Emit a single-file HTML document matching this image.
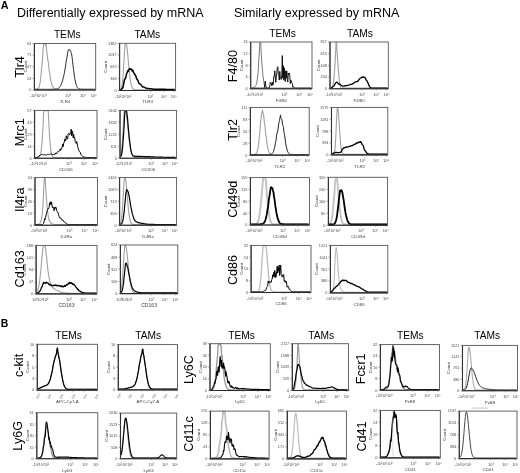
<!DOCTYPE html>
<html><head><meta charset="utf-8"><style>
html,body{margin:0;padding:0;background:#fff;width:520px;height:473px;overflow:hidden}
svg{display:block;font-family:"Liberation Sans", sans-serif;filter:blur(0.35px)}
</style></head><body>
<svg width="520" height="473" viewBox="0 0 520 473">
<rect width="520" height="473" fill="#fff"/>
<text x="0.70" y="8.80" font-size="10.8" text-anchor="start" font-weight="bold" fill="#000">A</text>
<text x="0.80" y="327.00" font-size="10.5" text-anchor="start" font-weight="bold" fill="#000">B</text>
<text x="17.00" y="16.80" font-size="12.5" text-anchor="start" font-weight="normal" fill="#000">Differentially expressed by mRNA</text>
<text x="234.00" y="16.80" font-size="12.5" text-anchor="start" font-weight="normal" fill="#000">Similarly expressed by mRNA</text>
<text x="67.20" y="37.60" font-size="10.2" text-anchor="middle" font-weight="normal" fill="#000">TEMs</text>
<text x="147.30" y="37.60" font-size="10.2" text-anchor="middle" font-weight="normal" fill="#000">TAMs</text>
<text x="282.60" y="37.00" font-size="10.2" text-anchor="middle" font-weight="normal" fill="#000">TEMs</text>
<text x="360.00" y="37.00" font-size="10.2" text-anchor="middle" font-weight="normal" fill="#000">TAMs</text>
<text x="68.50" y="339.00" font-size="10.2" text-anchor="middle" font-weight="normal" fill="#000">TEMs</text>
<text x="148.10" y="339.00" font-size="10.2" text-anchor="middle" font-weight="normal" fill="#000">TAMs</text>
<text x="241.50" y="338.80" font-size="10.2" text-anchor="middle" font-weight="normal" fill="#000">TEMs</text>
<text x="321.20" y="338.80" font-size="10.2" text-anchor="middle" font-weight="normal" fill="#000">TAMs</text>
<text x="410.40" y="338.80" font-size="10.2" text-anchor="middle" font-weight="normal" fill="#000">TEMs</text>
<text x="487.10" y="338.80" font-size="10.2" text-anchor="middle" font-weight="normal" fill="#000">TAMs</text>
<text x="24.00" y="67.00" font-size="12.6" text-anchor="middle" font-weight="normal" fill="#000" transform="rotate(-90 24.00 67.00)">Tlr4</text>
<text x="24.00" y="132.20" font-size="12.6" text-anchor="middle" font-weight="normal" fill="#000" transform="rotate(-90 24.00 132.20)">Mrc1</text>
<text x="24.00" y="199.70" font-size="12.6" text-anchor="middle" font-weight="normal" fill="#000" transform="rotate(-90 24.00 199.70)">Il4ra</text>
<text x="24.00" y="268.90" font-size="12.6" text-anchor="middle" font-weight="normal" fill="#000" transform="rotate(-90 24.00 268.90)">Cd163</text>
<text x="236.60" y="66.10" font-size="12.6" text-anchor="middle" font-weight="normal" fill="#000" transform="rotate(-90 236.60 66.10)">F4/80</text>
<text x="236.80" y="129.80" font-size="12.6" text-anchor="middle" font-weight="normal" fill="#000" transform="rotate(-90 236.80 129.80)">Tlr2</text>
<text x="236.60" y="199.20" font-size="12.6" text-anchor="middle" font-weight="normal" fill="#000" transform="rotate(-90 236.60 199.20)">Cd49d</text>
<text x="236.80" y="270.00" font-size="12.6" text-anchor="middle" font-weight="normal" fill="#000" transform="rotate(-90 236.80 270.00)">Cd86</text>
<text x="23.40" y="365.40" font-size="12.6" text-anchor="middle" font-weight="normal" fill="#000" transform="rotate(-90 23.40 365.40)">c-kit</text>
<text x="22.00" y="435.80" font-size="12.6" text-anchor="middle" font-weight="normal" fill="#000" transform="rotate(-90 22.00 435.80)">Ly6G</text>
<text x="192.80" y="369.50" font-size="12.6" text-anchor="middle" font-weight="normal" fill="#000" transform="rotate(-90 192.80 369.50)">Ly6C</text>
<text x="193.00" y="433.90" font-size="12.6" text-anchor="middle" font-weight="normal" fill="#000" transform="rotate(-90 193.00 433.90)">Cd11c</text>
<text x="365.40" y="368.80" font-size="12.6" text-anchor="middle" font-weight="normal" fill="#000" transform="rotate(-90 365.40 368.80)">Fcεr1</text>
<text x="365.60" y="436.50" font-size="12.6" text-anchor="middle" font-weight="normal" fill="#000" transform="rotate(-90 365.60 436.50)">Cd41</text>
<path d="M35.00,89.29 L35.50,89.28 L36.00,89.26 L36.50,89.21 L37.00,89.09 L37.50,88.90 L38.00,88.56 L38.50,87.87 L39.00,86.96 L39.50,85.23 L40.00,83.14 L40.50,79.98 L41.00,75.33 L41.50,69.19 L42.00,65.11 L42.50,58.71 L43.00,51.04 L43.50,44.19 L44.00,43.80 L44.50,43.80 L45.00,43.80 L45.50,45.47 L46.00,43.80 L46.50,49.28 L47.00,53.48 L47.50,57.47 L48.00,60.86 L48.50,63.50 L49.00,69.32 L49.50,72.14 L50.00,75.47 L50.50,78.81 L51.00,81.09 L51.50,83.50 L52.00,85.04 L52.50,86.19 L53.00,86.98 L53.50,87.75 L54.00,88.27 L54.50,88.60 L55.00,88.86 L55.50,89.03 L56.00,89.12 L56.50,89.19 L57.00,89.24 L57.50,89.26 L58.00,89.28 L58.50,89.29 L59.00,89.29 L59.50,89.30 L60.00,89.30 L60.50,89.30 L61.00,89.30 L61.50,89.30 L62.00,89.30 L62.50,89.30 L63.00,89.30 L63.50,89.30 L64.00,89.30 L64.50,89.30 L65.00,89.30 L65.50,89.30 L66.00,89.30 L66.50,89.30 L67.00,89.30 L67.50,89.30 L68.00,89.30 L68.50,89.30 L69.00,89.30 L69.50,89.30 L70.00,89.30 L70.50,89.30 L71.00,89.30 L71.50,89.30 L72.00,89.30 L72.50,89.30 L73.00,89.30 L73.50,89.30 L74.00,89.30 L74.50,89.30 L75.00,89.30 L75.50,89.30 L76.00,89.30 L76.50,89.30 L77.00,89.30 L77.50,89.30 L78.00,89.30 L78.50,89.30 L79.00,89.30 L79.50,89.30 L80.00,89.30 L80.50,89.30 L81.00,89.30 L81.50,89.30 L82.00,89.30 L82.50,89.30 L83.00,89.30 L83.50,89.30 L84.00,89.30 L84.50,89.30 L85.00,89.30 L85.50,89.30 L86.00,89.30 L86.50,89.30 L87.00,89.30 L87.50,89.30 L88.00,89.30 L88.50,89.30 L89.00,89.30 L89.50,89.30 L90.00,89.30 L90.50,89.30 L91.00,89.30 L91.50,89.30 L92.00,89.30 L92.50,89.30 L93.00,89.30 L93.50,89.30 L94.00,89.30 L94.50,89.30 L95.00,89.30" fill="none" stroke="#a0a0a0" stroke-width="1.1" stroke-linejoin="round"/>
<path d="M35.00,89.30 L35.50,89.30 L36.00,89.30 L36.50,89.30 L37.00,89.30 L37.50,89.30 L38.00,89.30 L38.50,89.30 L39.00,89.30 L39.50,89.30 L40.00,89.30 L40.50,89.30 L41.00,89.30 L41.50,89.30 L42.00,89.30 L42.50,89.30 L43.00,89.30 L43.50,89.30 L44.00,89.30 L44.50,89.30 L45.00,89.30 L45.50,89.30 L46.00,89.30 L46.50,89.30 L47.00,89.30 L47.50,89.30 L48.00,89.30 L48.50,89.30 L49.00,89.30 L49.50,89.30 L50.00,89.30 L50.50,89.30 L51.00,89.30 L51.50,89.30 L52.00,89.30 L52.50,89.29 L53.00,89.29 L53.50,89.28 L54.00,89.27 L54.50,89.25 L55.00,89.22 L55.50,89.19 L56.00,89.13 L56.50,89.06 L57.00,88.93 L57.50,88.78 L58.00,88.55 L58.50,88.30 L59.00,87.93 L59.50,87.36 L60.00,86.68 L60.50,85.90 L61.00,84.91 L61.50,83.68 L62.00,82.26 L62.50,80.91 L63.00,78.78 L63.50,76.76 L64.00,74.77 L64.50,72.25 L65.00,69.16 L65.50,66.36 L66.00,62.58 L66.50,59.05 L67.00,57.52 L67.50,53.70 L68.00,51.31 L68.50,49.59 L69.00,50.15 L69.50,49.88 L70.00,49.71 L70.50,50.57 L71.00,52.33 L71.50,53.82 L72.00,56.59 L72.50,60.72 L73.00,65.59 L73.50,69.35 L74.00,73.00 L74.50,77.22 L75.00,79.63 L75.50,81.97 L76.00,84.06 L76.50,85.63 L77.00,86.84 L77.50,87.71 L78.00,88.22 L78.50,88.64 L79.00,88.88 L79.50,89.05 L80.00,89.16 L80.50,89.22 L81.00,89.26 L81.50,89.28 L82.00,89.29 L82.50,89.29 L83.00,89.30 L83.50,89.30 L84.00,89.30 L84.50,89.30 L85.00,89.30 L85.50,89.30 L86.00,89.30 L86.50,89.30 L87.00,89.30 L87.50,89.30 L88.00,89.30 L88.50,89.30 L89.00,89.30 L89.50,89.30 L90.00,89.30 L90.50,89.30 L91.00,89.30 L91.50,89.30 L92.00,89.30 L92.50,89.30 L93.00,89.30 L93.50,89.30 L94.00,89.30 L94.50,89.30 L95.00,89.30" fill="none" stroke="#222" stroke-width="0.95" stroke-linejoin="round"/>
<rect x="34.40" y="43.50" width="61.30" height="46.50" fill="none" stroke="#555" stroke-width="0.9"/>
<path d="M34.40,43.50 V90.00 H95.70" fill="none" stroke="#2a2a2a" stroke-width="1.1"/>
<line x1="32.60" y1="90.00" x2="34.40" y2="90.00" stroke="#666" stroke-width="0.7"/>
<line x1="32.60" y1="78.38" x2="34.40" y2="78.38" stroke="#666" stroke-width="0.7"/>
<line x1="32.60" y1="66.75" x2="34.40" y2="66.75" stroke="#666" stroke-width="0.7"/>
<line x1="32.60" y1="55.12" x2="34.40" y2="55.12" stroke="#666" stroke-width="0.7"/>
<line x1="32.60" y1="43.50" x2="34.40" y2="43.50" stroke="#666" stroke-width="0.7"/>
<line x1="33.50" y1="90.00" x2="34.40" y2="90.00" stroke="#999" stroke-width="0.4"/>
<line x1="33.50" y1="87.09" x2="34.40" y2="87.09" stroke="#999" stroke-width="0.4"/>
<line x1="33.50" y1="84.19" x2="34.40" y2="84.19" stroke="#999" stroke-width="0.4"/>
<line x1="33.50" y1="81.28" x2="34.40" y2="81.28" stroke="#999" stroke-width="0.4"/>
<line x1="33.50" y1="78.38" x2="34.40" y2="78.38" stroke="#999" stroke-width="0.4"/>
<line x1="33.50" y1="75.47" x2="34.40" y2="75.47" stroke="#999" stroke-width="0.4"/>
<line x1="33.50" y1="72.56" x2="34.40" y2="72.56" stroke="#999" stroke-width="0.4"/>
<line x1="33.50" y1="69.66" x2="34.40" y2="69.66" stroke="#999" stroke-width="0.4"/>
<line x1="33.50" y1="66.75" x2="34.40" y2="66.75" stroke="#999" stroke-width="0.4"/>
<line x1="33.50" y1="63.84" x2="34.40" y2="63.84" stroke="#999" stroke-width="0.4"/>
<line x1="33.50" y1="60.94" x2="34.40" y2="60.94" stroke="#999" stroke-width="0.4"/>
<line x1="33.50" y1="58.03" x2="34.40" y2="58.03" stroke="#999" stroke-width="0.4"/>
<line x1="33.50" y1="55.12" x2="34.40" y2="55.12" stroke="#999" stroke-width="0.4"/>
<line x1="33.50" y1="52.22" x2="34.40" y2="52.22" stroke="#999" stroke-width="0.4"/>
<line x1="33.50" y1="49.31" x2="34.40" y2="49.31" stroke="#999" stroke-width="0.4"/>
<line x1="33.50" y1="46.41" x2="34.40" y2="46.41" stroke="#999" stroke-width="0.4"/>
<line x1="33.50" y1="43.50" x2="34.40" y2="43.50" stroke="#999" stroke-width="0.4"/>
<text x="31.30" y="91.35" font-size="3.8" text-anchor="end" font-weight="normal" fill="#4a4a4a">0</text>
<text x="31.30" y="79.72" font-size="3.8" text-anchor="end" font-weight="normal" fill="#4a4a4a">24</text>
<text x="31.30" y="68.10" font-size="3.8" text-anchor="end" font-weight="normal" fill="#4a4a4a">47</text>
<text x="31.30" y="56.48" font-size="3.8" text-anchor="end" font-weight="normal" fill="#4a4a4a">71</text>
<text x="31.30" y="44.85" font-size="3.8" text-anchor="end" font-weight="normal" fill="#4a4a4a">94</text>
<text x="26.50" y="66.75" font-size="4.4" text-anchor="middle" font-weight="normal" fill="#444" transform="rotate(-90 26.50 66.75)">Count</text>
<text x="38.38" y="97.20" font-size="4.0" text-anchor="middle" font-weight="normal" fill="#4a4a4a" textLength="16.5" lengthAdjust="spacingAndGlyphs">-10²10¹10²</text>
<line x1="68.12" y1="90.00" x2="68.12" y2="91.50" stroke="#666" stroke-width="0.6"/>
<text x="68.12" y="97.20" font-size="4.0" text-anchor="middle" font-weight="normal" fill="#4a4a4a">10³</text>
<line x1="83.13" y1="90.00" x2="83.13" y2="91.50" stroke="#666" stroke-width="0.6"/>
<text x="83.13" y="97.20" font-size="4.0" text-anchor="middle" font-weight="normal" fill="#4a4a4a">10⁴</text>
<line x1="93.86" y1="90.00" x2="93.86" y2="91.50" stroke="#666" stroke-width="0.6"/>
<text x="93.86" y="97.20" font-size="4.0" text-anchor="middle" font-weight="normal" fill="#4a4a4a">10⁵</text>
<text x="65.05" y="102.81" font-size="4.4" text-anchor="middle" font-weight="normal" fill="#444">TLR4</text>
<path d="M120.20,89.54 L120.70,89.16 L121.20,88.36 L121.70,86.79 L122.20,84.03 L122.70,79.68 L123.20,73.52 L123.70,65.77 L124.20,57.28 L124.70,49.43 L125.20,43.83 L125.70,43.60 L126.20,43.60 L126.70,45.22 L127.20,49.16 L127.70,54.09 L128.20,59.57 L128.70,65.13 L129.20,70.40 L129.70,75.10 L130.20,79.07 L130.70,82.25 L131.20,84.68 L131.70,86.45 L132.20,87.69 L132.70,88.52 L133.20,89.05 L133.70,89.38 L134.20,89.57 L134.70,89.68 L135.20,89.74 L135.70,89.77 L136.20,89.79 L136.70,89.79 L137.20,89.80 L137.70,89.80 L138.20,89.80 L138.70,89.80 L139.20,89.80 L139.70,89.80 L140.20,89.80 L140.70,89.80 L141.20,89.80 L141.70,89.80 L142.20,89.80 L142.70,89.80 L143.20,89.80 L143.70,89.80 L144.20,89.80 L144.70,89.80 L145.20,89.80 L145.70,89.80 L146.20,89.80 L146.70,89.80 L147.20,89.80 L147.70,89.80 L148.20,89.80 L148.70,89.80 L149.20,89.80 L149.70,89.80 L150.20,89.80 L150.70,89.80 L151.20,89.80 L151.70,89.80 L152.20,89.80 L152.70,89.80 L153.20,89.80 L153.70,89.80 L154.20,89.80 L154.70,89.80 L155.20,89.80 L155.70,89.80 L156.20,89.80 L156.70,89.80 L157.20,89.80 L157.70,89.80 L158.20,89.80 L158.70,89.80 L159.20,89.80 L159.70,89.80 L160.20,89.80 L160.70,89.80 L161.20,89.80 L161.70,89.80 L162.20,89.80 L162.70,89.80 L163.20,89.80 L163.70,89.80 L164.20,89.80 L164.70,89.80 L165.20,89.80 L165.70,89.80 L166.20,89.80 L166.70,89.80 L167.20,89.80 L167.70,89.80 L168.20,89.80 L168.70,89.80 L169.20,89.80 L169.70,89.80 L170.20,89.80 L170.70,89.80 L171.20,89.80 L171.70,89.80 L172.20,89.80 L172.70,89.80 L173.20,89.80 L173.70,89.80 L174.20,89.80 L174.70,89.80" fill="none" stroke="#a0a0a0" stroke-width="1.1" stroke-linejoin="round"/>
<path d="M120.20,89.80 L120.70,89.80 L121.20,89.74 L121.70,89.13 L122.20,88.43 L122.70,88.08 L123.20,86.60 L123.70,83.60 L124.20,81.00 L124.70,79.10 L125.20,78.66 L125.70,78.04 L126.20,75.37 L126.70,73.57 L127.20,72.47 L127.70,70.71 L128.20,71.47 L128.70,70.18 L129.20,68.92 L129.70,68.77 L130.20,69.19 L130.70,69.01 L131.20,69.35 L131.70,69.33 L132.20,70.99 L132.70,70.20 L133.20,71.43 L133.70,72.65 L134.20,73.24 L134.70,74.62 L135.20,74.82 L135.70,75.67 L136.20,77.25 L136.70,79.12 L137.20,79.25 L137.70,80.05 L138.20,81.27 L138.70,82.46 L139.20,83.57 L139.70,83.79 L140.20,84.05 L140.70,84.33 L141.20,85.16 L141.70,85.83 L142.20,86.44 L142.70,87.01 L143.20,86.99 L143.70,86.95 L144.20,87.11 L144.70,87.46 L145.20,87.67 L145.70,87.84 L146.20,88.13 L146.70,88.31 L147.20,88.49 L147.70,88.53 L148.20,88.56 L148.70,88.56 L149.20,88.67 L149.70,88.64 L150.20,88.69 L150.70,88.81 L151.20,88.80 L151.70,88.87 L152.20,89.00 L152.70,89.01 L153.20,89.11 L153.70,89.15 L154.20,89.15 L154.70,89.18 L155.20,89.22 L155.70,89.21 L156.20,89.20 L156.70,89.21 L157.20,89.23 L157.70,89.22 L158.20,89.21 L158.70,89.25 L159.20,89.23 L159.70,89.24 L160.20,89.27 L160.70,89.27 L161.20,89.26 L161.70,89.28 L162.20,89.31 L162.70,89.27 L163.20,89.29 L163.70,89.30 L164.20,89.35 L164.70,89.35 L165.20,89.38 L165.70,89.35 L166.20,89.39 L166.70,89.40 L167.20,89.40 L167.70,89.40 L168.20,89.41 L168.70,89.44 L169.20,89.45 L169.70,89.44 L170.20,89.46 L170.70,89.46 L171.20,89.49 L171.70,89.49 L172.20,89.48 L172.70,89.49 L173.20,89.51 L173.70,89.48 L174.20,89.49 L174.70,89.49" fill="none" stroke="#000" stroke-width="1.5" stroke-linejoin="round"/>
<rect x="119.60" y="43.30" width="56.00" height="47.20" fill="none" stroke="#555" stroke-width="0.9"/>
<path d="M119.60,43.30 V90.50 H175.60" fill="none" stroke="#2a2a2a" stroke-width="1.1"/>
<line x1="117.80" y1="90.50" x2="119.60" y2="90.50" stroke="#666" stroke-width="0.7"/>
<line x1="117.80" y1="78.70" x2="119.60" y2="78.70" stroke="#666" stroke-width="0.7"/>
<line x1="117.80" y1="66.90" x2="119.60" y2="66.90" stroke="#666" stroke-width="0.7"/>
<line x1="117.80" y1="55.10" x2="119.60" y2="55.10" stroke="#666" stroke-width="0.7"/>
<line x1="117.80" y1="43.30" x2="119.60" y2="43.30" stroke="#666" stroke-width="0.7"/>
<line x1="118.70" y1="90.50" x2="119.60" y2="90.50" stroke="#999" stroke-width="0.4"/>
<line x1="118.70" y1="87.55" x2="119.60" y2="87.55" stroke="#999" stroke-width="0.4"/>
<line x1="118.70" y1="84.60" x2="119.60" y2="84.60" stroke="#999" stroke-width="0.4"/>
<line x1="118.70" y1="81.65" x2="119.60" y2="81.65" stroke="#999" stroke-width="0.4"/>
<line x1="118.70" y1="78.70" x2="119.60" y2="78.70" stroke="#999" stroke-width="0.4"/>
<line x1="118.70" y1="75.75" x2="119.60" y2="75.75" stroke="#999" stroke-width="0.4"/>
<line x1="118.70" y1="72.80" x2="119.60" y2="72.80" stroke="#999" stroke-width="0.4"/>
<line x1="118.70" y1="69.85" x2="119.60" y2="69.85" stroke="#999" stroke-width="0.4"/>
<line x1="118.70" y1="66.90" x2="119.60" y2="66.90" stroke="#999" stroke-width="0.4"/>
<line x1="118.70" y1="63.95" x2="119.60" y2="63.95" stroke="#999" stroke-width="0.4"/>
<line x1="118.70" y1="61.00" x2="119.60" y2="61.00" stroke="#999" stroke-width="0.4"/>
<line x1="118.70" y1="58.05" x2="119.60" y2="58.05" stroke="#999" stroke-width="0.4"/>
<line x1="118.70" y1="55.10" x2="119.60" y2="55.10" stroke="#999" stroke-width="0.4"/>
<line x1="118.70" y1="52.15" x2="119.60" y2="52.15" stroke="#999" stroke-width="0.4"/>
<line x1="118.70" y1="49.20" x2="119.60" y2="49.20" stroke="#999" stroke-width="0.4"/>
<line x1="118.70" y1="46.25" x2="119.60" y2="46.25" stroke="#999" stroke-width="0.4"/>
<line x1="118.70" y1="43.30" x2="119.60" y2="43.30" stroke="#999" stroke-width="0.4"/>
<text x="116.50" y="91.85" font-size="3.8" text-anchor="end" font-weight="normal" fill="#4a4a4a">0</text>
<text x="116.50" y="80.05" font-size="3.8" text-anchor="end" font-weight="normal" fill="#4a4a4a">346</text>
<text x="116.50" y="68.25" font-size="3.8" text-anchor="end" font-weight="normal" fill="#4a4a4a">692</text>
<text x="116.50" y="56.45" font-size="3.8" text-anchor="end" font-weight="normal" fill="#4a4a4a">1037</text>
<text x="116.50" y="44.65" font-size="3.8" text-anchor="end" font-weight="normal" fill="#4a4a4a">1382</text>
<text x="106.80" y="66.90" font-size="4.4" text-anchor="middle" font-weight="normal" fill="#444" transform="rotate(-90 106.80 66.90)">Count</text>
<text x="123.24" y="97.70" font-size="4.0" text-anchor="middle" font-weight="normal" fill="#4a4a4a" textLength="16.5" lengthAdjust="spacingAndGlyphs">-10²10¹10²</text>
<line x1="150.40" y1="90.50" x2="150.40" y2="92.00" stroke="#666" stroke-width="0.6"/>
<text x="150.40" y="97.70" font-size="4.0" text-anchor="middle" font-weight="normal" fill="#4a4a4a">10³</text>
<line x1="164.12" y1="90.50" x2="164.12" y2="92.00" stroke="#666" stroke-width="0.6"/>
<text x="164.12" y="97.70" font-size="4.0" text-anchor="middle" font-weight="normal" fill="#4a4a4a">10⁴</text>
<line x1="173.92" y1="90.50" x2="173.92" y2="92.00" stroke="#666" stroke-width="0.6"/>
<text x="173.92" y="97.70" font-size="4.0" text-anchor="middle" font-weight="normal" fill="#4a4a4a">10⁵</text>
<text x="147.60" y="103.31" font-size="4.4" text-anchor="middle" font-weight="normal" fill="#444">TLR4</text>
<path d="M35.20,157.50 L35.70,157.50 L36.20,157.50 L36.70,157.49 L37.20,157.47 L37.70,157.44 L38.20,157.35 L38.70,157.16 L39.20,156.84 L39.70,156.21 L40.20,155.02 L40.70,153.20 L41.20,150.33 L41.70,145.98 L42.20,140.15 L42.70,132.15 L43.20,122.44 L43.70,111.90 L44.20,110.70 L44.70,110.70 L45.20,110.70 L45.70,110.70 L46.20,110.70 L46.70,110.70 L47.20,110.70 L47.70,110.70 L48.20,110.70 L48.70,119.67 L49.20,130.41 L49.70,138.09 L50.20,144.12 L50.70,149.59 L51.20,152.48 L51.70,154.73 L52.20,155.99 L52.70,156.70 L53.20,157.13 L53.70,157.32 L54.20,157.42 L54.70,157.47 L55.20,157.49 L55.70,157.50 L56.20,157.50 L56.70,157.50 L57.20,157.50 L57.70,157.50 L58.20,157.50 L58.70,157.50 L59.20,157.50 L59.70,157.50 L60.20,157.50 L60.70,157.50 L61.20,157.50 L61.70,157.50 L62.20,157.50 L62.70,157.50 L63.20,157.50 L63.70,157.50 L64.20,157.50 L64.70,157.50 L65.20,157.50 L65.70,157.50 L66.20,157.50 L66.70,157.50 L67.20,157.50 L67.70,157.50 L68.20,157.50 L68.70,157.50 L69.20,157.50 L69.70,157.50 L70.20,157.50 L70.70,157.50 L71.20,157.50 L71.70,157.50 L72.20,157.50 L72.70,157.50 L73.20,157.50 L73.70,157.50 L74.20,157.50 L74.70,157.50 L75.20,157.50 L75.70,157.50 L76.20,157.50 L76.70,157.50 L77.20,157.50 L77.70,157.50 L78.20,157.50 L78.70,157.50 L79.20,157.50 L79.70,157.50 L80.20,157.50 L80.70,157.50 L81.20,157.50 L81.70,157.50 L82.20,157.50 L82.70,157.50 L83.20,157.50 L83.70,157.50 L84.20,157.50 L84.70,157.50 L85.20,157.50 L85.70,157.50 L86.20,157.50 L86.70,157.50 L87.20,157.50 L87.70,157.50 L88.20,157.50 L88.70,157.50 L89.20,157.50 L89.70,157.50 L90.20,157.50 L90.70,157.50 L91.20,157.50 L91.70,157.50 L92.20,157.50 L92.70,157.50 L93.20,157.50 L93.70,157.50 L94.20,157.50 L94.70,157.50 L95.20,157.50 L95.70,157.50 L96.20,157.50" fill="none" stroke="#a0a0a0" stroke-width="1.1" stroke-linejoin="round"/>
<path d="M35.20,157.50 L35.70,157.50 L36.20,157.50 L36.70,157.50 L37.20,157.47 L37.70,157.19 L38.20,156.82 L38.70,156.08 L39.20,155.84 L39.70,155.74 L40.20,155.56 L40.70,154.99 L41.20,155.02 L41.70,154.35 L42.20,154.11 L42.70,154.57 L43.20,154.77 L43.70,154.82 L44.20,154.78 L44.70,154.80 L45.20,154.91 L45.70,154.83 L46.20,155.14 L46.70,154.97 L47.20,154.78 L47.70,154.31 L48.20,154.65 L48.70,154.30 L49.20,154.63 L49.70,154.45 L50.20,154.23 L50.70,153.93 L51.20,154.06 L51.70,154.23 L52.20,154.66 L52.70,154.49 L53.20,154.53 L53.70,154.53 L54.20,154.80 L54.70,153.87 L55.20,154.15 L55.70,153.03 L56.20,152.97 L56.70,153.69 L57.20,152.58 L57.70,151.60 L58.20,151.24 L58.70,151.67 L59.20,151.35 L59.70,150.82 L60.20,148.82 L60.70,150.27 L61.20,148.74 L61.70,148.71 L62.20,146.40 L62.70,144.14 L63.20,146.63 L63.70,143.06 L64.20,142.41 L64.70,139.14 L65.20,139.50 L65.70,140.94 L66.20,135.84 L66.70,136.82 L67.20,139.22 L67.70,138.63 L68.20,134.27 L68.70,133.33 L69.20,133.89 L69.70,134.85 L70.20,133.03 L70.70,132.90 L71.20,129.13 L71.70,135.81 L72.20,130.96 L72.70,132.19 L73.20,137.84 L73.70,134.53 L74.20,138.14 L74.70,137.66 L75.20,141.58 L75.70,142.46 L76.20,143.48 L76.70,141.54 L77.20,143.90 L77.70,146.53 L78.20,148.43 L78.70,150.22 L79.20,151.03 L79.70,151.78 L80.20,152.22 L80.70,154.40 L81.20,154.67 L81.70,155.31 L82.20,155.79 L82.70,156.33 L83.20,156.91 L83.70,157.02 L84.20,157.02 L84.70,157.19 L85.20,157.36 L85.70,157.48 L86.20,157.50 L86.70,157.50 L87.20,157.50 L87.70,157.50 L88.20,157.50 L88.70,157.50 L89.20,157.50 L89.70,157.50 L90.20,157.50 L90.70,157.50 L91.20,157.50 L91.70,157.50 L92.20,157.50 L92.70,157.50 L93.20,157.50 L93.70,157.50 L94.20,157.50 L94.70,157.50 L95.20,157.50 L95.70,157.50 L96.20,157.50" fill="none" stroke="#000" stroke-width="1.0" stroke-linejoin="round"/>
<rect x="34.60" y="110.40" width="62.40" height="47.80" fill="none" stroke="#555" stroke-width="0.9"/>
<path d="M34.60,110.40 V158.20 H97.00" fill="none" stroke="#2a2a2a" stroke-width="1.1"/>
<line x1="32.80" y1="158.20" x2="34.60" y2="158.20" stroke="#666" stroke-width="0.7"/>
<line x1="32.80" y1="146.25" x2="34.60" y2="146.25" stroke="#666" stroke-width="0.7"/>
<line x1="32.80" y1="134.30" x2="34.60" y2="134.30" stroke="#666" stroke-width="0.7"/>
<line x1="32.80" y1="122.35" x2="34.60" y2="122.35" stroke="#666" stroke-width="0.7"/>
<line x1="32.80" y1="110.40" x2="34.60" y2="110.40" stroke="#666" stroke-width="0.7"/>
<line x1="33.70" y1="158.20" x2="34.60" y2="158.20" stroke="#999" stroke-width="0.4"/>
<line x1="33.70" y1="155.21" x2="34.60" y2="155.21" stroke="#999" stroke-width="0.4"/>
<line x1="33.70" y1="152.22" x2="34.60" y2="152.22" stroke="#999" stroke-width="0.4"/>
<line x1="33.70" y1="149.24" x2="34.60" y2="149.24" stroke="#999" stroke-width="0.4"/>
<line x1="33.70" y1="146.25" x2="34.60" y2="146.25" stroke="#999" stroke-width="0.4"/>
<line x1="33.70" y1="143.26" x2="34.60" y2="143.26" stroke="#999" stroke-width="0.4"/>
<line x1="33.70" y1="140.28" x2="34.60" y2="140.28" stroke="#999" stroke-width="0.4"/>
<line x1="33.70" y1="137.29" x2="34.60" y2="137.29" stroke="#999" stroke-width="0.4"/>
<line x1="33.70" y1="134.30" x2="34.60" y2="134.30" stroke="#999" stroke-width="0.4"/>
<line x1="33.70" y1="131.31" x2="34.60" y2="131.31" stroke="#999" stroke-width="0.4"/>
<line x1="33.70" y1="128.32" x2="34.60" y2="128.32" stroke="#999" stroke-width="0.4"/>
<line x1="33.70" y1="125.34" x2="34.60" y2="125.34" stroke="#999" stroke-width="0.4"/>
<line x1="33.70" y1="122.35" x2="34.60" y2="122.35" stroke="#999" stroke-width="0.4"/>
<line x1="33.70" y1="119.36" x2="34.60" y2="119.36" stroke="#999" stroke-width="0.4"/>
<line x1="33.70" y1="116.38" x2="34.60" y2="116.38" stroke="#999" stroke-width="0.4"/>
<line x1="33.70" y1="113.39" x2="34.60" y2="113.39" stroke="#999" stroke-width="0.4"/>
<line x1="33.70" y1="110.40" x2="34.60" y2="110.40" stroke="#999" stroke-width="0.4"/>
<text x="31.50" y="159.55" font-size="3.8" text-anchor="end" font-weight="normal" fill="#4a4a4a">0</text>
<text x="31.50" y="147.60" font-size="3.8" text-anchor="end" font-weight="normal" fill="#4a4a4a">14</text>
<text x="31.50" y="135.65" font-size="3.8" text-anchor="end" font-weight="normal" fill="#4a4a4a">29</text>
<text x="31.50" y="123.70" font-size="3.8" text-anchor="end" font-weight="normal" fill="#4a4a4a">43</text>
<text x="31.50" y="111.75" font-size="3.8" text-anchor="end" font-weight="normal" fill="#4a4a4a">57</text>
<text x="26.70" y="134.30" font-size="4.4" text-anchor="middle" font-weight="normal" fill="#444" transform="rotate(-90 26.70 134.30)">Count</text>
<text x="38.66" y="165.40" font-size="4.0" text-anchor="middle" font-weight="normal" fill="#4a4a4a" textLength="16.5" lengthAdjust="spacingAndGlyphs">-10²10¹10²</text>
<line x1="68.92" y1="158.20" x2="68.92" y2="159.70" stroke="#666" stroke-width="0.6"/>
<text x="68.92" y="165.40" font-size="4.0" text-anchor="middle" font-weight="normal" fill="#4a4a4a">10³</text>
<line x1="84.21" y1="158.20" x2="84.21" y2="159.70" stroke="#666" stroke-width="0.6"/>
<text x="84.21" y="165.40" font-size="4.0" text-anchor="middle" font-weight="normal" fill="#4a4a4a">10⁴</text>
<line x1="95.13" y1="158.20" x2="95.13" y2="159.70" stroke="#666" stroke-width="0.6"/>
<text x="95.13" y="165.40" font-size="4.0" text-anchor="middle" font-weight="normal" fill="#4a4a4a">10⁵</text>
<text x="65.80" y="171.01" font-size="4.4" text-anchor="middle" font-weight="normal" fill="#444">CD206</text>
<path d="M120.60,155.91 L121.10,154.05 L121.60,150.73 L122.10,145.46 L122.60,138.07 L123.10,129.07 L123.60,119.76 L124.10,112.06 L124.60,110.70 L125.10,110.70 L125.60,110.70 L126.10,111.98 L126.60,115.74 L127.10,120.23 L127.60,125.15 L128.10,130.20 L128.60,135.08 L129.10,139.60 L129.60,143.60 L130.10,147.00 L130.60,149.79 L131.10,151.99 L131.60,153.67 L132.10,154.91 L132.60,155.80 L133.10,156.41 L133.60,156.82 L134.10,157.09 L134.60,157.26 L135.10,157.36 L135.60,157.42 L136.10,157.46 L136.60,157.48 L137.10,157.49 L137.60,157.49 L138.10,157.50 L138.60,157.50 L139.10,157.50 L139.60,157.50 L140.10,157.50 L140.60,157.50 L141.10,157.50 L141.60,157.50 L142.10,157.50 L142.60,157.50 L143.10,157.50 L143.60,157.50 L144.10,157.50 L144.60,157.50 L145.10,157.50 L145.60,157.50 L146.10,157.50 L146.60,157.50 L147.10,157.50 L147.60,157.50 L148.10,157.50 L148.60,157.50 L149.10,157.50 L149.60,157.50 L150.10,157.50 L150.60,157.50 L151.10,157.50 L151.60,157.50 L152.10,157.50 L152.60,157.50 L153.10,157.50 L153.60,157.50 L154.10,157.50 L154.60,157.50 L155.10,157.50 L155.60,157.50 L156.10,157.50 L156.60,157.50 L157.10,157.50 L157.60,157.50 L158.10,157.50 L158.60,157.50 L159.10,157.50 L159.60,157.50 L160.10,157.50 L160.60,157.50 L161.10,157.50 L161.60,157.50 L162.10,157.50 L162.60,157.50 L163.10,157.50 L163.60,157.50 L164.10,157.50 L164.60,157.50 L165.10,157.50 L165.60,157.50 L166.10,157.50 L166.60,157.50 L167.10,157.50 L167.60,157.50 L168.10,157.50 L168.60,157.50 L169.10,157.50 L169.60,157.50 L170.10,157.50 L170.60,157.50 L171.10,157.50 L171.60,157.50 L172.10,157.50 L172.60,157.50 L173.10,157.50 L173.60,157.50 L174.10,157.50 L174.60,157.50 L175.10,157.50 L175.60,157.50" fill="none" stroke="#a0a0a0" stroke-width="1.1" stroke-linejoin="round"/>
<path d="M120.60,156.70 L121.10,155.83 L121.60,154.28 L122.10,151.60 L122.60,147.43 L123.10,140.50 L123.60,133.68 L124.10,126.22 L124.60,115.61 L125.10,110.70 L125.60,110.70 L126.10,110.70 L126.60,110.99 L127.10,115.07 L127.60,118.88 L128.10,125.38 L128.60,130.68 L129.10,136.18 L129.60,140.63 L130.10,144.55 L130.60,148.23 L131.10,151.10 L131.60,152.96 L132.10,154.20 L132.60,155.09 L133.10,155.63 L133.60,155.99 L134.10,156.14 L134.60,156.15 L135.10,156.31 L135.60,156.30 L136.10,156.31 L136.60,156.29 L137.10,156.38 L137.60,156.38 L138.10,156.40 L138.60,156.39 L139.10,156.40 L139.60,156.35 L140.10,156.38 L140.60,156.39 L141.10,156.49 L141.60,156.51 L142.10,156.45 L142.60,156.45 L143.10,156.51 L143.60,156.52 L144.10,156.59 L144.60,156.57 L145.10,156.54 L145.60,156.57 L146.10,156.59 L146.60,156.60 L147.10,156.68 L147.60,156.71 L148.10,156.72 L148.60,156.71 L149.10,156.72 L149.60,156.72 L150.10,156.76 L150.60,156.79 L151.10,156.80 L151.60,156.84 L152.10,156.85 L152.60,156.91 L153.10,156.88 L153.60,156.93 L154.10,156.91 L154.60,156.95 L155.10,156.98 L155.60,157.01 L156.10,157.02 L156.60,157.02 L157.10,157.04 L157.60,157.08 L158.10,157.10 L158.60,157.10 L159.10,157.11 L159.60,157.13 L160.10,157.16 L160.60,157.16 L161.10,157.19 L161.60,157.20 L162.10,157.20 L162.60,157.20 L163.10,157.23 L163.60,157.23 L164.10,157.26 L164.60,157.27 L165.10,157.28 L165.60,157.28 L166.10,157.30 L166.60,157.31 L167.10,157.33 L167.60,157.33 L168.10,157.34 L168.60,157.35 L169.10,157.36 L169.60,157.36 L170.10,157.37 L170.60,157.38 L171.10,157.39 L171.60,157.40 L172.10,157.40 L172.60,157.40 L173.10,157.41 L173.60,157.41 L174.10,157.42 L174.60,157.43 L175.10,157.43 L175.60,157.43" fill="none" stroke="#000" stroke-width="1.2" stroke-linejoin="round"/>
<rect x="120.00" y="110.40" width="56.60" height="47.80" fill="none" stroke="#555" stroke-width="0.9"/>
<path d="M120.00,110.40 V158.20 H176.60" fill="none" stroke="#2a2a2a" stroke-width="1.1"/>
<line x1="118.20" y1="158.20" x2="120.00" y2="158.20" stroke="#666" stroke-width="0.7"/>
<line x1="118.20" y1="146.25" x2="120.00" y2="146.25" stroke="#666" stroke-width="0.7"/>
<line x1="118.20" y1="134.30" x2="120.00" y2="134.30" stroke="#666" stroke-width="0.7"/>
<line x1="118.20" y1="122.35" x2="120.00" y2="122.35" stroke="#666" stroke-width="0.7"/>
<line x1="118.20" y1="110.40" x2="120.00" y2="110.40" stroke="#666" stroke-width="0.7"/>
<line x1="119.10" y1="158.20" x2="120.00" y2="158.20" stroke="#999" stroke-width="0.4"/>
<line x1="119.10" y1="155.21" x2="120.00" y2="155.21" stroke="#999" stroke-width="0.4"/>
<line x1="119.10" y1="152.22" x2="120.00" y2="152.22" stroke="#999" stroke-width="0.4"/>
<line x1="119.10" y1="149.24" x2="120.00" y2="149.24" stroke="#999" stroke-width="0.4"/>
<line x1="119.10" y1="146.25" x2="120.00" y2="146.25" stroke="#999" stroke-width="0.4"/>
<line x1="119.10" y1="143.26" x2="120.00" y2="143.26" stroke="#999" stroke-width="0.4"/>
<line x1="119.10" y1="140.28" x2="120.00" y2="140.28" stroke="#999" stroke-width="0.4"/>
<line x1="119.10" y1="137.29" x2="120.00" y2="137.29" stroke="#999" stroke-width="0.4"/>
<line x1="119.10" y1="134.30" x2="120.00" y2="134.30" stroke="#999" stroke-width="0.4"/>
<line x1="119.10" y1="131.31" x2="120.00" y2="131.31" stroke="#999" stroke-width="0.4"/>
<line x1="119.10" y1="128.32" x2="120.00" y2="128.32" stroke="#999" stroke-width="0.4"/>
<line x1="119.10" y1="125.34" x2="120.00" y2="125.34" stroke="#999" stroke-width="0.4"/>
<line x1="119.10" y1="122.35" x2="120.00" y2="122.35" stroke="#999" stroke-width="0.4"/>
<line x1="119.10" y1="119.36" x2="120.00" y2="119.36" stroke="#999" stroke-width="0.4"/>
<line x1="119.10" y1="116.38" x2="120.00" y2="116.38" stroke="#999" stroke-width="0.4"/>
<line x1="119.10" y1="113.39" x2="120.00" y2="113.39" stroke="#999" stroke-width="0.4"/>
<line x1="119.10" y1="110.40" x2="120.00" y2="110.40" stroke="#999" stroke-width="0.4"/>
<text x="116.90" y="159.55" font-size="3.8" text-anchor="end" font-weight="normal" fill="#4a4a4a">0</text>
<text x="116.90" y="147.60" font-size="3.8" text-anchor="end" font-weight="normal" fill="#4a4a4a">611</text>
<text x="116.90" y="135.65" font-size="3.8" text-anchor="end" font-weight="normal" fill="#4a4a4a">1221</text>
<text x="116.90" y="123.70" font-size="3.8" text-anchor="end" font-weight="normal" fill="#4a4a4a">1832</text>
<text x="116.90" y="111.75" font-size="3.8" text-anchor="end" font-weight="normal" fill="#4a4a4a">2442</text>
<text x="107.20" y="134.30" font-size="4.4" text-anchor="middle" font-weight="normal" fill="#444" transform="rotate(-90 107.20 134.30)">Count</text>
<text x="123.68" y="165.40" font-size="4.0" text-anchor="middle" font-weight="normal" fill="#4a4a4a" textLength="16.5" lengthAdjust="spacingAndGlyphs">-10²10¹10²</text>
<line x1="151.13" y1="158.20" x2="151.13" y2="159.70" stroke="#666" stroke-width="0.6"/>
<text x="151.13" y="165.40" font-size="4.0" text-anchor="middle" font-weight="normal" fill="#4a4a4a">10³</text>
<line x1="165.00" y1="158.20" x2="165.00" y2="159.70" stroke="#666" stroke-width="0.6"/>
<text x="165.00" y="165.40" font-size="4.0" text-anchor="middle" font-weight="normal" fill="#4a4a4a">10⁴</text>
<line x1="174.90" y1="158.20" x2="174.90" y2="159.70" stroke="#666" stroke-width="0.6"/>
<text x="174.90" y="165.40" font-size="4.0" text-anchor="middle" font-weight="normal" fill="#4a4a4a">10⁵</text>
<text x="148.30" y="171.01" font-size="4.4" text-anchor="middle" font-weight="normal" fill="#444">CD206</text>
<path d="M35.60,224.49 L36.10,224.48 L36.60,224.46 L37.10,224.43 L37.60,224.37 L38.10,224.29 L38.60,224.12 L39.10,223.92 L39.60,223.61 L40.10,223.10 L40.60,222.23 L41.10,220.73 L41.60,218.14 L42.10,215.15 L42.60,209.49 L43.10,203.04 L43.60,191.46 L44.10,181.12 L44.60,177.90 L45.10,177.90 L45.60,186.50 L46.10,193.63 L46.60,200.54 L47.10,206.92 L47.60,211.42 L48.10,215.27 L48.60,218.36 L49.10,220.12 L49.60,220.98 L50.10,221.96 L50.60,222.79 L51.10,223.16 L51.60,223.59 L52.10,223.87 L52.60,224.08 L53.10,224.23 L53.60,224.33 L54.10,224.39 L54.60,224.43 L55.10,224.46 L55.60,224.48 L56.10,224.49 L56.60,224.49 L57.10,224.50 L57.60,224.50 L58.10,224.50 L58.60,224.50 L59.10,224.50 L59.60,224.50 L60.10,224.50 L60.60,224.50 L61.10,224.50 L61.60,224.50 L62.10,224.50 L62.60,224.50 L63.10,224.50 L63.60,224.50 L64.10,224.50 L64.60,224.50 L65.10,224.50 L65.60,224.50 L66.10,224.50 L66.60,224.50 L67.10,224.50 L67.60,224.50 L68.10,224.50 L68.60,224.50 L69.10,224.50 L69.60,224.50 L70.10,224.50 L70.60,224.50 L71.10,224.50 L71.60,224.50 L72.10,224.50 L72.60,224.50 L73.10,224.50 L73.60,224.50 L74.10,224.50 L74.60,224.50 L75.10,224.50 L75.60,224.50 L76.10,224.50 L76.60,224.50 L77.10,224.50 L77.60,224.50 L78.10,224.50 L78.60,224.50 L79.10,224.50 L79.60,224.50 L80.10,224.50 L80.60,224.50 L81.10,224.50 L81.60,224.50 L82.10,224.50 L82.60,224.50 L83.10,224.50 L83.60,224.50 L84.10,224.50 L84.60,224.50 L85.10,224.50 L85.60,224.50 L86.10,224.50 L86.60,224.50 L87.10,224.50 L87.60,224.50 L88.10,224.50 L88.60,224.50 L89.10,224.50 L89.60,224.50 L90.10,224.50 L90.60,224.50 L91.10,224.50 L91.60,224.50 L92.10,224.50 L92.60,224.50 L93.10,224.50 L93.60,224.50 L94.10,224.50 L94.60,224.50 L95.10,224.50 L95.60,224.50 L96.10,224.50 L96.60,224.50" fill="none" stroke="#a0a0a0" stroke-width="1.1" stroke-linejoin="round"/>
<path d="M35.60,224.50 L36.10,224.50 L36.60,224.50 L37.10,224.50 L37.60,224.50 L38.10,224.50 L38.60,224.50 L39.10,224.50 L39.60,224.50 L40.10,224.50 L40.60,224.50 L41.10,224.50 L41.60,224.50 L42.10,224.50 L42.60,224.48 L43.10,224.06 L43.60,223.29 L44.10,221.26 L44.60,218.66 L45.10,219.45 L45.60,217.58 L46.10,214.61 L46.60,213.19 L47.10,210.65 L47.60,210.14 L48.10,208.24 L48.60,208.54 L49.10,207.48 L49.60,202.79 L50.10,204.59 L50.60,201.76 L51.10,204.64 L51.60,201.97 L52.10,206.11 L52.60,207.85 L53.10,206.86 L53.60,207.49 L54.10,210.77 L54.60,207.40 L55.10,206.86 L55.60,208.39 L56.10,207.58 L56.60,210.31 L57.10,211.57 L57.60,211.96 L58.10,212.87 L58.60,214.76 L59.10,216.39 L59.60,217.74 L60.10,218.02 L60.60,217.67 L61.10,219.07 L61.60,219.63 L62.10,220.35 L62.60,219.67 L63.10,220.35 L63.60,221.43 L64.10,221.93 L64.60,222.14 L65.10,222.26 L65.60,222.63 L66.10,223.70 L66.60,223.83 L67.10,224.04 L67.60,224.40 L68.10,224.50 L68.60,224.50 L69.10,224.50 L69.60,224.50 L70.10,224.50 L70.60,224.50 L71.10,224.50 L71.60,224.50 L72.10,224.50 L72.60,224.50 L73.10,224.50 L73.60,224.50 L74.10,224.50 L74.60,224.50 L75.10,224.50 L75.60,224.50 L76.10,224.50 L76.60,224.50 L77.10,224.50 L77.60,224.50 L78.10,224.50 L78.60,224.50 L79.10,224.50 L79.60,224.50 L80.10,224.50 L80.60,224.50 L81.10,224.50 L81.60,224.50 L82.10,224.50 L82.60,224.50 L83.10,224.50 L83.60,224.50 L84.10,224.50 L84.60,224.50 L85.10,224.50 L85.60,224.50 L86.10,224.50 L86.60,224.50 L87.10,224.50 L87.60,224.50 L88.10,224.50 L88.60,224.50 L89.10,224.50 L89.60,224.50 L90.10,224.50 L90.60,224.50 L91.10,224.50 L91.60,224.50 L92.10,224.50 L92.60,224.50 L93.10,224.50 L93.60,224.50 L94.10,224.50 L94.60,224.50 L95.10,224.50 L95.60,224.50 L96.10,224.50 L96.60,224.50" fill="none" stroke="#000" stroke-width="1.0" stroke-linejoin="round"/>
<rect x="35.00" y="177.60" width="62.50" height="47.60" fill="none" stroke="#555" stroke-width="0.9"/>
<path d="M35.00,177.60 V225.20 H97.50" fill="none" stroke="#2a2a2a" stroke-width="1.1"/>
<line x1="33.20" y1="225.20" x2="35.00" y2="225.20" stroke="#666" stroke-width="0.7"/>
<line x1="33.20" y1="213.30" x2="35.00" y2="213.30" stroke="#666" stroke-width="0.7"/>
<line x1="33.20" y1="201.40" x2="35.00" y2="201.40" stroke="#666" stroke-width="0.7"/>
<line x1="33.20" y1="189.50" x2="35.00" y2="189.50" stroke="#666" stroke-width="0.7"/>
<line x1="33.20" y1="177.60" x2="35.00" y2="177.60" stroke="#666" stroke-width="0.7"/>
<line x1="34.10" y1="225.20" x2="35.00" y2="225.20" stroke="#999" stroke-width="0.4"/>
<line x1="34.10" y1="222.22" x2="35.00" y2="222.22" stroke="#999" stroke-width="0.4"/>
<line x1="34.10" y1="219.25" x2="35.00" y2="219.25" stroke="#999" stroke-width="0.4"/>
<line x1="34.10" y1="216.27" x2="35.00" y2="216.27" stroke="#999" stroke-width="0.4"/>
<line x1="34.10" y1="213.30" x2="35.00" y2="213.30" stroke="#999" stroke-width="0.4"/>
<line x1="34.10" y1="210.32" x2="35.00" y2="210.32" stroke="#999" stroke-width="0.4"/>
<line x1="34.10" y1="207.35" x2="35.00" y2="207.35" stroke="#999" stroke-width="0.4"/>
<line x1="34.10" y1="204.38" x2="35.00" y2="204.38" stroke="#999" stroke-width="0.4"/>
<line x1="34.10" y1="201.40" x2="35.00" y2="201.40" stroke="#999" stroke-width="0.4"/>
<line x1="34.10" y1="198.42" x2="35.00" y2="198.42" stroke="#999" stroke-width="0.4"/>
<line x1="34.10" y1="195.45" x2="35.00" y2="195.45" stroke="#999" stroke-width="0.4"/>
<line x1="34.10" y1="192.47" x2="35.00" y2="192.47" stroke="#999" stroke-width="0.4"/>
<line x1="34.10" y1="189.50" x2="35.00" y2="189.50" stroke="#999" stroke-width="0.4"/>
<line x1="34.10" y1="186.52" x2="35.00" y2="186.52" stroke="#999" stroke-width="0.4"/>
<line x1="34.10" y1="183.55" x2="35.00" y2="183.55" stroke="#999" stroke-width="0.4"/>
<line x1="34.10" y1="180.57" x2="35.00" y2="180.57" stroke="#999" stroke-width="0.4"/>
<line x1="34.10" y1="177.60" x2="35.00" y2="177.60" stroke="#999" stroke-width="0.4"/>
<text x="31.90" y="226.55" font-size="3.8" text-anchor="end" font-weight="normal" fill="#4a4a4a">0</text>
<text x="31.90" y="214.65" font-size="3.8" text-anchor="end" font-weight="normal" fill="#4a4a4a">13</text>
<text x="31.90" y="202.75" font-size="3.8" text-anchor="end" font-weight="normal" fill="#4a4a4a">26</text>
<text x="31.90" y="190.85" font-size="3.8" text-anchor="end" font-weight="normal" fill="#4a4a4a">39</text>
<text x="31.90" y="178.95" font-size="3.8" text-anchor="end" font-weight="normal" fill="#4a4a4a">54</text>
<text x="27.10" y="201.40" font-size="4.4" text-anchor="middle" font-weight="normal" fill="#444" transform="rotate(-90 27.10 201.40)">Count</text>
<text x="39.06" y="232.40" font-size="4.0" text-anchor="middle" font-weight="normal" fill="#4a4a4a" textLength="16.5" lengthAdjust="spacingAndGlyphs">-10²10¹10²</text>
<line x1="69.38" y1="225.20" x2="69.38" y2="226.70" stroke="#666" stroke-width="0.6"/>
<text x="69.38" y="232.40" font-size="4.0" text-anchor="middle" font-weight="normal" fill="#4a4a4a">10³</text>
<line x1="84.69" y1="225.20" x2="84.69" y2="226.70" stroke="#666" stroke-width="0.6"/>
<text x="84.69" y="232.40" font-size="4.0" text-anchor="middle" font-weight="normal" fill="#4a4a4a">10⁴</text>
<line x1="95.62" y1="225.20" x2="95.62" y2="226.70" stroke="#666" stroke-width="0.6"/>
<text x="95.62" y="232.40" font-size="4.0" text-anchor="middle" font-weight="normal" fill="#4a4a4a">10⁵</text>
<text x="66.25" y="238.01" font-size="4.4" text-anchor="middle" font-weight="normal" fill="#444">IL4Ra</text>
<path d="M120.20,223.73 L120.70,222.70 L121.20,220.68 L121.70,217.15 L122.20,211.68 L122.70,204.22 L123.20,195.39 L123.70,186.60 L124.20,179.76 L124.70,177.90 L125.20,177.90 L125.70,179.76 L126.20,184.01 L126.70,189.41 L127.20,195.39 L127.70,201.37 L128.20,206.90 L128.70,211.68 L129.20,215.56 L129.70,218.53 L130.20,220.68 L130.70,222.16 L131.20,223.13 L131.70,223.73 L132.20,224.09 L132.70,224.29 L133.20,224.40 L133.70,224.45 L134.20,224.48 L134.70,224.49 L135.20,224.50 L135.70,224.50 L136.20,224.50 L136.70,224.50 L137.20,224.50 L137.70,224.50 L138.20,224.50 L138.70,224.50 L139.20,224.50 L139.70,224.50 L140.20,224.50 L140.70,224.50 L141.20,224.50 L141.70,224.50 L142.20,224.50 L142.70,224.50 L143.20,224.50 L143.70,224.50 L144.20,224.50 L144.70,224.50 L145.20,224.50 L145.70,224.50 L146.20,224.50 L146.70,224.50 L147.20,224.50 L147.70,224.50 L148.20,224.50 L148.70,224.50 L149.20,224.50 L149.70,224.50 L150.20,224.50 L150.70,224.50 L151.20,224.50 L151.70,224.50 L152.20,224.50 L152.70,224.50 L153.20,224.50 L153.70,224.50 L154.20,224.50 L154.70,224.50 L155.20,224.50 L155.70,224.50 L156.20,224.50 L156.70,224.50 L157.20,224.50 L157.70,224.50 L158.20,224.50 L158.70,224.50 L159.20,224.50 L159.70,224.50 L160.20,224.50 L160.70,224.50 L161.20,224.50 L161.70,224.50 L162.20,224.50 L162.70,224.50 L163.20,224.50 L163.70,224.50 L164.20,224.50 L164.70,224.50 L165.20,224.50 L165.70,224.50 L166.20,224.50 L166.70,224.50 L167.20,224.50 L167.70,224.50 L168.20,224.50 L168.70,224.50 L169.20,224.50 L169.70,224.50 L170.20,224.50 L170.70,224.50 L171.20,224.50 L171.70,224.50 L172.20,224.50 L172.70,224.50 L173.20,224.50 L173.70,224.50 L174.20,224.50 L174.70,224.50 L175.20,224.50 L175.70,224.50" fill="none" stroke="#a0a0a0" stroke-width="1.1" stroke-linejoin="round"/>
<path d="M120.20,224.40 L120.70,224.29 L121.20,224.04 L121.70,223.51 L122.20,222.56 L122.70,221.22 L123.20,218.70 L123.70,215.16 L124.20,211.45 L124.70,205.24 L125.20,201.02 L125.70,195.04 L126.20,191.43 L126.70,189.47 L127.20,190.41 L127.70,190.92 L128.20,192.00 L128.70,194.47 L129.20,196.46 L129.70,199.72 L130.20,202.65 L130.70,206.19 L131.20,208.11 L131.70,210.85 L132.20,213.38 L132.70,214.93 L133.20,216.64 L133.70,218.21 L134.20,219.42 L134.70,220.15 L135.20,220.91 L135.70,221.38 L136.20,221.68 L136.70,222.03 L137.20,222.19 L137.70,222.36 L138.20,222.59 L138.70,222.63 L139.20,222.84 L139.70,222.87 L140.20,222.99 L140.70,223.13 L141.20,223.28 L141.70,223.34 L142.20,223.46 L142.70,223.51 L143.20,223.66 L143.70,223.70 L144.20,223.78 L144.70,223.87 L145.20,223.94 L145.70,224.03 L146.20,224.06 L146.70,224.13 L147.20,224.17 L147.70,224.22 L148.20,224.27 L148.70,224.29 L149.20,224.32 L149.70,224.36 L150.20,224.38 L150.70,224.40 L151.20,224.42 L151.70,224.43 L152.20,224.44 L152.70,224.45 L153.20,224.46 L153.70,224.47 L154.20,224.47 L154.70,224.48 L155.20,224.48 L155.70,224.49 L156.20,224.49 L156.70,224.49 L157.20,224.49 L157.70,224.50 L158.20,224.50 L158.70,224.50 L159.20,224.50 L159.70,224.50 L160.20,224.50 L160.70,224.50 L161.20,224.50 L161.70,224.50 L162.20,224.50 L162.70,224.50 L163.20,224.50 L163.70,224.50 L164.20,224.50 L164.70,224.50 L165.20,224.50 L165.70,224.50 L166.20,224.50 L166.70,224.50 L167.20,224.50 L167.70,224.50 L168.20,224.50 L168.70,224.50 L169.20,224.50 L169.70,224.50 L170.20,224.50 L170.70,224.50 L171.20,224.50 L171.70,224.50 L172.20,224.50 L172.70,224.50 L173.20,224.50 L173.70,224.50 L174.20,224.50 L174.70,224.50 L175.20,224.50 L175.70,224.50" fill="none" stroke="#000" stroke-width="1.2" stroke-linejoin="round"/>
<rect x="119.60" y="177.60" width="57.00" height="47.60" fill="none" stroke="#555" stroke-width="0.9"/>
<path d="M119.60,177.60 V225.20 H176.60" fill="none" stroke="#2a2a2a" stroke-width="1.1"/>
<line x1="117.80" y1="225.20" x2="119.60" y2="225.20" stroke="#666" stroke-width="0.7"/>
<line x1="117.80" y1="213.30" x2="119.60" y2="213.30" stroke="#666" stroke-width="0.7"/>
<line x1="117.80" y1="201.40" x2="119.60" y2="201.40" stroke="#666" stroke-width="0.7"/>
<line x1="117.80" y1="189.50" x2="119.60" y2="189.50" stroke="#666" stroke-width="0.7"/>
<line x1="117.80" y1="177.60" x2="119.60" y2="177.60" stroke="#666" stroke-width="0.7"/>
<line x1="118.70" y1="225.20" x2="119.60" y2="225.20" stroke="#999" stroke-width="0.4"/>
<line x1="118.70" y1="222.22" x2="119.60" y2="222.22" stroke="#999" stroke-width="0.4"/>
<line x1="118.70" y1="219.25" x2="119.60" y2="219.25" stroke="#999" stroke-width="0.4"/>
<line x1="118.70" y1="216.27" x2="119.60" y2="216.27" stroke="#999" stroke-width="0.4"/>
<line x1="118.70" y1="213.30" x2="119.60" y2="213.30" stroke="#999" stroke-width="0.4"/>
<line x1="118.70" y1="210.32" x2="119.60" y2="210.32" stroke="#999" stroke-width="0.4"/>
<line x1="118.70" y1="207.35" x2="119.60" y2="207.35" stroke="#999" stroke-width="0.4"/>
<line x1="118.70" y1="204.38" x2="119.60" y2="204.38" stroke="#999" stroke-width="0.4"/>
<line x1="118.70" y1="201.40" x2="119.60" y2="201.40" stroke="#999" stroke-width="0.4"/>
<line x1="118.70" y1="198.42" x2="119.60" y2="198.42" stroke="#999" stroke-width="0.4"/>
<line x1="118.70" y1="195.45" x2="119.60" y2="195.45" stroke="#999" stroke-width="0.4"/>
<line x1="118.70" y1="192.47" x2="119.60" y2="192.47" stroke="#999" stroke-width="0.4"/>
<line x1="118.70" y1="189.50" x2="119.60" y2="189.50" stroke="#999" stroke-width="0.4"/>
<line x1="118.70" y1="186.52" x2="119.60" y2="186.52" stroke="#999" stroke-width="0.4"/>
<line x1="118.70" y1="183.55" x2="119.60" y2="183.55" stroke="#999" stroke-width="0.4"/>
<line x1="118.70" y1="180.57" x2="119.60" y2="180.57" stroke="#999" stroke-width="0.4"/>
<line x1="118.70" y1="177.60" x2="119.60" y2="177.60" stroke="#999" stroke-width="0.4"/>
<text x="116.50" y="226.55" font-size="3.8" text-anchor="end" font-weight="normal" fill="#4a4a4a">0</text>
<text x="116.50" y="214.65" font-size="3.8" text-anchor="end" font-weight="normal" fill="#4a4a4a">356</text>
<text x="116.50" y="202.75" font-size="3.8" text-anchor="end" font-weight="normal" fill="#4a4a4a">713</text>
<text x="116.50" y="190.85" font-size="3.8" text-anchor="end" font-weight="normal" fill="#4a4a4a">1069</text>
<text x="116.50" y="178.95" font-size="3.8" text-anchor="end" font-weight="normal" fill="#4a4a4a">1426</text>
<text x="106.80" y="201.40" font-size="4.4" text-anchor="middle" font-weight="normal" fill="#444" transform="rotate(-90 106.80 201.40)">Count</text>
<text x="123.30" y="232.40" font-size="4.0" text-anchor="middle" font-weight="normal" fill="#4a4a4a" textLength="16.5" lengthAdjust="spacingAndGlyphs">-10²10¹10²</text>
<line x1="150.95" y1="225.20" x2="150.95" y2="226.70" stroke="#666" stroke-width="0.6"/>
<text x="150.95" y="232.40" font-size="4.0" text-anchor="middle" font-weight="normal" fill="#4a4a4a">10³</text>
<line x1="164.91" y1="225.20" x2="164.91" y2="226.70" stroke="#666" stroke-width="0.6"/>
<text x="164.91" y="232.40" font-size="4.0" text-anchor="middle" font-weight="normal" fill="#4a4a4a">10⁴</text>
<line x1="174.89" y1="225.20" x2="174.89" y2="226.70" stroke="#666" stroke-width="0.6"/>
<text x="174.89" y="232.40" font-size="4.0" text-anchor="middle" font-weight="normal" fill="#4a4a4a">10⁵</text>
<text x="148.10" y="238.01" font-size="4.4" text-anchor="middle" font-weight="normal" fill="#444">IL4Ra</text>
<path d="M36.70,292.26 L37.20,291.55 L37.70,290.56 L38.20,289.04 L38.70,286.74 L39.20,284.37 L39.70,280.74 L40.20,275.80 L40.70,271.70 L41.20,266.29 L41.70,259.74 L42.20,255.01 L42.70,249.43 L43.20,246.32 L43.70,245.70 L44.20,245.70 L44.70,245.70 L45.20,245.75 L45.70,249.81 L46.20,255.11 L46.70,257.38 L47.20,263.86 L47.70,268.40 L48.20,272.42 L48.70,275.08 L49.20,277.89 L49.70,280.63 L50.20,283.01 L50.70,284.63 L51.20,285.90 L51.70,286.37 L52.20,287.06 L52.70,287.66 L53.20,287.95 L53.70,288.40 L54.20,288.56 L54.70,288.97 L55.20,289.44 L55.70,289.56 L56.20,290.10 L56.70,290.27 L57.20,290.59 L57.70,290.89 L58.20,291.18 L58.70,291.31 L59.20,291.64 L59.70,291.78 L60.20,291.93 L60.70,292.18 L61.20,292.33 L61.70,292.43 L62.20,292.56 L62.70,292.66 L63.20,292.75 L63.70,292.84 L64.20,292.91 L64.70,292.96 L65.20,293.01 L65.70,293.04 L66.20,293.07 L66.70,293.10 L67.20,293.13 L67.70,293.14 L68.20,293.15 L68.70,293.16 L69.20,293.17 L69.70,293.18 L70.20,293.18 L70.70,293.19 L71.20,293.19 L71.70,293.19 L72.20,293.20 L72.70,293.20 L73.20,293.20 L73.70,293.20 L74.20,293.20 L74.70,293.20 L75.20,293.20 L75.70,293.20 L76.20,293.20 L76.70,293.20 L77.20,293.20 L77.70,293.20 L78.20,293.20 L78.70,293.20 L79.20,293.20 L79.70,293.20 L80.20,293.20 L80.70,293.20 L81.20,293.20 L81.70,293.20 L82.20,293.20 L82.70,293.20 L83.20,293.20 L83.70,293.20 L84.20,293.20 L84.70,293.20 L85.20,293.20 L85.70,293.20 L86.20,293.20 L86.70,293.20 L87.20,293.20 L87.70,293.20 L88.20,293.20 L88.70,293.20 L89.20,293.20 L89.70,293.20 L90.20,293.20 L90.70,293.20 L91.20,293.20 L91.70,293.20 L92.20,293.20 L92.70,293.20 L93.20,293.20 L93.70,293.20 L94.20,293.20 L94.70,293.20 L95.20,293.20 L95.70,293.20 L96.20,293.20" fill="none" stroke="#a0a0a0" stroke-width="1.1" stroke-linejoin="round"/>
<path d="M36.70,293.09 L37.20,292.99 L37.70,292.85 L38.20,292.62 L38.70,292.29 L39.20,291.97 L39.70,291.25 L40.20,290.57 L40.70,289.39 L41.20,288.24 L41.70,286.92 L42.20,286.55 L42.70,284.39 L43.20,283.23 L43.70,282.36 L44.20,283.29 L44.70,283.02 L45.20,283.19 L45.70,283.38 L46.20,282.13 L46.70,282.36 L47.20,282.86 L47.70,282.80 L48.20,283.36 L48.70,284.15 L49.20,284.68 L49.70,284.92 L50.20,284.23 L50.70,285.20 L51.20,285.23 L51.70,285.24 L52.20,285.87 L52.70,285.66 L53.20,285.68 L53.70,285.18 L54.20,285.62 L54.70,285.67 L55.20,284.86 L55.70,285.42 L56.20,284.98 L56.70,285.27 L57.20,286.03 L57.70,285.59 L58.20,285.63 L58.70,285.31 L59.20,285.93 L59.70,285.62 L60.20,285.94 L60.70,286.43 L61.20,285.82 L61.70,286.76 L62.20,286.02 L62.70,286.75 L63.20,286.92 L63.70,286.63 L64.20,285.88 L64.70,285.44 L65.20,286.35 L65.70,285.50 L66.20,285.19 L66.70,284.45 L67.20,284.94 L67.70,284.17 L68.20,284.06 L68.70,283.03 L69.20,283.68 L69.70,282.39 L70.20,283.35 L70.70,283.43 L71.20,282.68 L71.70,283.15 L72.20,283.98 L72.70,283.47 L73.20,284.67 L73.70,284.11 L74.20,284.76 L74.70,285.22 L75.20,286.01 L75.70,286.91 L76.20,287.46 L76.70,288.06 L77.20,288.27 L77.70,289.39 L78.20,289.43 L78.70,290.38 L79.20,290.72 L79.70,291.08 L80.20,291.24 L80.70,291.68 L81.20,291.98 L81.70,292.12 L82.20,292.42 L82.70,292.56 L83.20,292.69 L83.70,292.79 L84.20,292.88 L84.70,292.96 L85.20,293.03 L85.70,293.07 L86.20,293.11 L86.70,293.12 L87.20,293.15 L87.70,293.16 L88.20,293.17 L88.70,293.18 L89.20,293.19 L89.70,293.19 L90.20,293.19 L90.70,293.20 L91.20,293.20 L91.70,293.20 L92.20,293.20 L92.70,293.20 L93.20,293.20 L93.70,293.20 L94.20,293.20 L94.70,293.20 L95.20,293.20 L95.70,293.20 L96.20,293.20" fill="none" stroke="#000" stroke-width="1.3" stroke-linejoin="round"/>
<rect x="36.10" y="245.40" width="60.90" height="48.50" fill="none" stroke="#555" stroke-width="0.9"/>
<path d="M36.10,245.40 V293.90 H97.00" fill="none" stroke="#2a2a2a" stroke-width="1.1"/>
<line x1="34.30" y1="293.90" x2="36.10" y2="293.90" stroke="#666" stroke-width="0.7"/>
<line x1="34.30" y1="281.77" x2="36.10" y2="281.77" stroke="#666" stroke-width="0.7"/>
<line x1="34.30" y1="269.65" x2="36.10" y2="269.65" stroke="#666" stroke-width="0.7"/>
<line x1="34.30" y1="257.52" x2="36.10" y2="257.52" stroke="#666" stroke-width="0.7"/>
<line x1="34.30" y1="245.40" x2="36.10" y2="245.40" stroke="#666" stroke-width="0.7"/>
<line x1="35.20" y1="293.90" x2="36.10" y2="293.90" stroke="#999" stroke-width="0.4"/>
<line x1="35.20" y1="290.87" x2="36.10" y2="290.87" stroke="#999" stroke-width="0.4"/>
<line x1="35.20" y1="287.84" x2="36.10" y2="287.84" stroke="#999" stroke-width="0.4"/>
<line x1="35.20" y1="284.81" x2="36.10" y2="284.81" stroke="#999" stroke-width="0.4"/>
<line x1="35.20" y1="281.77" x2="36.10" y2="281.77" stroke="#999" stroke-width="0.4"/>
<line x1="35.20" y1="278.74" x2="36.10" y2="278.74" stroke="#999" stroke-width="0.4"/>
<line x1="35.20" y1="275.71" x2="36.10" y2="275.71" stroke="#999" stroke-width="0.4"/>
<line x1="35.20" y1="272.68" x2="36.10" y2="272.68" stroke="#999" stroke-width="0.4"/>
<line x1="35.20" y1="269.65" x2="36.10" y2="269.65" stroke="#999" stroke-width="0.4"/>
<line x1="35.20" y1="266.62" x2="36.10" y2="266.62" stroke="#999" stroke-width="0.4"/>
<line x1="35.20" y1="263.59" x2="36.10" y2="263.59" stroke="#999" stroke-width="0.4"/>
<line x1="35.20" y1="260.56" x2="36.10" y2="260.56" stroke="#999" stroke-width="0.4"/>
<line x1="35.20" y1="257.52" x2="36.10" y2="257.52" stroke="#999" stroke-width="0.4"/>
<line x1="35.20" y1="254.49" x2="36.10" y2="254.49" stroke="#999" stroke-width="0.4"/>
<line x1="35.20" y1="251.46" x2="36.10" y2="251.46" stroke="#999" stroke-width="0.4"/>
<line x1="35.20" y1="248.43" x2="36.10" y2="248.43" stroke="#999" stroke-width="0.4"/>
<line x1="35.20" y1="245.40" x2="36.10" y2="245.40" stroke="#999" stroke-width="0.4"/>
<text x="33.00" y="295.25" font-size="3.8" text-anchor="end" font-weight="normal" fill="#4a4a4a">0</text>
<text x="33.00" y="283.12" font-size="3.8" text-anchor="end" font-weight="normal" fill="#4a4a4a">47</text>
<text x="33.00" y="271.00" font-size="3.8" text-anchor="end" font-weight="normal" fill="#4a4a4a">94</text>
<text x="33.00" y="258.88" font-size="3.8" text-anchor="end" font-weight="normal" fill="#4a4a4a">141</text>
<text x="33.00" y="246.75" font-size="3.8" text-anchor="end" font-weight="normal" fill="#4a4a4a">188</text>
<text x="25.75" y="269.65" font-size="4.4" text-anchor="middle" font-weight="normal" fill="#444" transform="rotate(-90 25.75 269.65)">Count</text>
<text x="34.70" y="301.10" font-size="4.0" text-anchor="middle" font-weight="normal" fill="#4a4a4a">10⁰</text>
<text x="40.12" y="301.10" font-size="4.0" text-anchor="middle" font-weight="normal" fill="#4a4a4a">10¹</text>
<text x="45.48" y="301.10" font-size="4.0" text-anchor="middle" font-weight="normal" fill="#4a4a4a">10²</text>
<line x1="68.99" y1="293.90" x2="68.99" y2="295.40" stroke="#666" stroke-width="0.6"/>
<text x="68.99" y="301.10" font-size="4.0" text-anchor="middle" font-weight="normal" fill="#4a4a4a">10³</text>
<line x1="83.18" y1="293.90" x2="83.18" y2="295.40" stroke="#666" stroke-width="0.6"/>
<text x="83.18" y="301.10" font-size="4.0" text-anchor="middle" font-weight="normal" fill="#4a4a4a">10⁴</text>
<line x1="94.56" y1="293.90" x2="94.56" y2="295.40" stroke="#666" stroke-width="0.6"/>
<text x="94.56" y="301.10" font-size="4.0" text-anchor="middle" font-weight="normal" fill="#4a4a4a">10⁵</text>
<text x="66.55" y="306.96" font-size="5.1" text-anchor="middle" font-weight="normal" fill="#444">CD163</text>
<path d="M121.00,289.75 L121.50,287.10 L122.00,283.02 L122.50,277.32 L123.00,270.16 L123.50,262.17 L124.00,254.46 L124.50,248.40 L125.00,245.30 L125.50,245.30 L126.00,246.69 L126.50,249.49 L127.00,253.31 L127.50,257.85 L128.00,262.78 L128.50,267.78 L129.00,272.56 L129.50,276.91 L130.00,280.70 L130.50,283.86 L131.00,286.40 L131.50,288.37 L132.00,289.83 L132.50,290.88 L133.00,291.61 L133.50,292.10 L134.00,292.42 L134.50,292.62 L135.00,292.74 L135.50,292.81 L136.00,292.85 L136.50,292.88 L137.00,292.89 L137.50,292.89 L138.00,292.90 L138.50,292.90 L139.00,292.90 L139.50,292.90 L140.00,292.90 L140.50,292.90 L141.00,292.90 L141.50,292.90 L142.00,292.90 L142.50,292.90 L143.00,292.90 L143.50,292.90 L144.00,292.90 L144.50,292.90 L145.00,292.90 L145.50,292.90 L146.00,292.90 L146.50,292.90 L147.00,292.90 L147.50,292.90 L148.00,292.90 L148.50,292.90 L149.00,292.90 L149.50,292.90 L150.00,292.90 L150.50,292.90 L151.00,292.90 L151.50,292.90 L152.00,292.90 L152.50,292.90 L153.00,292.90 L153.50,292.90 L154.00,292.90 L154.50,292.90 L155.00,292.90 L155.50,292.90 L156.00,292.90 L156.50,292.90 L157.00,292.90 L157.50,292.90 L158.00,292.90 L158.50,292.90 L159.00,292.90 L159.50,292.90 L160.00,292.90 L160.50,292.90 L161.00,292.90 L161.50,292.90 L162.00,292.90 L162.50,292.90 L163.00,292.90 L163.50,292.90 L164.00,292.90 L164.50,292.90 L165.00,292.90 L165.50,292.90 L166.00,292.90 L166.50,292.90 L167.00,292.90 L167.50,292.90 L168.00,292.90 L168.50,292.90 L169.00,292.90 L169.50,292.90 L170.00,292.90 L170.50,292.90 L171.00,292.90 L171.50,292.90 L172.00,292.90 L172.50,292.90 L173.00,292.90 L173.50,292.90 L174.00,292.90 L174.50,292.90 L175.00,292.90 L175.50,292.90 L176.00,292.90 L176.50,292.90 L177.00,292.90" fill="none" stroke="#a0a0a0" stroke-width="1.1" stroke-linejoin="round"/>
<path d="M121.00,292.52 L121.50,292.03 L122.00,291.11 L122.50,289.30 L123.00,286.68 L123.50,283.26 L124.00,277.92 L124.50,273.63 L125.00,268.55 L125.50,264.12 L126.00,263.11 L126.50,263.52 L127.00,265.08 L127.50,267.14 L128.00,268.66 L128.50,271.90 L129.00,274.43 L129.50,276.91 L130.00,279.75 L130.50,281.79 L131.00,283.62 L131.50,285.44 L132.00,286.98 L132.50,288.10 L133.00,289.06 L133.50,289.83 L134.00,290.29 L134.50,290.74 L135.00,291.04 L135.50,291.31 L136.00,291.58 L136.50,291.77 L137.00,291.94 L137.50,292.11 L138.00,292.25 L138.50,292.35 L139.00,292.46 L139.50,292.55 L140.00,292.63 L140.50,292.69 L141.00,292.74 L141.50,292.78 L142.00,292.81 L142.50,292.84 L143.00,292.85 L143.50,292.87 L144.00,292.88 L144.50,292.88 L145.00,292.89 L145.50,292.89 L146.00,292.90 L146.50,292.90 L147.00,292.90 L147.50,292.90 L148.00,292.90 L148.50,292.90 L149.00,292.90 L149.50,292.90 L150.00,292.90 L150.50,292.90 L151.00,292.90 L151.50,292.90 L152.00,292.90 L152.50,292.90 L153.00,292.90 L153.50,292.90 L154.00,292.90 L154.50,292.90 L155.00,292.90 L155.50,292.90 L156.00,292.90 L156.50,292.90 L157.00,292.90 L157.50,292.90 L158.00,292.90 L158.50,292.90 L159.00,292.90 L159.50,292.90 L160.00,292.90 L160.50,292.90 L161.00,292.90 L161.50,292.90 L162.00,292.90 L162.50,292.90 L163.00,292.90 L163.50,292.90 L164.00,292.90 L164.50,292.90 L165.00,292.90 L165.50,292.90 L166.00,292.90 L166.50,292.90 L167.00,292.90 L167.50,292.90 L168.00,292.90 L168.50,292.90 L169.00,292.90 L169.50,292.90 L170.00,292.90 L170.50,292.90 L171.00,292.90 L171.50,292.90 L172.00,292.90 L172.50,292.90 L173.00,292.90 L173.50,292.90 L174.00,292.90 L174.50,292.90 L175.00,292.90 L175.50,292.90 L176.00,292.90 L176.50,292.90 L177.00,292.90" fill="none" stroke="#000" stroke-width="1.2" stroke-linejoin="round"/>
<rect x="120.40" y="245.00" width="57.40" height="48.60" fill="none" stroke="#555" stroke-width="0.9"/>
<path d="M120.40,245.00 V293.60 H177.80" fill="none" stroke="#2a2a2a" stroke-width="1.1"/>
<line x1="118.60" y1="293.60" x2="120.40" y2="293.60" stroke="#666" stroke-width="0.7"/>
<line x1="118.60" y1="281.45" x2="120.40" y2="281.45" stroke="#666" stroke-width="0.7"/>
<line x1="118.60" y1="269.30" x2="120.40" y2="269.30" stroke="#666" stroke-width="0.7"/>
<line x1="118.60" y1="257.15" x2="120.40" y2="257.15" stroke="#666" stroke-width="0.7"/>
<line x1="118.60" y1="245.00" x2="120.40" y2="245.00" stroke="#666" stroke-width="0.7"/>
<line x1="119.50" y1="293.60" x2="120.40" y2="293.60" stroke="#999" stroke-width="0.4"/>
<line x1="119.50" y1="290.56" x2="120.40" y2="290.56" stroke="#999" stroke-width="0.4"/>
<line x1="119.50" y1="287.53" x2="120.40" y2="287.53" stroke="#999" stroke-width="0.4"/>
<line x1="119.50" y1="284.49" x2="120.40" y2="284.49" stroke="#999" stroke-width="0.4"/>
<line x1="119.50" y1="281.45" x2="120.40" y2="281.45" stroke="#999" stroke-width="0.4"/>
<line x1="119.50" y1="278.41" x2="120.40" y2="278.41" stroke="#999" stroke-width="0.4"/>
<line x1="119.50" y1="275.38" x2="120.40" y2="275.38" stroke="#999" stroke-width="0.4"/>
<line x1="119.50" y1="272.34" x2="120.40" y2="272.34" stroke="#999" stroke-width="0.4"/>
<line x1="119.50" y1="269.30" x2="120.40" y2="269.30" stroke="#999" stroke-width="0.4"/>
<line x1="119.50" y1="266.26" x2="120.40" y2="266.26" stroke="#999" stroke-width="0.4"/>
<line x1="119.50" y1="263.23" x2="120.40" y2="263.23" stroke="#999" stroke-width="0.4"/>
<line x1="119.50" y1="260.19" x2="120.40" y2="260.19" stroke="#999" stroke-width="0.4"/>
<line x1="119.50" y1="257.15" x2="120.40" y2="257.15" stroke="#999" stroke-width="0.4"/>
<line x1="119.50" y1="254.11" x2="120.40" y2="254.11" stroke="#999" stroke-width="0.4"/>
<line x1="119.50" y1="251.07" x2="120.40" y2="251.07" stroke="#999" stroke-width="0.4"/>
<line x1="119.50" y1="248.04" x2="120.40" y2="248.04" stroke="#999" stroke-width="0.4"/>
<line x1="119.50" y1="245.00" x2="120.40" y2="245.00" stroke="#999" stroke-width="0.4"/>
<text x="117.30" y="294.95" font-size="3.8" text-anchor="end" font-weight="normal" fill="#4a4a4a">0</text>
<text x="117.30" y="282.80" font-size="3.8" text-anchor="end" font-weight="normal" fill="#4a4a4a">156</text>
<text x="117.30" y="270.65" font-size="3.8" text-anchor="end" font-weight="normal" fill="#4a4a4a">312</text>
<text x="117.30" y="258.50" font-size="3.8" text-anchor="end" font-weight="normal" fill="#4a4a4a">468</text>
<text x="117.30" y="246.35" font-size="3.8" text-anchor="end" font-weight="normal" fill="#4a4a4a">624</text>
<text x="110.05" y="269.30" font-size="4.4" text-anchor="middle" font-weight="normal" fill="#444" transform="rotate(-90 110.05 269.30)">Count</text>
<text x="119.08" y="300.80" font-size="4.0" text-anchor="middle" font-weight="normal" fill="#4a4a4a">10⁰</text>
<text x="124.19" y="300.80" font-size="4.0" text-anchor="middle" font-weight="normal" fill="#4a4a4a">10¹</text>
<text x="129.24" y="300.80" font-size="4.0" text-anchor="middle" font-weight="normal" fill="#4a4a4a">10²</text>
<line x1="151.40" y1="293.60" x2="151.40" y2="295.10" stroke="#666" stroke-width="0.6"/>
<text x="151.40" y="300.80" font-size="4.0" text-anchor="middle" font-weight="normal" fill="#4a4a4a">10³</text>
<line x1="164.77" y1="293.60" x2="164.77" y2="295.10" stroke="#666" stroke-width="0.6"/>
<text x="164.77" y="300.80" font-size="4.0" text-anchor="middle" font-weight="normal" fill="#4a4a4a">10⁴</text>
<line x1="175.50" y1="293.60" x2="175.50" y2="295.10" stroke="#666" stroke-width="0.6"/>
<text x="175.50" y="300.80" font-size="4.0" text-anchor="middle" font-weight="normal" fill="#4a4a4a">10⁵</text>
<text x="149.10" y="306.66" font-size="5.1" text-anchor="middle" font-weight="normal" fill="#444">CD163</text>
<path d="M251.30,88.07 L251.80,88.04 L252.30,88.00 L252.80,87.93 L253.30,87.81 L253.80,87.67 L254.30,87.31 L254.80,87.00 L255.30,86.27 L255.80,85.64 L256.30,84.27 L256.80,82.35 L257.30,78.94 L257.80,75.04 L258.30,70.16 L258.80,59.91 L259.30,52.98 L259.80,42.30 L260.30,42.30 L260.80,42.73 L261.30,55.40 L261.80,61.72 L262.30,68.08 L262.80,74.68 L263.30,78.04 L263.80,81.74 L264.30,84.75 L264.80,85.73 L265.30,86.66 L265.80,87.26 L266.30,87.66 L266.80,87.80 L267.30,87.94 L267.80,88.02 L268.30,88.06 L268.80,88.07 L269.30,88.09 L269.80,88.09 L270.30,88.10 L270.80,88.10 L271.30,88.10 L271.80,88.10 L272.30,88.10 L272.80,88.10 L273.30,88.10 L273.80,88.10 L274.30,88.10 L274.80,88.10 L275.30,88.10 L275.80,88.10 L276.30,88.10 L276.80,88.10 L277.30,88.10 L277.80,88.10 L278.30,88.10 L278.80,88.10 L279.30,88.10 L279.80,88.10 L280.30,88.10 L280.80,88.10 L281.30,88.10 L281.80,88.10 L282.30,88.10 L282.80,88.10 L283.30,88.10 L283.80,88.10 L284.30,88.10 L284.80,88.10 L285.30,88.10 L285.80,88.10 L286.30,88.10 L286.80,88.10 L287.30,88.10 L287.80,88.10 L288.30,88.10 L288.80,88.10 L289.30,88.10 L289.80,88.10 L290.30,88.10 L290.80,88.10 L291.30,88.10 L291.80,88.10 L292.30,88.10 L292.80,88.10 L293.30,88.10 L293.80,88.10 L294.30,88.10 L294.80,88.10 L295.30,88.10 L295.80,88.10 L296.30,88.10 L296.80,88.10 L297.30,88.10 L297.80,88.10 L298.30,88.10 L298.80,88.10 L299.30,88.10 L299.80,88.10 L300.30,88.10 L300.80,88.10 L301.30,88.10 L301.80,88.10 L302.30,88.10 L302.80,88.10 L303.30,88.10 L303.80,88.10 L304.30,88.10 L304.80,88.10 L305.30,88.10 L305.80,88.10 L306.30,88.10 L306.80,88.10 L307.30,88.10 L307.80,88.10 L308.30,88.10 L308.80,88.10 L309.30,88.10 L309.80,88.10 L310.30,88.10 L310.80,88.10 L311.30,88.10" fill="none" stroke="#777" stroke-width="1.0" stroke-linejoin="round"/>
<path d="M251.30,88.10 L251.80,88.10 L252.30,88.10 L252.80,88.10 L253.30,88.10 L253.80,88.10 L254.30,88.10 L254.80,88.10 L255.30,88.10 L255.80,88.10 L256.30,88.10 L256.80,88.10 L257.30,88.10 L257.80,88.10 L258.30,88.10 L258.80,88.10 L259.30,88.10 L259.80,88.10 L260.30,88.10 L260.80,88.10 L261.30,88.10 L261.80,88.10 L262.30,88.10 L262.80,88.10 L263.30,88.10 L263.80,88.09 L264.30,87.90 L264.80,84.15 L265.30,81.05 L265.80,86.20 L266.30,88.00 L266.80,88.10 L267.30,88.10 L267.80,88.10 L268.30,88.10 L268.80,88.10 L269.30,87.86 L269.80,85.90 L270.30,82.39 L270.80,83.53 L271.30,83.54 L271.80,85.80 L272.30,82.00 L272.80,85.13 L273.30,84.06 L273.80,76.30 L274.30,76.48 L274.80,70.74 L275.30,76.76 L275.80,82.36 L276.30,76.90 L276.80,73.44 L277.30,67.74 L277.80,66.73 L278.30,74.46 L278.80,75.36 L279.30,80.09 L279.80,71.39 L280.30,78.11 L280.80,78.86 L281.30,79.51 L281.80,74.85 L282.30,55.57 L282.80,78.13 L283.30,65.64 L283.80,80.13 L284.30,67.87 L284.80,79.69 L285.30,81.49 L285.80,70.71 L286.30,78.12 L286.80,71.13 L287.30,79.69 L287.80,82.02 L288.30,73.28 L288.80,74.48 L289.30,73.04 L289.80,75.77 L290.30,83.57 L290.80,80.22 L291.30,80.62 L291.80,82.82 L292.30,83.32 L292.80,87.21 L293.30,86.67 L293.80,87.29 L294.30,87.97 L294.80,88.09 L295.30,88.10 L295.80,88.10 L296.30,88.10 L296.80,88.10 L297.30,88.10 L297.80,88.10 L298.30,88.10 L298.80,88.10 L299.30,88.10 L299.80,88.10 L300.30,88.10 L300.80,88.10 L301.30,88.10 L301.80,88.10 L302.30,88.10 L302.80,88.10 L303.30,88.10 L303.80,88.10 L304.30,88.10 L304.80,88.10 L305.30,88.10 L305.80,88.10 L306.30,88.10 L306.80,88.10 L307.30,88.10 L307.80,88.10 L308.30,88.10 L308.80,88.10 L309.30,88.10 L309.80,88.10 L310.30,88.10 L310.80,88.10 L311.30,88.10" fill="none" stroke="#000" stroke-width="0.9" stroke-linejoin="round"/>
<rect x="250.70" y="42.00" width="61.30" height="46.80" fill="none" stroke="#555" stroke-width="0.9"/>
<path d="M250.70,42.00 V88.80 H312.00" fill="none" stroke="#2a2a2a" stroke-width="1.1"/>
<line x1="248.90" y1="88.80" x2="250.70" y2="88.80" stroke="#666" stroke-width="0.7"/>
<line x1="248.90" y1="77.10" x2="250.70" y2="77.10" stroke="#666" stroke-width="0.7"/>
<line x1="248.90" y1="65.40" x2="250.70" y2="65.40" stroke="#666" stroke-width="0.7"/>
<line x1="248.90" y1="53.70" x2="250.70" y2="53.70" stroke="#666" stroke-width="0.7"/>
<line x1="248.90" y1="42.00" x2="250.70" y2="42.00" stroke="#666" stroke-width="0.7"/>
<line x1="249.80" y1="88.80" x2="250.70" y2="88.80" stroke="#999" stroke-width="0.4"/>
<line x1="249.80" y1="85.88" x2="250.70" y2="85.88" stroke="#999" stroke-width="0.4"/>
<line x1="249.80" y1="82.95" x2="250.70" y2="82.95" stroke="#999" stroke-width="0.4"/>
<line x1="249.80" y1="80.03" x2="250.70" y2="80.03" stroke="#999" stroke-width="0.4"/>
<line x1="249.80" y1="77.10" x2="250.70" y2="77.10" stroke="#999" stroke-width="0.4"/>
<line x1="249.80" y1="74.17" x2="250.70" y2="74.17" stroke="#999" stroke-width="0.4"/>
<line x1="249.80" y1="71.25" x2="250.70" y2="71.25" stroke="#999" stroke-width="0.4"/>
<line x1="249.80" y1="68.33" x2="250.70" y2="68.33" stroke="#999" stroke-width="0.4"/>
<line x1="249.80" y1="65.40" x2="250.70" y2="65.40" stroke="#999" stroke-width="0.4"/>
<line x1="249.80" y1="62.47" x2="250.70" y2="62.47" stroke="#999" stroke-width="0.4"/>
<line x1="249.80" y1="59.55" x2="250.70" y2="59.55" stroke="#999" stroke-width="0.4"/>
<line x1="249.80" y1="56.62" x2="250.70" y2="56.62" stroke="#999" stroke-width="0.4"/>
<line x1="249.80" y1="53.70" x2="250.70" y2="53.70" stroke="#999" stroke-width="0.4"/>
<line x1="249.80" y1="50.77" x2="250.70" y2="50.77" stroke="#999" stroke-width="0.4"/>
<line x1="249.80" y1="47.85" x2="250.70" y2="47.85" stroke="#999" stroke-width="0.4"/>
<line x1="249.80" y1="44.92" x2="250.70" y2="44.92" stroke="#999" stroke-width="0.4"/>
<line x1="249.80" y1="42.00" x2="250.70" y2="42.00" stroke="#999" stroke-width="0.4"/>
<text x="247.60" y="90.15" font-size="3.8" text-anchor="end" font-weight="normal" fill="#4a4a4a">0</text>
<text x="247.60" y="78.45" font-size="3.8" text-anchor="end" font-weight="normal" fill="#4a4a4a">4</text>
<text x="247.60" y="66.75" font-size="3.8" text-anchor="end" font-weight="normal" fill="#4a4a4a">8</text>
<text x="247.60" y="55.05" font-size="3.8" text-anchor="end" font-weight="normal" fill="#4a4a4a">12</text>
<text x="247.60" y="43.35" font-size="3.8" text-anchor="end" font-weight="normal" fill="#4a4a4a">16</text>
<text x="242.80" y="65.40" font-size="4.4" text-anchor="middle" font-weight="normal" fill="#444" transform="rotate(-90 242.80 65.40)">Count</text>
<text x="254.68" y="96.00" font-size="4.0" text-anchor="middle" font-weight="normal" fill="#4a4a4a" textLength="16.5" lengthAdjust="spacingAndGlyphs">-10²10¹10²</text>
<line x1="284.42" y1="88.80" x2="284.42" y2="90.30" stroke="#666" stroke-width="0.6"/>
<text x="284.42" y="96.00" font-size="4.0" text-anchor="middle" font-weight="normal" fill="#4a4a4a">10³</text>
<line x1="299.43" y1="88.80" x2="299.43" y2="90.30" stroke="#666" stroke-width="0.6"/>
<text x="299.43" y="96.00" font-size="4.0" text-anchor="middle" font-weight="normal" fill="#4a4a4a">10⁴</text>
<line x1="310.16" y1="88.80" x2="310.16" y2="90.30" stroke="#666" stroke-width="0.6"/>
<text x="310.16" y="96.00" font-size="4.0" text-anchor="middle" font-weight="normal" fill="#4a4a4a">10⁵</text>
<text x="281.35" y="101.61" font-size="4.4" text-anchor="middle" font-weight="normal" fill="#444">F4/80</text>
<path d="M330.60,88.08 L331.10,88.03 L331.60,87.87 L332.10,87.48 L332.60,86.56 L333.10,84.72 L333.60,81.45 L334.10,76.37 L334.60,69.60 L335.10,61.89 L335.60,52.98 L336.10,42.30 L336.60,42.85 L337.10,52.21 L337.60,59.37 L338.10,66.49 L338.60,73.33 L339.10,78.95 L339.60,82.96 L340.10,85.48 L340.60,86.89 L341.10,87.59 L341.60,87.91 L342.10,88.03 L342.60,88.08 L343.10,88.09 L343.60,88.10 L344.10,88.10 L344.60,88.10 L345.10,88.10 L345.60,88.10 L346.10,88.10 L346.60,88.10 L347.10,88.10 L347.60,88.10 L348.10,88.10 L348.60,88.10 L349.10,88.10 L349.60,88.10 L350.10,88.10 L350.60,88.10 L351.10,88.10 L351.60,88.10 L352.10,88.10 L352.60,88.10 L353.10,88.10 L353.60,88.10 L354.10,88.10 L354.60,88.10 L355.10,88.10 L355.60,88.10 L356.10,88.10 L356.60,88.10 L357.10,88.10 L357.60,88.10 L358.10,88.10 L358.60,88.10 L359.10,88.10 L359.60,88.10 L360.10,88.10 L360.60,88.10 L361.10,88.10 L361.60,88.10 L362.10,88.10 L362.60,88.10 L363.10,88.10 L363.60,88.10 L364.10,88.10 L364.60,88.10 L365.10,88.10 L365.60,88.10 L366.10,88.10 L366.60,88.10 L367.10,88.10 L367.60,88.10 L368.10,88.10 L368.60,88.10 L369.10,88.10 L369.60,88.10 L370.10,88.10 L370.60,88.10 L371.10,88.10 L371.60,88.10 L372.10,88.10 L372.60,88.10 L373.10,88.10 L373.60,88.10 L374.10,88.10 L374.60,88.10 L375.10,88.10 L375.60,88.10 L376.10,88.10 L376.60,88.10 L377.10,88.10 L377.60,88.10 L378.10,88.10 L378.60,88.10 L379.10,88.10 L379.60,88.10 L380.10,88.10 L380.60,88.10 L381.10,88.10 L381.60,88.10 L382.10,88.10 L382.60,88.10 L383.10,88.10 L383.60,88.10 L384.10,88.10 L384.60,88.10 L385.10,88.10 L385.60,88.10 L386.10,88.10 L386.60,88.10 L387.10,88.10 L387.60,88.10" fill="none" stroke="#a0a0a0" stroke-width="1.1" stroke-linejoin="round"/>
<path d="M330.60,88.10 L331.10,88.09 L331.60,87.79 L332.10,87.21 L332.60,86.75 L333.10,86.58 L333.60,86.30 L334.10,85.63 L334.60,84.76 L335.10,83.93 L335.60,83.16 L336.10,82.47 L336.60,82.14 L337.10,82.22 L337.60,82.66 L338.10,83.33 L338.60,84.07 L339.10,84.02 L339.60,84.14 L340.10,84.37 L340.60,84.78 L341.10,85.22 L341.60,85.50 L342.10,85.82 L342.60,86.03 L343.10,86.05 L343.60,86.09 L344.10,86.05 L344.60,85.89 L345.10,85.74 L345.60,85.71 L346.10,85.53 L346.60,85.45 L347.10,85.54 L347.60,85.42 L348.10,85.28 L348.60,85.13 L349.10,84.96 L349.60,84.75 L350.10,84.48 L350.60,84.36 L351.10,84.41 L351.60,84.42 L352.10,84.08 L352.60,83.82 L353.10,83.63 L353.60,83.16 L354.10,82.67 L354.60,82.28 L355.10,82.06 L355.60,81.80 L356.10,81.57 L356.60,81.63 L357.10,81.58 L357.60,81.34 L358.10,80.67 L358.60,80.24 L359.10,79.47 L359.60,78.88 L360.10,78.23 L360.60,78.01 L361.10,77.83 L361.60,77.16 L362.10,77.34 L362.60,77.25 L363.10,76.81 L363.60,76.85 L364.10,77.50 L364.60,77.40 L365.10,77.70 L365.60,78.54 L366.10,79.96 L366.60,80.36 L367.10,81.04 L367.60,82.43 L368.10,83.13 L368.60,84.86 L369.10,85.67 L369.60,86.55 L370.10,87.30 L370.60,87.41 L371.10,87.73 L371.60,88.01 L372.10,88.10 L372.60,88.10 L373.10,88.10 L373.60,88.10 L374.10,88.10 L374.60,88.10 L375.10,88.10 L375.60,88.10 L376.10,88.10 L376.60,88.10 L377.10,88.10 L377.60,88.10 L378.10,88.10 L378.60,88.10 L379.10,88.10 L379.60,88.10 L380.10,88.10 L380.60,88.10 L381.10,88.10 L381.60,88.10 L382.10,88.10 L382.60,88.10 L383.10,88.10 L383.60,88.10 L384.10,88.10 L384.60,88.10 L385.10,88.10 L385.60,88.10 L386.10,88.10 L386.60,88.10 L387.10,88.10 L387.60,88.10" fill="none" stroke="#000" stroke-width="1.3" stroke-linejoin="round"/>
<rect x="330.00" y="42.00" width="58.30" height="46.80" fill="none" stroke="#555" stroke-width="0.9"/>
<path d="M330.00,42.00 V88.80 H388.30" fill="none" stroke="#2a2a2a" stroke-width="1.1"/>
<line x1="328.20" y1="88.80" x2="330.00" y2="88.80" stroke="#666" stroke-width="0.7"/>
<line x1="328.20" y1="77.10" x2="330.00" y2="77.10" stroke="#666" stroke-width="0.7"/>
<line x1="328.20" y1="65.40" x2="330.00" y2="65.40" stroke="#666" stroke-width="0.7"/>
<line x1="328.20" y1="53.70" x2="330.00" y2="53.70" stroke="#666" stroke-width="0.7"/>
<line x1="328.20" y1="42.00" x2="330.00" y2="42.00" stroke="#666" stroke-width="0.7"/>
<line x1="329.10" y1="88.80" x2="330.00" y2="88.80" stroke="#999" stroke-width="0.4"/>
<line x1="329.10" y1="85.88" x2="330.00" y2="85.88" stroke="#999" stroke-width="0.4"/>
<line x1="329.10" y1="82.95" x2="330.00" y2="82.95" stroke="#999" stroke-width="0.4"/>
<line x1="329.10" y1="80.03" x2="330.00" y2="80.03" stroke="#999" stroke-width="0.4"/>
<line x1="329.10" y1="77.10" x2="330.00" y2="77.10" stroke="#999" stroke-width="0.4"/>
<line x1="329.10" y1="74.17" x2="330.00" y2="74.17" stroke="#999" stroke-width="0.4"/>
<line x1="329.10" y1="71.25" x2="330.00" y2="71.25" stroke="#999" stroke-width="0.4"/>
<line x1="329.10" y1="68.33" x2="330.00" y2="68.33" stroke="#999" stroke-width="0.4"/>
<line x1="329.10" y1="65.40" x2="330.00" y2="65.40" stroke="#999" stroke-width="0.4"/>
<line x1="329.10" y1="62.47" x2="330.00" y2="62.47" stroke="#999" stroke-width="0.4"/>
<line x1="329.10" y1="59.55" x2="330.00" y2="59.55" stroke="#999" stroke-width="0.4"/>
<line x1="329.10" y1="56.62" x2="330.00" y2="56.62" stroke="#999" stroke-width="0.4"/>
<line x1="329.10" y1="53.70" x2="330.00" y2="53.70" stroke="#999" stroke-width="0.4"/>
<line x1="329.10" y1="50.77" x2="330.00" y2="50.77" stroke="#999" stroke-width="0.4"/>
<line x1="329.10" y1="47.85" x2="330.00" y2="47.85" stroke="#999" stroke-width="0.4"/>
<line x1="329.10" y1="44.92" x2="330.00" y2="44.92" stroke="#999" stroke-width="0.4"/>
<line x1="329.10" y1="42.00" x2="330.00" y2="42.00" stroke="#999" stroke-width="0.4"/>
<text x="326.90" y="90.15" font-size="3.8" text-anchor="end" font-weight="normal" fill="#4a4a4a">0</text>
<text x="326.90" y="78.45" font-size="3.8" text-anchor="end" font-weight="normal" fill="#4a4a4a">204</text>
<text x="326.90" y="66.75" font-size="3.8" text-anchor="end" font-weight="normal" fill="#4a4a4a">408</text>
<text x="326.90" y="55.05" font-size="3.8" text-anchor="end" font-weight="normal" fill="#4a4a4a">613</text>
<text x="326.90" y="43.35" font-size="3.8" text-anchor="end" font-weight="normal" fill="#4a4a4a">817</text>
<text x="319.65" y="65.40" font-size="4.4" text-anchor="middle" font-weight="normal" fill="#444" transform="rotate(-90 319.65 65.40)">Count</text>
<text x="333.79" y="96.00" font-size="4.0" text-anchor="middle" font-weight="normal" fill="#4a4a4a" textLength="16.5" lengthAdjust="spacingAndGlyphs">-10²10¹10²</text>
<line x1="362.06" y1="88.80" x2="362.06" y2="90.30" stroke="#666" stroke-width="0.6"/>
<text x="362.06" y="96.00" font-size="4.0" text-anchor="middle" font-weight="normal" fill="#4a4a4a">10³</text>
<line x1="376.35" y1="88.80" x2="376.35" y2="90.30" stroke="#666" stroke-width="0.6"/>
<text x="376.35" y="96.00" font-size="4.0" text-anchor="middle" font-weight="normal" fill="#4a4a4a">10⁴</text>
<line x1="386.55" y1="88.80" x2="386.55" y2="90.30" stroke="#666" stroke-width="0.6"/>
<text x="386.55" y="96.00" font-size="4.0" text-anchor="middle" font-weight="normal" fill="#4a4a4a">10⁵</text>
<text x="359.15" y="101.61" font-size="4.4" text-anchor="middle" font-weight="normal" fill="#444">F4/80</text>
<path d="M251.00,154.50 L251.50,154.50 L252.00,154.50 L252.50,154.50 L253.00,154.49 L253.50,154.49 L254.00,154.46 L254.50,154.42 L255.00,154.33 L255.50,154.12 L256.00,153.75 L256.50,153.12 L257.00,152.12 L257.50,150.40 L258.00,147.85 L258.50,144.91 L259.00,140.42 L259.50,135.31 L260.00,129.79 L260.50,123.06 L261.00,118.53 L261.50,114.18 L262.00,112.15 L262.50,109.99 L263.00,113.52 L263.50,113.66 L264.00,118.80 L264.50,123.38 L265.00,125.91 L265.50,132.11 L266.00,135.48 L266.50,139.80 L267.00,143.41 L267.50,146.88 L268.00,148.98 L268.50,150.83 L269.00,151.90 L269.50,152.84 L270.00,153.49 L270.50,153.90 L271.00,154.15 L271.50,154.30 L272.00,154.39 L272.50,154.44 L273.00,154.47 L273.50,154.49 L274.00,154.49 L274.50,154.50 L275.00,154.50 L275.50,154.50 L276.00,154.50 L276.50,154.50 L277.00,154.50 L277.50,154.50 L278.00,154.50 L278.50,154.50 L279.00,154.50 L279.50,154.50 L280.00,154.50 L280.50,154.50 L281.00,154.50 L281.50,154.50 L282.00,154.50 L282.50,154.50 L283.00,154.50 L283.50,154.50 L284.00,154.50 L284.50,154.50 L285.00,154.50 L285.50,154.50 L286.00,154.50 L286.50,154.50 L287.00,154.50 L287.50,154.50 L288.00,154.50 L288.50,154.50 L289.00,154.50 L289.50,154.50 L290.00,154.50 L290.50,154.50 L291.00,154.50 L291.50,154.50 L292.00,154.50 L292.50,154.50 L293.00,154.50 L293.50,154.50 L294.00,154.50 L294.50,154.50 L295.00,154.50 L295.50,154.50 L296.00,154.50 L296.50,154.50 L297.00,154.50 L297.50,154.50 L298.00,154.50 L298.50,154.50 L299.00,154.50 L299.50,154.50 L300.00,154.50 L300.50,154.50 L301.00,154.50 L301.50,154.50 L302.00,154.50 L302.50,154.50 L303.00,154.50 L303.50,154.50 L304.00,154.50 L304.50,154.50 L305.00,154.50 L305.50,154.50 L306.00,154.50 L306.50,154.50 L307.00,154.50 L307.50,154.50 L308.00,154.50 L308.50,154.50" fill="none" stroke="#a0a0a0" stroke-width="1.1" stroke-linejoin="round"/>
<path d="M251.00,154.50 L251.50,154.50 L252.00,154.50 L252.50,154.50 L253.00,154.50 L253.50,154.50 L254.00,154.50 L254.50,154.50 L255.00,154.50 L255.50,154.50 L256.00,154.50 L256.50,154.50 L257.00,154.50 L257.50,154.50 L258.00,154.50 L258.50,154.50 L259.00,154.50 L259.50,154.50 L260.00,154.50 L260.50,154.50 L261.00,154.50 L261.50,154.50 L262.00,154.50 L262.50,154.50 L263.00,154.50 L263.50,154.50 L264.00,154.50 L264.50,154.50 L265.00,154.50 L265.50,154.50 L266.00,154.50 L266.50,154.50 L267.00,154.50 L267.50,154.50 L268.00,154.50 L268.50,154.50 L269.00,154.49 L269.50,154.48 L270.00,154.45 L270.50,154.40 L271.00,154.28 L271.50,154.12 L272.00,153.80 L272.50,153.20 L273.00,152.52 L273.50,151.51 L274.00,149.70 L274.50,147.76 L275.00,145.48 L275.50,142.52 L276.00,140.75 L276.50,135.96 L277.00,133.12 L277.50,132.18 L278.00,129.14 L278.50,125.04 L279.00,122.44 L279.50,120.47 L280.00,117.89 L280.50,114.89 L281.00,118.35 L281.50,118.87 L282.00,119.75 L282.50,124.83 L283.00,125.23 L283.50,127.46 L284.00,132.90 L284.50,134.55 L285.00,137.94 L285.50,142.34 L286.00,145.16 L286.50,147.21 L287.00,149.56 L287.50,151.22 L288.00,152.21 L288.50,153.11 L289.00,153.73 L289.50,154.07 L290.00,154.27 L290.50,154.38 L291.00,154.44 L291.50,154.47 L292.00,154.49 L292.50,154.49 L293.00,154.50 L293.50,154.50 L294.00,154.50 L294.50,154.50 L295.00,154.50 L295.50,154.50 L296.00,154.50 L296.50,154.50 L297.00,154.50 L297.50,154.50 L298.00,154.50 L298.50,154.50 L299.00,154.50 L299.50,154.50 L300.00,154.50 L300.50,154.50 L301.00,154.50 L301.50,154.50 L302.00,154.50 L302.50,154.50 L303.00,154.50 L303.50,154.50 L304.00,154.50 L304.50,154.50 L305.00,154.50 L305.50,154.50 L306.00,154.50 L306.50,154.50 L307.00,154.50 L307.50,154.50 L308.00,154.50 L308.50,154.50" fill="none" stroke="#222" stroke-width="1.0" stroke-linejoin="round"/>
<rect x="250.40" y="107.40" width="58.80" height="47.80" fill="none" stroke="#555" stroke-width="0.9"/>
<path d="M250.40,107.40 V155.20 H309.20" fill="none" stroke="#2a2a2a" stroke-width="1.1"/>
<line x1="248.60" y1="155.20" x2="250.40" y2="155.20" stroke="#666" stroke-width="0.7"/>
<line x1="248.60" y1="143.25" x2="250.40" y2="143.25" stroke="#666" stroke-width="0.7"/>
<line x1="248.60" y1="131.30" x2="250.40" y2="131.30" stroke="#666" stroke-width="0.7"/>
<line x1="248.60" y1="119.35" x2="250.40" y2="119.35" stroke="#666" stroke-width="0.7"/>
<line x1="248.60" y1="107.40" x2="250.40" y2="107.40" stroke="#666" stroke-width="0.7"/>
<line x1="249.50" y1="155.20" x2="250.40" y2="155.20" stroke="#999" stroke-width="0.4"/>
<line x1="249.50" y1="152.21" x2="250.40" y2="152.21" stroke="#999" stroke-width="0.4"/>
<line x1="249.50" y1="149.22" x2="250.40" y2="149.22" stroke="#999" stroke-width="0.4"/>
<line x1="249.50" y1="146.24" x2="250.40" y2="146.24" stroke="#999" stroke-width="0.4"/>
<line x1="249.50" y1="143.25" x2="250.40" y2="143.25" stroke="#999" stroke-width="0.4"/>
<line x1="249.50" y1="140.26" x2="250.40" y2="140.26" stroke="#999" stroke-width="0.4"/>
<line x1="249.50" y1="137.28" x2="250.40" y2="137.28" stroke="#999" stroke-width="0.4"/>
<line x1="249.50" y1="134.29" x2="250.40" y2="134.29" stroke="#999" stroke-width="0.4"/>
<line x1="249.50" y1="131.30" x2="250.40" y2="131.30" stroke="#999" stroke-width="0.4"/>
<line x1="249.50" y1="128.31" x2="250.40" y2="128.31" stroke="#999" stroke-width="0.4"/>
<line x1="249.50" y1="125.33" x2="250.40" y2="125.33" stroke="#999" stroke-width="0.4"/>
<line x1="249.50" y1="122.34" x2="250.40" y2="122.34" stroke="#999" stroke-width="0.4"/>
<line x1="249.50" y1="119.35" x2="250.40" y2="119.35" stroke="#999" stroke-width="0.4"/>
<line x1="249.50" y1="116.36" x2="250.40" y2="116.36" stroke="#999" stroke-width="0.4"/>
<line x1="249.50" y1="113.38" x2="250.40" y2="113.38" stroke="#999" stroke-width="0.4"/>
<line x1="249.50" y1="110.39" x2="250.40" y2="110.39" stroke="#999" stroke-width="0.4"/>
<line x1="249.50" y1="107.40" x2="250.40" y2="107.40" stroke="#999" stroke-width="0.4"/>
<text x="247.30" y="156.55" font-size="3.8" text-anchor="end" font-weight="normal" fill="#4a4a4a">0</text>
<text x="247.30" y="144.60" font-size="3.8" text-anchor="end" font-weight="normal" fill="#4a4a4a">28</text>
<text x="247.30" y="132.65" font-size="3.8" text-anchor="end" font-weight="normal" fill="#4a4a4a">56</text>
<text x="247.30" y="120.70" font-size="3.8" text-anchor="end" font-weight="normal" fill="#4a4a4a">83</text>
<text x="247.30" y="108.75" font-size="3.8" text-anchor="end" font-weight="normal" fill="#4a4a4a">111</text>
<text x="240.05" y="131.30" font-size="4.4" text-anchor="middle" font-weight="normal" fill="#444" transform="rotate(-90 240.05 131.30)">Count</text>
<text x="254.22" y="162.40" font-size="4.0" text-anchor="middle" font-weight="normal" fill="#4a4a4a" textLength="16.5" lengthAdjust="spacingAndGlyphs">-10²10¹10²</text>
<line x1="282.74" y1="155.20" x2="282.74" y2="156.70" stroke="#666" stroke-width="0.6"/>
<text x="282.74" y="162.40" font-size="4.0" text-anchor="middle" font-weight="normal" fill="#4a4a4a">10³</text>
<line x1="297.15" y1="155.20" x2="297.15" y2="156.70" stroke="#666" stroke-width="0.6"/>
<text x="297.15" y="162.40" font-size="4.0" text-anchor="middle" font-weight="normal" fill="#4a4a4a">10⁴</text>
<line x1="307.44" y1="155.20" x2="307.44" y2="156.70" stroke="#666" stroke-width="0.6"/>
<text x="307.44" y="162.40" font-size="4.0" text-anchor="middle" font-weight="normal" fill="#4a4a4a">10⁵</text>
<text x="279.80" y="168.01" font-size="4.4" text-anchor="middle" font-weight="normal" fill="#444">TLR2</text>
<path d="M332.10,154.20 L332.60,154.19 L333.10,154.14 L333.60,153.96 L334.10,153.35 L334.60,151.67 L335.10,147.84 L335.60,140.78 L336.10,130.40 L336.60,118.72 L337.10,109.74 L337.60,107.70 L338.10,109.74 L338.60,115.21 L339.10,122.54 L339.60,130.40 L340.10,137.64 L340.60,143.53 L341.10,147.84 L341.60,150.69 L342.10,152.41 L342.60,153.35 L343.10,153.83 L343.60,154.05 L344.10,154.14 L344.60,154.18 L345.10,154.19 L345.60,154.20 L346.10,154.20 L346.60,154.20 L347.10,154.20 L347.60,154.20 L348.10,154.20 L348.60,154.20 L349.10,154.20 L349.60,154.20 L350.10,154.20 L350.60,154.20 L351.10,154.20 L351.60,154.20 L352.10,154.20 L352.60,154.20 L353.10,154.20 L353.60,154.20 L354.10,154.20 L354.60,154.20 L355.10,154.20 L355.60,154.20 L356.10,154.20 L356.60,154.20 L357.10,154.20 L357.60,154.20 L358.10,154.20 L358.60,154.20 L359.10,154.20 L359.60,154.20 L360.10,154.20 L360.60,154.20 L361.10,154.20 L361.60,154.20 L362.10,154.20 L362.60,154.20 L363.10,154.20 L363.60,154.20 L364.10,154.20 L364.60,154.20 L365.10,154.20 L365.60,154.20 L366.10,154.20 L366.60,154.20 L367.10,154.20 L367.60,154.20 L368.10,154.20 L368.60,154.20 L369.10,154.20 L369.60,154.20 L370.10,154.20 L370.60,154.20 L371.10,154.20 L371.60,154.20 L372.10,154.20 L372.60,154.20 L373.10,154.20 L373.60,154.20 L374.10,154.20 L374.60,154.20 L375.10,154.20 L375.60,154.20 L376.10,154.20 L376.60,154.20 L377.10,154.20 L377.60,154.20 L378.10,154.20 L378.60,154.20 L379.10,154.20 L379.60,154.20 L380.10,154.20 L380.60,154.20 L381.10,154.20 L381.60,154.20 L382.10,154.20 L382.60,154.20 L383.10,154.20 L383.60,154.20 L384.10,154.20 L384.60,154.20 L385.10,154.20 L385.60,154.20 L386.10,154.20 L386.60,154.20 L387.10,154.20" fill="none" stroke="#a0a0a0" stroke-width="1.1" stroke-linejoin="round"/>
<path d="M332.10,154.19 L332.60,153.94 L333.10,153.52 L333.60,153.13 L334.10,152.98 L334.60,152.90 L335.10,152.58 L335.60,152.30 L336.10,152.30 L336.60,152.42 L337.10,152.54 L337.60,152.66 L338.10,152.74 L338.60,152.70 L339.10,152.61 L339.60,152.47 L340.10,152.36 L340.60,152.33 L341.10,151.98 L341.60,150.86 L342.10,149.55 L342.60,149.05 L343.10,148.69 L343.60,148.00 L344.10,147.62 L344.60,147.81 L345.10,147.40 L345.60,147.35 L346.10,147.13 L346.60,146.97 L347.10,147.02 L347.60,147.05 L348.10,146.97 L348.60,146.80 L349.10,146.42 L349.60,146.30 L350.10,146.00 L350.60,146.26 L351.10,146.00 L351.60,145.57 L352.10,145.76 L352.60,145.23 L353.10,144.97 L353.60,144.92 L354.10,144.32 L354.60,144.68 L355.10,143.95 L355.60,144.01 L356.10,143.71 L356.60,142.79 L357.10,143.09 L357.60,143.09 L358.10,142.39 L358.60,142.16 L359.10,141.87 L359.60,142.48 L360.10,142.37 L360.60,141.66 L361.10,141.96 L361.60,143.39 L362.10,144.39 L362.60,144.91 L363.10,145.33 L363.60,147.04 L364.10,148.89 L364.60,150.26 L365.10,150.65 L365.60,151.14 L366.10,152.05 L366.60,152.93 L367.10,153.39 L367.60,153.48 L368.10,153.79 L368.60,154.10 L369.10,154.20 L369.60,154.20 L370.10,154.20 L370.60,154.20 L371.10,154.20 L371.60,154.20 L372.10,154.20 L372.60,154.20 L373.10,154.20 L373.60,154.20 L374.10,154.20 L374.60,154.20 L375.10,154.20 L375.60,154.20 L376.10,154.20 L376.60,154.20 L377.10,154.20 L377.60,154.20 L378.10,154.20 L378.60,154.20 L379.10,154.20 L379.60,154.20 L380.10,154.20 L380.60,154.20 L381.10,154.20 L381.60,154.20 L382.10,154.20 L382.60,154.20 L383.10,154.20 L383.60,154.20 L384.10,154.20 L384.60,154.20 L385.10,154.20 L385.60,154.20 L386.10,154.20 L386.60,154.20 L387.10,154.20" fill="none" stroke="#000" stroke-width="1.3" stroke-linejoin="round"/>
<rect x="331.50" y="107.40" width="56.30" height="47.50" fill="none" stroke="#555" stroke-width="0.9"/>
<path d="M331.50,107.40 V154.90 H387.80" fill="none" stroke="#2a2a2a" stroke-width="1.1"/>
<line x1="329.70" y1="154.90" x2="331.50" y2="154.90" stroke="#666" stroke-width="0.7"/>
<line x1="329.70" y1="143.03" x2="331.50" y2="143.03" stroke="#666" stroke-width="0.7"/>
<line x1="329.70" y1="131.15" x2="331.50" y2="131.15" stroke="#666" stroke-width="0.7"/>
<line x1="329.70" y1="119.28" x2="331.50" y2="119.28" stroke="#666" stroke-width="0.7"/>
<line x1="329.70" y1="107.40" x2="331.50" y2="107.40" stroke="#666" stroke-width="0.7"/>
<line x1="330.60" y1="154.90" x2="331.50" y2="154.90" stroke="#999" stroke-width="0.4"/>
<line x1="330.60" y1="151.93" x2="331.50" y2="151.93" stroke="#999" stroke-width="0.4"/>
<line x1="330.60" y1="148.96" x2="331.50" y2="148.96" stroke="#999" stroke-width="0.4"/>
<line x1="330.60" y1="145.99" x2="331.50" y2="145.99" stroke="#999" stroke-width="0.4"/>
<line x1="330.60" y1="143.03" x2="331.50" y2="143.03" stroke="#999" stroke-width="0.4"/>
<line x1="330.60" y1="140.06" x2="331.50" y2="140.06" stroke="#999" stroke-width="0.4"/>
<line x1="330.60" y1="137.09" x2="331.50" y2="137.09" stroke="#999" stroke-width="0.4"/>
<line x1="330.60" y1="134.12" x2="331.50" y2="134.12" stroke="#999" stroke-width="0.4"/>
<line x1="330.60" y1="131.15" x2="331.50" y2="131.15" stroke="#999" stroke-width="0.4"/>
<line x1="330.60" y1="128.18" x2="331.50" y2="128.18" stroke="#999" stroke-width="0.4"/>
<line x1="330.60" y1="125.21" x2="331.50" y2="125.21" stroke="#999" stroke-width="0.4"/>
<line x1="330.60" y1="122.24" x2="331.50" y2="122.24" stroke="#999" stroke-width="0.4"/>
<line x1="330.60" y1="119.28" x2="331.50" y2="119.28" stroke="#999" stroke-width="0.4"/>
<line x1="330.60" y1="116.31" x2="331.50" y2="116.31" stroke="#999" stroke-width="0.4"/>
<line x1="330.60" y1="113.34" x2="331.50" y2="113.34" stroke="#999" stroke-width="0.4"/>
<line x1="330.60" y1="110.37" x2="331.50" y2="110.37" stroke="#999" stroke-width="0.4"/>
<line x1="330.60" y1="107.40" x2="331.50" y2="107.40" stroke="#999" stroke-width="0.4"/>
<text x="328.40" y="156.25" font-size="3.8" text-anchor="end" font-weight="normal" fill="#4a4a4a">0</text>
<text x="328.40" y="144.38" font-size="3.8" text-anchor="end" font-weight="normal" fill="#4a4a4a">394</text>
<text x="328.40" y="132.50" font-size="3.8" text-anchor="end" font-weight="normal" fill="#4a4a4a">788</text>
<text x="328.40" y="120.62" font-size="3.8" text-anchor="end" font-weight="normal" fill="#4a4a4a">1181</text>
<text x="328.40" y="108.75" font-size="3.8" text-anchor="end" font-weight="normal" fill="#4a4a4a">1575</text>
<text x="318.70" y="131.15" font-size="4.4" text-anchor="middle" font-weight="normal" fill="#444" transform="rotate(-90 318.70 131.15)">Count</text>
<text x="335.16" y="162.10" font-size="4.0" text-anchor="middle" font-weight="normal" fill="#4a4a4a" textLength="16.5" lengthAdjust="spacingAndGlyphs">-10²10¹10²</text>
<line x1="362.47" y1="154.90" x2="362.47" y2="156.40" stroke="#666" stroke-width="0.6"/>
<text x="362.47" y="162.10" font-size="4.0" text-anchor="middle" font-weight="normal" fill="#4a4a4a">10³</text>
<line x1="376.26" y1="154.90" x2="376.26" y2="156.40" stroke="#666" stroke-width="0.6"/>
<text x="376.26" y="162.10" font-size="4.0" text-anchor="middle" font-weight="normal" fill="#4a4a4a">10⁴</text>
<line x1="386.11" y1="154.90" x2="386.11" y2="156.40" stroke="#666" stroke-width="0.6"/>
<text x="386.11" y="162.10" font-size="4.0" text-anchor="middle" font-weight="normal" fill="#4a4a4a">10⁵</text>
<text x="359.65" y="167.71" font-size="4.4" text-anchor="middle" font-weight="normal" fill="#444">TLR2</text>
<path d="M251.00,224.30 L251.50,224.30 L252.00,224.30 L252.50,224.30 L253.00,224.30 L253.50,224.29 L254.00,224.28 L254.50,224.26 L255.00,224.22 L255.50,224.13 L256.00,223.99 L256.50,223.74 L257.00,223.31 L257.50,222.69 L258.00,221.69 L258.50,220.10 L259.00,218.15 L259.50,214.71 L260.00,211.29 L260.50,207.06 L261.00,203.03 L261.50,196.72 L262.00,190.89 L262.50,184.67 L263.00,179.78 L263.50,177.90 L264.00,177.90 L264.50,177.90 L265.00,177.90 L265.50,178.68 L266.00,181.52 L266.50,190.00 L267.00,195.03 L267.50,199.97 L268.00,206.85 L268.50,211.03 L269.00,213.98 L269.50,217.27 L270.00,219.77 L270.50,221.52 L271.00,222.41 L271.50,223.19 L272.00,223.65 L272.50,223.93 L273.00,224.11 L273.50,224.21 L274.00,224.25 L274.50,224.28 L275.00,224.29 L275.50,224.30 L276.00,224.30 L276.50,224.30 L277.00,224.30 L277.50,224.30 L278.00,224.30 L278.50,224.30 L279.00,224.30 L279.50,224.30 L280.00,224.30 L280.50,224.30 L281.00,224.30 L281.50,224.30 L282.00,224.30 L282.50,224.30 L283.00,224.30 L283.50,224.30 L284.00,224.30 L284.50,224.30 L285.00,224.30 L285.50,224.30 L286.00,224.30 L286.50,224.30 L287.00,224.30 L287.50,224.30 L288.00,224.30 L288.50,224.30 L289.00,224.30 L289.50,224.30 L290.00,224.30 L290.50,224.30 L291.00,224.30 L291.50,224.30 L292.00,224.30 L292.50,224.30 L293.00,224.30 L293.50,224.30 L294.00,224.30 L294.50,224.30 L295.00,224.30 L295.50,224.30 L296.00,224.30 L296.50,224.30 L297.00,224.30 L297.50,224.30 L298.00,224.30 L298.50,224.30 L299.00,224.30 L299.50,224.30 L300.00,224.30 L300.50,224.30 L301.00,224.30 L301.50,224.30 L302.00,224.30 L302.50,224.30 L303.00,224.30 L303.50,224.30 L304.00,224.30 L304.50,224.30 L305.00,224.30 L305.50,224.30 L306.00,224.30 L306.50,224.30 L307.00,224.30 L307.50,224.30 L308.00,224.30 L308.50,224.30" fill="none" stroke="#c4c4c4" stroke-width="2.0" stroke-linejoin="round"/>
<path d="M251.00,224.30 L251.50,224.30 L252.00,224.30 L252.50,224.30 L253.00,224.30 L253.50,224.30 L254.00,224.30 L254.50,224.30 L255.00,224.30 L255.50,224.30 L256.00,224.30 L256.50,224.30 L257.00,224.30 L257.50,224.30 L258.00,224.30 L258.50,224.30 L259.00,224.29 L259.50,224.29 L260.00,224.28 L260.50,224.26 L261.00,224.23 L261.50,224.18 L262.00,224.09 L262.50,223.92 L263.00,223.70 L263.50,223.35 L264.00,222.84 L264.50,222.09 L265.00,221.08 L265.50,219.79 L266.00,217.74 L266.50,215.69 L267.00,213.19 L267.50,209.52 L268.00,206.88 L268.50,203.01 L269.00,198.20 L269.50,196.20 L270.00,192.35 L270.50,188.77 L271.00,187.15 L271.50,188.33 L272.00,188.02 L272.50,188.10 L273.00,191.01 L273.50,192.14 L274.00,197.02 L274.50,198.88 L275.00,203.25 L275.50,207.08 L276.00,209.98 L276.50,213.18 L277.00,215.24 L277.50,217.67 L278.00,219.13 L278.50,220.66 L279.00,221.77 L279.50,222.58 L280.00,223.11 L280.50,223.54 L281.00,223.79 L281.50,224.00 L282.00,224.11 L282.50,224.19 L283.00,224.24 L283.50,224.26 L284.00,224.28 L284.50,224.29 L285.00,224.29 L285.50,224.30 L286.00,224.30 L286.50,224.30 L287.00,224.30 L287.50,224.30 L288.00,224.30 L288.50,224.30 L289.00,224.30 L289.50,224.30 L290.00,224.30 L290.50,224.30 L291.00,224.30 L291.50,224.30 L292.00,224.30 L292.50,224.30 L293.00,224.30 L293.50,224.30 L294.00,224.30 L294.50,224.30 L295.00,224.30 L295.50,224.30 L296.00,224.30 L296.50,224.30 L297.00,224.30 L297.50,224.30 L298.00,224.30 L298.50,224.30 L299.00,224.30 L299.50,224.30 L300.00,224.30 L300.50,224.30 L301.00,224.30 L301.50,224.30 L302.00,224.30 L302.50,224.30 L303.00,224.30 L303.50,224.30 L304.00,224.30 L304.50,224.30 L305.00,224.30 L305.50,224.30 L306.00,224.30 L306.50,224.30 L307.00,224.30 L307.50,224.30 L308.00,224.30 L308.50,224.30" fill="none" stroke="#000" stroke-width="1.8" stroke-linejoin="round"/>
<rect x="250.40" y="177.60" width="59.10" height="47.40" fill="none" stroke="#555" stroke-width="0.9"/>
<path d="M250.40,177.60 V225.00 H309.50" fill="none" stroke="#2a2a2a" stroke-width="1.1"/>
<line x1="248.60" y1="225.00" x2="250.40" y2="225.00" stroke="#666" stroke-width="0.7"/>
<line x1="248.60" y1="213.15" x2="250.40" y2="213.15" stroke="#666" stroke-width="0.7"/>
<line x1="248.60" y1="201.30" x2="250.40" y2="201.30" stroke="#666" stroke-width="0.7"/>
<line x1="248.60" y1="189.45" x2="250.40" y2="189.45" stroke="#666" stroke-width="0.7"/>
<line x1="248.60" y1="177.60" x2="250.40" y2="177.60" stroke="#666" stroke-width="0.7"/>
<line x1="249.50" y1="225.00" x2="250.40" y2="225.00" stroke="#999" stroke-width="0.4"/>
<line x1="249.50" y1="222.04" x2="250.40" y2="222.04" stroke="#999" stroke-width="0.4"/>
<line x1="249.50" y1="219.07" x2="250.40" y2="219.07" stroke="#999" stroke-width="0.4"/>
<line x1="249.50" y1="216.11" x2="250.40" y2="216.11" stroke="#999" stroke-width="0.4"/>
<line x1="249.50" y1="213.15" x2="250.40" y2="213.15" stroke="#999" stroke-width="0.4"/>
<line x1="249.50" y1="210.19" x2="250.40" y2="210.19" stroke="#999" stroke-width="0.4"/>
<line x1="249.50" y1="207.22" x2="250.40" y2="207.22" stroke="#999" stroke-width="0.4"/>
<line x1="249.50" y1="204.26" x2="250.40" y2="204.26" stroke="#999" stroke-width="0.4"/>
<line x1="249.50" y1="201.30" x2="250.40" y2="201.30" stroke="#999" stroke-width="0.4"/>
<line x1="249.50" y1="198.34" x2="250.40" y2="198.34" stroke="#999" stroke-width="0.4"/>
<line x1="249.50" y1="195.38" x2="250.40" y2="195.38" stroke="#999" stroke-width="0.4"/>
<line x1="249.50" y1="192.41" x2="250.40" y2="192.41" stroke="#999" stroke-width="0.4"/>
<line x1="249.50" y1="189.45" x2="250.40" y2="189.45" stroke="#999" stroke-width="0.4"/>
<line x1="249.50" y1="186.49" x2="250.40" y2="186.49" stroke="#999" stroke-width="0.4"/>
<line x1="249.50" y1="183.52" x2="250.40" y2="183.52" stroke="#999" stroke-width="0.4"/>
<line x1="249.50" y1="180.56" x2="250.40" y2="180.56" stroke="#999" stroke-width="0.4"/>
<line x1="249.50" y1="177.60" x2="250.40" y2="177.60" stroke="#999" stroke-width="0.4"/>
<text x="247.30" y="226.35" font-size="3.8" text-anchor="end" font-weight="normal" fill="#4a4a4a">0</text>
<text x="247.30" y="214.50" font-size="3.8" text-anchor="end" font-weight="normal" fill="#4a4a4a">40</text>
<text x="247.30" y="202.65" font-size="3.8" text-anchor="end" font-weight="normal" fill="#4a4a4a">80</text>
<text x="247.30" y="190.80" font-size="3.8" text-anchor="end" font-weight="normal" fill="#4a4a4a">119</text>
<text x="247.30" y="178.95" font-size="3.8" text-anchor="end" font-weight="normal" fill="#4a4a4a">159</text>
<text x="240.05" y="201.30" font-size="4.4" text-anchor="middle" font-weight="normal" fill="#444" transform="rotate(-90 240.05 201.30)">Count</text>
<text x="254.24" y="232.20" font-size="4.0" text-anchor="middle" font-weight="normal" fill="#4a4a4a" textLength="16.5" lengthAdjust="spacingAndGlyphs">-10²10¹10²</text>
<line x1="282.91" y1="225.00" x2="282.91" y2="226.50" stroke="#666" stroke-width="0.6"/>
<text x="282.91" y="232.20" font-size="4.0" text-anchor="middle" font-weight="normal" fill="#4a4a4a">10³</text>
<line x1="297.38" y1="225.00" x2="297.38" y2="226.50" stroke="#666" stroke-width="0.6"/>
<text x="297.38" y="232.20" font-size="4.0" text-anchor="middle" font-weight="normal" fill="#4a4a4a">10⁴</text>
<line x1="307.73" y1="225.00" x2="307.73" y2="226.50" stroke="#666" stroke-width="0.6"/>
<text x="307.73" y="232.20" font-size="4.0" text-anchor="middle" font-weight="normal" fill="#4a4a4a">10⁵</text>
<text x="279.95" y="237.81" font-size="4.4" text-anchor="middle" font-weight="normal" fill="#444">CD49d</text>
<path d="M329.00,224.32 L329.50,224.11 L330.00,223.71 L330.50,223.08 L331.00,221.85 L331.50,220.13 L332.00,217.42 L332.50,214.13 L333.00,209.32 L333.50,203.28 L334.00,197.62 L334.50,192.21 L335.00,183.97 L335.50,179.53 L336.00,178.73 L336.50,179.38 L337.00,178.18 L337.50,182.67 L338.00,189.25 L338.50,194.25 L339.00,200.31 L339.50,204.73 L340.00,210.51 L340.50,214.00 L341.00,217.45 L341.50,220.15 L342.00,221.66 L342.50,222.84 L343.00,223.53 L343.50,223.96 L344.00,224.23 L344.50,224.37 L345.00,224.43 L345.50,224.47 L346.00,224.49 L346.50,224.49 L347.00,224.50 L347.50,224.50 L348.00,224.50 L348.50,224.50 L349.00,224.50 L349.50,224.50 L350.00,224.50 L350.50,224.50 L351.00,224.50 L351.50,224.50 L352.00,224.50 L352.50,224.50 L353.00,224.50 L353.50,224.50 L354.00,224.50 L354.50,224.50 L355.00,224.50 L355.50,224.50 L356.00,224.50 L356.50,224.50 L357.00,224.50 L357.50,224.50 L358.00,224.50 L358.50,224.50 L359.00,224.50 L359.50,224.50 L360.00,224.50 L360.50,224.50 L361.00,224.50 L361.50,224.50 L362.00,224.50 L362.50,224.50 L363.00,224.50 L363.50,224.50 L364.00,224.50 L364.50,224.50 L365.00,224.50 L365.50,224.50 L366.00,224.50 L366.50,224.50 L367.00,224.50 L367.50,224.50 L368.00,224.50 L368.50,224.50 L369.00,224.50 L369.50,224.50 L370.00,224.50 L370.50,224.50 L371.00,224.50 L371.50,224.50 L372.00,224.50 L372.50,224.50 L373.00,224.50 L373.50,224.50 L374.00,224.50 L374.50,224.50 L375.00,224.50 L375.50,224.50 L376.00,224.50 L376.50,224.50 L377.00,224.50 L377.50,224.50 L378.00,224.50 L378.50,224.50 L379.00,224.50 L379.50,224.50 L380.00,224.50 L380.50,224.50 L381.00,224.50 L381.50,224.50 L382.00,224.50 L382.50,224.50 L383.00,224.50 L383.50,224.50 L384.00,224.50 L384.50,224.50 L385.00,224.50 L385.50,224.50 L386.00,224.50 L386.50,224.50 L387.00,224.50" fill="none" stroke="#c4c4c4" stroke-width="1.9" stroke-linejoin="round"/>
<path d="M329.00,224.50 L329.50,224.50 L330.00,224.50 L330.50,224.50 L331.00,224.50 L331.50,224.49 L332.00,224.48 L332.50,224.45 L333.00,224.39 L333.50,224.27 L334.00,224.04 L334.50,223.70 L335.00,223.01 L335.50,221.97 L336.00,220.46 L336.50,218.49 L337.00,215.79 L337.50,211.67 L338.00,208.06 L338.50,203.49 L339.00,198.63 L339.50,194.98 L340.00,190.68 L340.50,190.52 L341.00,190.85 L341.50,190.14 L342.00,191.54 L342.50,193.33 L343.00,196.41 L343.50,199.19 L344.00,202.52 L344.50,206.57 L345.00,209.71 L345.50,212.92 L346.00,215.30 L346.50,217.29 L347.00,219.32 L347.50,220.53 L348.00,221.79 L348.50,222.57 L349.00,223.14 L349.50,223.66 L350.00,223.96 L350.50,224.15 L351.00,224.29 L351.50,224.37 L352.00,224.43 L352.50,224.46 L353.00,224.47 L353.50,224.49 L354.00,224.49 L354.50,224.50 L355.00,224.50 L355.50,224.50 L356.00,224.50 L356.50,224.50 L357.00,224.50 L357.50,224.50 L358.00,224.50 L358.50,224.50 L359.00,224.50 L359.50,224.50 L360.00,224.50 L360.50,224.50 L361.00,224.50 L361.50,224.50 L362.00,224.50 L362.50,224.50 L363.00,224.50 L363.50,224.50 L364.00,224.50 L364.50,224.50 L365.00,224.50 L365.50,224.50 L366.00,224.50 L366.50,224.50 L367.00,224.50 L367.50,224.50 L368.00,224.50 L368.50,224.50 L369.00,224.50 L369.50,224.50 L370.00,224.50 L370.50,224.50 L371.00,224.50 L371.50,224.50 L372.00,224.50 L372.50,224.50 L373.00,224.50 L373.50,224.50 L374.00,224.50 L374.50,224.50 L375.00,224.50 L375.50,224.50 L376.00,224.50 L376.50,224.50 L377.00,224.50 L377.50,224.50 L378.00,224.50 L378.50,224.50 L379.00,224.50 L379.50,224.50 L380.00,224.50 L380.50,224.50 L381.00,224.50 L381.50,224.50 L382.00,224.50 L382.50,224.50 L383.00,224.50 L383.50,224.50 L384.00,224.50 L384.50,224.50 L385.00,224.50 L385.50,224.50 L386.00,224.50 L386.50,224.50 L387.00,224.50" fill="none" stroke="#000" stroke-width="1.8" stroke-linejoin="round"/>
<rect x="328.40" y="177.30" width="59.20" height="47.90" fill="none" stroke="#555" stroke-width="0.9"/>
<path d="M328.40,177.30 V225.20 H387.60" fill="none" stroke="#2a2a2a" stroke-width="1.1"/>
<line x1="326.60" y1="225.20" x2="328.40" y2="225.20" stroke="#666" stroke-width="0.7"/>
<line x1="326.60" y1="213.22" x2="328.40" y2="213.22" stroke="#666" stroke-width="0.7"/>
<line x1="326.60" y1="201.25" x2="328.40" y2="201.25" stroke="#666" stroke-width="0.7"/>
<line x1="326.60" y1="189.28" x2="328.40" y2="189.28" stroke="#666" stroke-width="0.7"/>
<line x1="326.60" y1="177.30" x2="328.40" y2="177.30" stroke="#666" stroke-width="0.7"/>
<line x1="327.50" y1="225.20" x2="328.40" y2="225.20" stroke="#999" stroke-width="0.4"/>
<line x1="327.50" y1="222.21" x2="328.40" y2="222.21" stroke="#999" stroke-width="0.4"/>
<line x1="327.50" y1="219.21" x2="328.40" y2="219.21" stroke="#999" stroke-width="0.4"/>
<line x1="327.50" y1="216.22" x2="328.40" y2="216.22" stroke="#999" stroke-width="0.4"/>
<line x1="327.50" y1="213.22" x2="328.40" y2="213.22" stroke="#999" stroke-width="0.4"/>
<line x1="327.50" y1="210.23" x2="328.40" y2="210.23" stroke="#999" stroke-width="0.4"/>
<line x1="327.50" y1="207.24" x2="328.40" y2="207.24" stroke="#999" stroke-width="0.4"/>
<line x1="327.50" y1="204.24" x2="328.40" y2="204.24" stroke="#999" stroke-width="0.4"/>
<line x1="327.50" y1="201.25" x2="328.40" y2="201.25" stroke="#999" stroke-width="0.4"/>
<line x1="327.50" y1="198.26" x2="328.40" y2="198.26" stroke="#999" stroke-width="0.4"/>
<line x1="327.50" y1="195.26" x2="328.40" y2="195.26" stroke="#999" stroke-width="0.4"/>
<line x1="327.50" y1="192.27" x2="328.40" y2="192.27" stroke="#999" stroke-width="0.4"/>
<line x1="327.50" y1="189.28" x2="328.40" y2="189.28" stroke="#999" stroke-width="0.4"/>
<line x1="327.50" y1="186.28" x2="328.40" y2="186.28" stroke="#999" stroke-width="0.4"/>
<line x1="327.50" y1="183.29" x2="328.40" y2="183.29" stroke="#999" stroke-width="0.4"/>
<line x1="327.50" y1="180.29" x2="328.40" y2="180.29" stroke="#999" stroke-width="0.4"/>
<line x1="327.50" y1="177.30" x2="328.40" y2="177.30" stroke="#999" stroke-width="0.4"/>
<text x="325.30" y="226.55" font-size="3.8" text-anchor="end" font-weight="normal" fill="#4a4a4a">0</text>
<text x="325.30" y="214.57" font-size="3.8" text-anchor="end" font-weight="normal" fill="#4a4a4a">80</text>
<text x="325.30" y="202.60" font-size="3.8" text-anchor="end" font-weight="normal" fill="#4a4a4a">160</text>
<text x="325.30" y="190.62" font-size="3.8" text-anchor="end" font-weight="normal" fill="#4a4a4a">240</text>
<text x="325.30" y="178.65" font-size="3.8" text-anchor="end" font-weight="normal" fill="#4a4a4a">320</text>
<text x="318.05" y="201.25" font-size="4.4" text-anchor="middle" font-weight="normal" fill="#444" transform="rotate(-90 318.05 201.25)">Count</text>
<text x="332.25" y="232.40" font-size="4.0" text-anchor="middle" font-weight="normal" fill="#4a4a4a" textLength="16.5" lengthAdjust="spacingAndGlyphs">-10²10¹10²</text>
<line x1="360.96" y1="225.20" x2="360.96" y2="226.70" stroke="#666" stroke-width="0.6"/>
<text x="360.96" y="232.40" font-size="4.0" text-anchor="middle" font-weight="normal" fill="#4a4a4a">10³</text>
<line x1="375.46" y1="225.20" x2="375.46" y2="226.70" stroke="#666" stroke-width="0.6"/>
<text x="375.46" y="232.40" font-size="4.0" text-anchor="middle" font-weight="normal" fill="#4a4a4a">10⁴</text>
<line x1="385.82" y1="225.20" x2="385.82" y2="226.70" stroke="#666" stroke-width="0.6"/>
<text x="385.82" y="232.40" font-size="4.0" text-anchor="middle" font-weight="normal" fill="#4a4a4a">10⁵</text>
<text x="358.00" y="238.01" font-size="4.4" text-anchor="middle" font-weight="normal" fill="#444">CD49d</text>
<path d="M251.70,291.80 L252.20,291.80 L252.70,291.80 L253.20,291.80 L253.70,291.80 L254.20,291.80 L254.70,291.80 L255.20,291.80 L255.70,291.80 L256.20,291.79 L256.70,291.78 L257.20,291.73 L257.70,291.63 L258.20,291.38 L258.70,290.69 L259.20,289.59 L259.70,287.34 L260.20,284.58 L260.70,278.60 L261.20,273.93 L261.70,265.90 L262.20,257.21 L262.70,252.05 L263.20,245.70 L263.70,245.70 L264.20,245.70 L264.70,245.70 L265.20,245.70 L265.70,245.70 L266.20,247.81 L266.70,252.29 L267.20,260.03 L267.70,264.38 L268.20,270.38 L268.70,277.37 L269.20,280.42 L269.70,284.50 L270.20,286.72 L270.70,288.70 L271.20,289.94 L271.70,290.87 L272.20,291.29 L272.70,291.53 L273.20,291.67 L273.70,291.74 L274.20,291.78 L274.70,291.79 L275.20,291.80 L275.70,291.80 L276.20,291.80 L276.70,291.80 L277.20,291.80 L277.70,291.80 L278.20,291.80 L278.70,291.80 L279.20,291.80 L279.70,291.80 L280.20,291.80 L280.70,291.80 L281.20,291.80 L281.70,291.80 L282.20,291.80 L282.70,291.80 L283.20,291.80 L283.70,291.80 L284.20,291.80 L284.70,291.80 L285.20,291.80 L285.70,291.80 L286.20,291.80 L286.70,291.80 L287.20,291.80 L287.70,291.80 L288.20,291.80 L288.70,291.80 L289.20,291.80 L289.70,291.80 L290.20,291.80 L290.70,291.80 L291.20,291.80 L291.70,291.80 L292.20,291.80 L292.70,291.80 L293.20,291.80 L293.70,291.80 L294.20,291.80 L294.70,291.80 L295.20,291.80 L295.70,291.80 L296.20,291.80 L296.70,291.80 L297.20,291.80 L297.70,291.80 L298.20,291.80 L298.70,291.80 L299.20,291.80 L299.70,291.80 L300.20,291.80 L300.70,291.80 L301.20,291.80 L301.70,291.80 L302.20,291.80 L302.70,291.80 L303.20,291.80 L303.70,291.80 L304.20,291.80 L304.70,291.80 L305.20,291.80 L305.70,291.80 L306.20,291.80 L306.70,291.80 L307.20,291.80 L307.70,291.80 L308.20,291.80 L308.70,291.80 L309.20,291.80 L309.70,291.80 L310.20,291.80" fill="none" stroke="#bbb" stroke-width="1.3" stroke-linejoin="round"/>
<path d="M251.70,291.80 L252.20,291.80 L252.70,291.80 L253.20,291.80 L253.70,291.80 L254.20,291.80 L254.70,291.80 L255.20,291.80 L255.70,291.80 L256.20,291.80 L256.70,291.80 L257.20,291.80 L257.70,291.80 L258.20,291.80 L258.70,291.80 L259.20,291.80 L259.70,291.80 L260.20,291.80 L260.70,291.80 L261.20,291.80 L261.70,291.80 L262.20,291.79 L262.70,291.71 L263.20,291.49 L263.70,291.26 L264.20,290.72 L264.70,290.84 L265.20,290.82 L265.70,290.31 L266.20,289.19 L266.70,287.42 L267.20,286.66 L267.70,286.16 L268.20,280.97 L268.70,283.03 L269.20,282.77 L269.70,281.44 L270.20,282.28 L270.70,282.35 L271.20,282.32 L271.70,279.71 L272.20,279.01 L272.70,274.89 L273.20,276.33 L273.70,272.44 L274.20,277.27 L274.70,270.45 L275.20,272.83 L275.70,277.65 L276.20,276.13 L276.70,271.33 L277.20,266.18 L277.70,273.18 L278.20,267.33 L278.70,271.14 L279.20,265.01 L279.70,275.52 L280.20,270.20 L280.70,265.17 L281.20,273.54 L281.70,274.07 L282.20,277.14 L282.70,275.58 L283.20,275.98 L283.70,274.62 L284.20,281.21 L284.70,280.54 L285.20,282.40 L285.70,280.87 L286.20,281.19 L286.70,284.15 L287.20,287.24 L287.70,286.51 L288.20,286.19 L288.70,287.62 L289.20,289.52 L289.70,289.29 L290.20,289.90 L290.70,290.56 L291.20,291.21 L291.70,291.70 L292.20,291.80 L292.70,291.80 L293.20,291.80 L293.70,291.80 L294.20,291.80 L294.70,291.80 L295.20,291.80 L295.70,291.80 L296.20,291.80 L296.70,291.80 L297.20,291.80 L297.70,291.80 L298.20,291.80 L298.70,291.80 L299.20,291.80 L299.70,291.80 L300.20,291.80 L300.70,291.80 L301.20,291.80 L301.70,291.80 L302.20,291.80 L302.70,291.80 L303.20,291.80 L303.70,291.80 L304.20,291.80 L304.70,291.80 L305.20,291.80 L305.70,291.80 L306.20,291.80 L306.70,291.80 L307.20,291.80 L307.70,291.80 L308.20,291.80 L308.70,291.80 L309.20,291.80 L309.70,291.80 L310.20,291.80" fill="none" stroke="#000" stroke-width="1.0" stroke-linejoin="round"/>
<rect x="251.10" y="245.40" width="59.90" height="47.10" fill="none" stroke="#555" stroke-width="0.9"/>
<path d="M251.10,245.40 V292.50 H311.00" fill="none" stroke="#2a2a2a" stroke-width="1.1"/>
<line x1="249.30" y1="292.50" x2="251.10" y2="292.50" stroke="#666" stroke-width="0.7"/>
<line x1="249.30" y1="280.73" x2="251.10" y2="280.73" stroke="#666" stroke-width="0.7"/>
<line x1="249.30" y1="268.95" x2="251.10" y2="268.95" stroke="#666" stroke-width="0.7"/>
<line x1="249.30" y1="257.18" x2="251.10" y2="257.18" stroke="#666" stroke-width="0.7"/>
<line x1="249.30" y1="245.40" x2="251.10" y2="245.40" stroke="#666" stroke-width="0.7"/>
<line x1="250.20" y1="292.50" x2="251.10" y2="292.50" stroke="#999" stroke-width="0.4"/>
<line x1="250.20" y1="289.56" x2="251.10" y2="289.56" stroke="#999" stroke-width="0.4"/>
<line x1="250.20" y1="286.61" x2="251.10" y2="286.61" stroke="#999" stroke-width="0.4"/>
<line x1="250.20" y1="283.67" x2="251.10" y2="283.67" stroke="#999" stroke-width="0.4"/>
<line x1="250.20" y1="280.73" x2="251.10" y2="280.73" stroke="#999" stroke-width="0.4"/>
<line x1="250.20" y1="277.78" x2="251.10" y2="277.78" stroke="#999" stroke-width="0.4"/>
<line x1="250.20" y1="274.84" x2="251.10" y2="274.84" stroke="#999" stroke-width="0.4"/>
<line x1="250.20" y1="271.89" x2="251.10" y2="271.89" stroke="#999" stroke-width="0.4"/>
<line x1="250.20" y1="268.95" x2="251.10" y2="268.95" stroke="#999" stroke-width="0.4"/>
<line x1="250.20" y1="266.01" x2="251.10" y2="266.01" stroke="#999" stroke-width="0.4"/>
<line x1="250.20" y1="263.06" x2="251.10" y2="263.06" stroke="#999" stroke-width="0.4"/>
<line x1="250.20" y1="260.12" x2="251.10" y2="260.12" stroke="#999" stroke-width="0.4"/>
<line x1="250.20" y1="257.18" x2="251.10" y2="257.18" stroke="#999" stroke-width="0.4"/>
<line x1="250.20" y1="254.23" x2="251.10" y2="254.23" stroke="#999" stroke-width="0.4"/>
<line x1="250.20" y1="251.29" x2="251.10" y2="251.29" stroke="#999" stroke-width="0.4"/>
<line x1="250.20" y1="248.34" x2="251.10" y2="248.34" stroke="#999" stroke-width="0.4"/>
<line x1="250.20" y1="245.40" x2="251.10" y2="245.40" stroke="#999" stroke-width="0.4"/>
<text x="248.00" y="293.85" font-size="3.8" text-anchor="end" font-weight="normal" fill="#4a4a4a">0</text>
<text x="248.00" y="282.08" font-size="3.8" text-anchor="end" font-weight="normal" fill="#4a4a4a">8</text>
<text x="248.00" y="270.30" font-size="3.8" text-anchor="end" font-weight="normal" fill="#4a4a4a">16</text>
<text x="248.00" y="258.53" font-size="3.8" text-anchor="end" font-weight="normal" fill="#4a4a4a">24</text>
<text x="248.00" y="246.75" font-size="3.8" text-anchor="end" font-weight="normal" fill="#4a4a4a">32</text>
<text x="243.20" y="268.95" font-size="4.4" text-anchor="middle" font-weight="normal" fill="#444" transform="rotate(-90 243.20 268.95)">Count</text>
<text x="254.99" y="299.70" font-size="4.0" text-anchor="middle" font-weight="normal" fill="#4a4a4a" textLength="16.5" lengthAdjust="spacingAndGlyphs">-10²10¹10²</text>
<line x1="284.05" y1="292.50" x2="284.05" y2="294.00" stroke="#666" stroke-width="0.6"/>
<text x="284.05" y="299.70" font-size="4.0" text-anchor="middle" font-weight="normal" fill="#4a4a4a">10³</text>
<line x1="298.72" y1="292.50" x2="298.72" y2="294.00" stroke="#666" stroke-width="0.6"/>
<text x="298.72" y="299.70" font-size="4.0" text-anchor="middle" font-weight="normal" fill="#4a4a4a">10⁴</text>
<line x1="309.20" y1="292.50" x2="309.20" y2="294.00" stroke="#666" stroke-width="0.6"/>
<text x="309.20" y="299.70" font-size="4.0" text-anchor="middle" font-weight="normal" fill="#4a4a4a">10⁵</text>
<text x="281.05" y="305.31" font-size="4.4" text-anchor="middle" font-weight="normal" fill="#444">CD86</text>
<path d="M331.00,292.18 L331.50,292.13 L332.00,291.96 L332.50,291.42 L333.00,290.02 L333.50,286.99 L334.00,281.45 L334.50,273.06 L335.00,262.80 L335.50,253.24 L336.00,247.64 L336.50,247.79 L337.00,252.08 L337.50,259.10 L338.00,267.07 L338.50,274.37 L339.00,280.07 L339.50,284.00 L340.00,286.52 L340.50,288.15 L341.00,289.30 L341.50,290.19 L342.00,290.90 L342.50,291.43 L343.00,291.79 L343.50,292.00 L344.00,292.11 L344.50,292.17 L345.00,292.19 L345.50,292.20 L346.00,292.20 L346.50,292.20 L347.00,292.20 L347.50,292.20 L348.00,292.20 L348.50,292.20 L349.00,292.20 L349.50,292.20 L350.00,292.20 L350.50,292.20 L351.00,292.20 L351.50,292.20 L352.00,292.20 L352.50,292.20 L353.00,292.20 L353.50,292.20 L354.00,292.20 L354.50,292.20 L355.00,292.20 L355.50,292.20 L356.00,292.20 L356.50,292.20 L357.00,292.20 L357.50,292.20 L358.00,292.20 L358.50,292.20 L359.00,292.20 L359.50,292.20 L360.00,292.20 L360.50,292.20 L361.00,292.20 L361.50,292.20 L362.00,292.20 L362.50,292.20 L363.00,292.20 L363.50,292.20 L364.00,292.20 L364.50,292.20 L365.00,292.20 L365.50,292.20 L366.00,292.20 L366.50,292.20 L367.00,292.20 L367.50,292.20 L368.00,292.20 L368.50,292.20 L369.00,292.20 L369.50,292.20 L370.00,292.20 L370.50,292.20 L371.00,292.20 L371.50,292.20 L372.00,292.20 L372.50,292.20 L373.00,292.20 L373.50,292.20 L374.00,292.20 L374.50,292.20 L375.00,292.20 L375.50,292.20 L376.00,292.20 L376.50,292.20 L377.00,292.20 L377.50,292.20 L378.00,292.20 L378.50,292.20 L379.00,292.20 L379.50,292.20 L380.00,292.20 L380.50,292.20 L381.00,292.20 L381.50,292.20 L382.00,292.20 L382.50,292.20 L383.00,292.20 L383.50,292.20 L384.00,292.20 L384.50,292.20 L385.00,292.20 L385.50,292.20 L386.00,292.20 L386.50,292.20 L387.00,292.20" fill="none" stroke="#bbb" stroke-width="1.1" stroke-linejoin="round"/>
<path d="M331.00,291.95 L331.50,291.44 L332.00,291.19 L332.50,290.93 L333.00,290.13 L333.50,289.28 L334.00,288.44 L334.50,288.14 L335.00,287.93 L335.50,287.53 L336.00,286.70 L336.50,286.00 L337.00,285.85 L337.50,285.78 L338.00,285.09 L338.50,284.02 L339.00,283.68 L339.50,283.47 L340.00,282.86 L340.50,281.93 L341.00,281.16 L341.50,281.26 L342.00,280.50 L342.50,280.59 L343.00,280.02 L343.50,280.50 L344.00,280.54 L344.50,280.46 L345.00,280.52 L345.50,280.22 L346.00,280.44 L346.50,281.15 L347.00,281.18 L347.50,282.01 L348.00,282.39 L348.50,282.43 L349.00,282.29 L349.50,282.49 L350.00,283.25 L350.50,283.56 L351.00,283.25 L351.50,283.61 L352.00,283.46 L352.50,284.02 L353.00,284.31 L353.50,284.77 L354.00,284.79 L354.50,285.02 L355.00,285.15 L355.50,285.13 L356.00,285.78 L356.50,285.89 L357.00,286.45 L357.50,286.47 L358.00,286.63 L358.50,286.55 L359.00,287.02 L359.50,287.18 L360.00,287.62 L360.50,287.92 L361.00,288.32 L361.50,288.74 L362.00,289.05 L362.50,289.14 L363.00,289.25 L363.50,289.60 L364.00,290.14 L364.50,290.56 L365.00,290.68 L365.50,290.85 L366.00,291.27 L366.50,291.69 L367.00,291.98 L367.50,292.01 L368.00,292.09 L368.50,292.16 L369.00,292.20 L369.50,292.20 L370.00,292.20 L370.50,292.20 L371.00,292.20 L371.50,292.20 L372.00,292.20 L372.50,292.20 L373.00,292.20 L373.50,292.20 L374.00,292.20 L374.50,292.20 L375.00,292.20 L375.50,292.20 L376.00,292.20 L376.50,292.20 L377.00,292.20 L377.50,292.20 L378.00,292.20 L378.50,292.20 L379.00,292.20 L379.50,292.20 L380.00,292.20 L380.50,292.20 L381.00,292.20 L381.50,292.20 L382.00,292.20 L382.50,292.20 L383.00,292.20 L383.50,292.20 L384.00,292.20 L384.50,292.20 L385.00,292.20 L385.50,292.20 L386.00,292.20 L386.50,292.20 L387.00,292.20" fill="none" stroke="#000" stroke-width="1.3" stroke-linejoin="round"/>
<rect x="330.40" y="245.40" width="57.40" height="47.50" fill="none" stroke="#555" stroke-width="0.9"/>
<path d="M330.40,245.40 V292.90 H387.80" fill="none" stroke="#2a2a2a" stroke-width="1.1"/>
<line x1="328.60" y1="292.90" x2="330.40" y2="292.90" stroke="#666" stroke-width="0.7"/>
<line x1="328.60" y1="281.02" x2="330.40" y2="281.02" stroke="#666" stroke-width="0.7"/>
<line x1="328.60" y1="269.15" x2="330.40" y2="269.15" stroke="#666" stroke-width="0.7"/>
<line x1="328.60" y1="257.27" x2="330.40" y2="257.27" stroke="#666" stroke-width="0.7"/>
<line x1="328.60" y1="245.40" x2="330.40" y2="245.40" stroke="#666" stroke-width="0.7"/>
<line x1="329.50" y1="292.90" x2="330.40" y2="292.90" stroke="#999" stroke-width="0.4"/>
<line x1="329.50" y1="289.93" x2="330.40" y2="289.93" stroke="#999" stroke-width="0.4"/>
<line x1="329.50" y1="286.96" x2="330.40" y2="286.96" stroke="#999" stroke-width="0.4"/>
<line x1="329.50" y1="283.99" x2="330.40" y2="283.99" stroke="#999" stroke-width="0.4"/>
<line x1="329.50" y1="281.02" x2="330.40" y2="281.02" stroke="#999" stroke-width="0.4"/>
<line x1="329.50" y1="278.06" x2="330.40" y2="278.06" stroke="#999" stroke-width="0.4"/>
<line x1="329.50" y1="275.09" x2="330.40" y2="275.09" stroke="#999" stroke-width="0.4"/>
<line x1="329.50" y1="272.12" x2="330.40" y2="272.12" stroke="#999" stroke-width="0.4"/>
<line x1="329.50" y1="269.15" x2="330.40" y2="269.15" stroke="#999" stroke-width="0.4"/>
<line x1="329.50" y1="266.18" x2="330.40" y2="266.18" stroke="#999" stroke-width="0.4"/>
<line x1="329.50" y1="263.21" x2="330.40" y2="263.21" stroke="#999" stroke-width="0.4"/>
<line x1="329.50" y1="260.24" x2="330.40" y2="260.24" stroke="#999" stroke-width="0.4"/>
<line x1="329.50" y1="257.27" x2="330.40" y2="257.27" stroke="#999" stroke-width="0.4"/>
<line x1="329.50" y1="254.31" x2="330.40" y2="254.31" stroke="#999" stroke-width="0.4"/>
<line x1="329.50" y1="251.34" x2="330.40" y2="251.34" stroke="#999" stroke-width="0.4"/>
<line x1="329.50" y1="248.37" x2="330.40" y2="248.37" stroke="#999" stroke-width="0.4"/>
<line x1="329.50" y1="245.40" x2="330.40" y2="245.40" stroke="#999" stroke-width="0.4"/>
<text x="327.30" y="294.25" font-size="3.8" text-anchor="end" font-weight="normal" fill="#4a4a4a">0</text>
<text x="327.30" y="282.38" font-size="3.8" text-anchor="end" font-weight="normal" fill="#4a4a4a">380</text>
<text x="327.30" y="270.50" font-size="3.8" text-anchor="end" font-weight="normal" fill="#4a4a4a">761</text>
<text x="327.30" y="258.62" font-size="3.8" text-anchor="end" font-weight="normal" fill="#4a4a4a">1141</text>
<text x="327.30" y="246.75" font-size="3.8" text-anchor="end" font-weight="normal" fill="#4a4a4a">1521</text>
<text x="317.60" y="269.15" font-size="4.4" text-anchor="middle" font-weight="normal" fill="#444" transform="rotate(-90 317.60 269.15)">Count</text>
<text x="334.13" y="300.10" font-size="4.0" text-anchor="middle" font-weight="normal" fill="#4a4a4a" textLength="16.5" lengthAdjust="spacingAndGlyphs">-10²10¹10²</text>
<line x1="361.97" y1="292.90" x2="361.97" y2="294.40" stroke="#666" stroke-width="0.6"/>
<text x="361.97" y="300.10" font-size="4.0" text-anchor="middle" font-weight="normal" fill="#4a4a4a">10³</text>
<line x1="376.03" y1="292.90" x2="376.03" y2="294.40" stroke="#666" stroke-width="0.6"/>
<text x="376.03" y="300.10" font-size="4.0" text-anchor="middle" font-weight="normal" fill="#4a4a4a">10⁴</text>
<line x1="386.08" y1="292.90" x2="386.08" y2="294.40" stroke="#666" stroke-width="0.6"/>
<text x="386.08" y="300.10" font-size="4.0" text-anchor="middle" font-weight="normal" fill="#4a4a4a">10⁵</text>
<text x="359.10" y="305.71" font-size="4.4" text-anchor="middle" font-weight="normal" fill="#444">CD86</text>
<path d="M37.90,388.78 L38.40,388.63 L38.90,388.46 L39.40,388.27 L39.90,388.06 L40.40,387.84 L40.90,387.60 L41.40,387.36 L41.90,387.12 L42.40,386.88 L42.90,386.65 L43.40,386.43 L43.90,386.22 L44.40,386.02 L44.90,385.82 L45.40,385.62 L45.90,385.43 L46.40,385.22 L46.90,384.96 L47.40,384.61 L47.90,384.13 L48.40,383.48 L48.90,382.62 L49.40,381.53 L49.90,380.19 L50.40,378.60 L50.90,376.74 L51.40,374.66 L51.90,372.37 L52.40,369.93 L52.90,367.39 L53.40,364.82 L53.90,362.30 L54.40,359.90 L54.90,357.72 L55.40,355.83 L55.90,354.31 L56.40,353.20 L56.90,352.56 L57.40,352.42 L57.90,353.01 L58.40,354.40 L58.90,356.50 L59.40,359.18 L59.90,362.27 L60.40,365.60 L60.90,368.99 L61.40,372.30 L61.90,375.40 L62.40,378.19 L62.90,380.63 L63.40,382.70 L63.90,384.39 L64.40,385.74 L64.90,386.79 L65.40,387.58 L65.90,388.16 L66.40,388.57 L66.90,388.86 L67.40,389.06 L67.90,389.19 L68.40,389.27 L68.90,389.32 L69.40,389.36 L69.90,389.37 L70.40,389.39 L70.90,389.39 L71.40,389.40 L71.90,389.40 L72.40,389.40 L72.90,389.40 L73.40,389.40 L73.90,389.40 L74.40,389.40 L74.90,389.40 L75.40,389.40 L75.90,389.40 L76.40,389.40 L76.90,389.40 L77.40,389.40 L77.90,389.40 L78.40,389.40 L78.90,389.40 L79.40,389.40 L79.90,389.40 L80.40,389.40 L80.90,389.40 L81.40,389.40 L81.90,389.40 L82.40,389.40 L82.90,389.40 L83.40,389.40 L83.90,389.40 L84.40,389.40 L84.90,389.40 L85.40,389.40 L85.90,389.40 L86.40,389.40 L86.90,389.40 L87.40,389.40 L87.90,389.40 L88.40,389.40 L88.90,389.40 L89.40,389.40 L89.90,389.40 L90.40,389.40 L90.90,389.40 L91.40,389.40 L91.90,389.40 L92.40,389.40 L92.90,389.40 L93.40,389.40 L93.90,389.40 L94.40,389.40 L94.90,389.40 L95.40,389.40 L95.90,389.40 L96.40,389.40 L96.90,389.40" fill="none" stroke="#888" stroke-width="1.1" stroke-linejoin="round"/>
<path d="M37.90,388.76 L38.40,388.60 L38.90,388.49 L39.40,388.29 L39.90,388.03 L40.40,387.81 L40.90,387.67 L41.40,387.36 L41.90,387.17 L42.40,386.89 L42.90,386.74 L43.40,386.55 L43.90,386.10 L44.40,386.07 L44.90,385.71 L45.40,385.74 L45.90,385.43 L46.40,385.34 L46.90,384.98 L47.40,384.73 L47.90,384.05 L48.40,383.64 L48.90,382.49 L49.40,381.53 L49.90,380.48 L50.40,378.72 L50.90,376.75 L51.40,374.16 L51.90,372.58 L52.40,370.37 L52.90,366.56 L53.40,364.06 L53.90,361.79 L54.40,360.44 L54.90,358.54 L55.40,356.47 L55.90,355.51 L56.40,354.14 L56.90,349.50 L57.40,347.88 L57.90,351.25 L58.40,354.79 L58.90,358.02 L59.40,359.12 L59.90,362.48 L60.40,366.18 L60.90,369.67 L61.40,372.87 L61.90,375.72 L62.40,378.70 L62.90,381.26 L63.40,383.43 L63.90,385.05 L64.40,386.26 L64.90,387.11 L65.40,387.91 L65.90,388.41 L66.40,388.76 L66.90,389.00 L67.40,389.14 L67.90,389.25 L68.40,389.31 L68.90,389.35 L69.40,389.37 L69.90,389.38 L70.40,389.39 L70.90,389.40 L71.40,389.40 L71.90,389.40 L72.40,389.40 L72.90,389.40 L73.40,389.40 L73.90,389.40 L74.40,389.40 L74.90,389.40 L75.40,389.40 L75.90,389.40 L76.40,389.40 L76.90,389.40 L77.40,389.40 L77.90,389.40 L78.40,389.40 L78.90,389.40 L79.40,389.40 L79.90,389.40 L80.40,389.40 L80.90,389.40 L81.40,389.40 L81.90,389.40 L82.40,389.40 L82.90,389.40 L83.40,389.40 L83.90,389.40 L84.40,389.40 L84.90,389.40 L85.40,389.40 L85.90,389.40 L86.40,389.40 L86.90,389.40 L87.40,389.40 L87.90,389.40 L88.40,389.40 L88.90,389.40 L89.40,389.40 L89.90,389.40 L90.40,389.40 L90.90,389.40 L91.40,389.40 L91.90,389.40 L92.40,389.40 L92.90,389.40 L93.40,389.40 L93.90,389.40 L94.40,389.40 L94.90,389.40 L95.40,389.40 L95.90,389.40 L96.40,389.40 L96.90,389.40" fill="none" stroke="#000" stroke-width="1.2" stroke-linejoin="round"/>
<rect x="37.30" y="344.30" width="60.20" height="45.80" fill="none" stroke="#555" stroke-width="0.9"/>
<path d="M37.30,344.30 V390.10 H97.50" fill="none" stroke="#2a2a2a" stroke-width="1.1"/>
<line x1="35.50" y1="390.10" x2="37.30" y2="390.10" stroke="#666" stroke-width="0.7"/>
<line x1="35.50" y1="378.65" x2="37.30" y2="378.65" stroke="#666" stroke-width="0.7"/>
<line x1="35.50" y1="367.20" x2="37.30" y2="367.20" stroke="#666" stroke-width="0.7"/>
<line x1="35.50" y1="355.75" x2="37.30" y2="355.75" stroke="#666" stroke-width="0.7"/>
<line x1="35.50" y1="344.30" x2="37.30" y2="344.30" stroke="#666" stroke-width="0.7"/>
<line x1="36.40" y1="390.10" x2="37.30" y2="390.10" stroke="#999" stroke-width="0.4"/>
<line x1="36.40" y1="387.24" x2="37.30" y2="387.24" stroke="#999" stroke-width="0.4"/>
<line x1="36.40" y1="384.38" x2="37.30" y2="384.38" stroke="#999" stroke-width="0.4"/>
<line x1="36.40" y1="381.51" x2="37.30" y2="381.51" stroke="#999" stroke-width="0.4"/>
<line x1="36.40" y1="378.65" x2="37.30" y2="378.65" stroke="#999" stroke-width="0.4"/>
<line x1="36.40" y1="375.79" x2="37.30" y2="375.79" stroke="#999" stroke-width="0.4"/>
<line x1="36.40" y1="372.93" x2="37.30" y2="372.93" stroke="#999" stroke-width="0.4"/>
<line x1="36.40" y1="370.06" x2="37.30" y2="370.06" stroke="#999" stroke-width="0.4"/>
<line x1="36.40" y1="367.20" x2="37.30" y2="367.20" stroke="#999" stroke-width="0.4"/>
<line x1="36.40" y1="364.34" x2="37.30" y2="364.34" stroke="#999" stroke-width="0.4"/>
<line x1="36.40" y1="361.48" x2="37.30" y2="361.48" stroke="#999" stroke-width="0.4"/>
<line x1="36.40" y1="358.61" x2="37.30" y2="358.61" stroke="#999" stroke-width="0.4"/>
<line x1="36.40" y1="355.75" x2="37.30" y2="355.75" stroke="#999" stroke-width="0.4"/>
<line x1="36.40" y1="352.89" x2="37.30" y2="352.89" stroke="#999" stroke-width="0.4"/>
<line x1="36.40" y1="350.03" x2="37.30" y2="350.03" stroke="#999" stroke-width="0.4"/>
<line x1="36.40" y1="347.16" x2="37.30" y2="347.16" stroke="#999" stroke-width="0.4"/>
<line x1="36.40" y1="344.30" x2="37.30" y2="344.30" stroke="#999" stroke-width="0.4"/>
<text x="34.20" y="391.45" font-size="3.8" text-anchor="end" font-weight="normal" fill="#4a4a4a">0</text>
<text x="34.20" y="380.00" font-size="3.8" text-anchor="end" font-weight="normal" fill="#4a4a4a">3</text>
<text x="34.20" y="368.55" font-size="3.8" text-anchor="end" font-weight="normal" fill="#4a4a4a">5</text>
<text x="34.20" y="357.10" font-size="3.8" text-anchor="end" font-weight="normal" fill="#4a4a4a">8</text>
<text x="34.20" y="345.65" font-size="3.8" text-anchor="end" font-weight="normal" fill="#4a4a4a">10</text>
<text x="29.40" y="367.20" font-size="4.4" text-anchor="middle" font-weight="normal" fill="#444" transform="rotate(-90 29.40 367.20)">Count</text>
<text x="39.00" y="397.40" font-size="3.5" text-anchor="middle" font-weight="normal" fill="#666" transform="rotate(-45 39.00 397.40)">10⁰</text>
<text x="50.44" y="397.40" font-size="3.5" text-anchor="middle" font-weight="normal" fill="#666" transform="rotate(-45 50.44 397.40)">10¹</text>
<line x1="60.78" y1="390.10" x2="60.78" y2="391.60" stroke="#666" stroke-width="0.6"/>
<text x="62.48" y="397.40" font-size="3.5" text-anchor="middle" font-weight="normal" fill="#666" transform="rotate(-45 62.48 397.40)">10²</text>
<line x1="72.82" y1="390.10" x2="72.82" y2="391.60" stroke="#666" stroke-width="0.6"/>
<text x="74.52" y="397.40" font-size="3.5" text-anchor="middle" font-weight="normal" fill="#666" transform="rotate(-45 74.52 397.40)">10³</text>
<line x1="84.56" y1="390.10" x2="84.56" y2="391.60" stroke="#666" stroke-width="0.6"/>
<text x="86.26" y="397.40" font-size="3.5" text-anchor="middle" font-weight="normal" fill="#666" transform="rotate(-45 86.26 397.40)">10⁴</text>
<line x1="96.00" y1="390.10" x2="96.00" y2="391.60" stroke="#666" stroke-width="0.6"/>
<text x="97.70" y="397.40" font-size="3.5" text-anchor="middle" font-weight="normal" fill="#666" transform="rotate(-45 97.70 397.40)">10⁵</text>
<text x="67.40" y="402.91" font-size="4.4" text-anchor="middle" font-weight="normal" fill="#444">APC-Cy7-A</text>
<path d="M118.90,389.19 L119.40,389.19 L119.90,389.18 L120.40,389.17 L120.90,389.16 L121.40,389.15 L121.90,389.13 L122.40,389.10 L122.90,389.06 L123.40,389.02 L123.90,388.97 L124.40,388.90 L124.90,388.83 L125.40,388.74 L125.90,388.64 L126.40,388.52 L126.90,388.40 L127.40,388.27 L127.90,388.13 L128.40,387.98 L128.90,387.84 L129.40,387.70 L129.90,387.56 L130.40,387.42 L130.90,387.28 L131.40,387.14 L131.90,386.97 L132.40,386.77 L132.90,386.52 L133.40,386.21 L133.90,385.79 L134.40,385.20 L134.90,384.42 L135.40,383.38 L135.90,382.06 L136.40,380.42 L136.90,378.45 L137.40,376.16 L137.90,373.59 L138.40,370.79 L138.90,367.84 L139.40,364.86 L139.90,361.97 L140.40,359.30 L140.90,356.98 L141.40,355.13 L141.90,353.87 L142.40,353.25 L142.90,353.38 L143.40,354.46 L143.90,356.43 L144.40,359.13 L144.90,362.37 L145.40,365.91 L145.90,369.54 L146.40,373.06 L146.90,376.31 L147.40,379.19 L147.90,381.64 L148.40,383.65 L148.90,385.23 L149.40,386.44 L149.90,387.34 L150.40,387.97 L150.90,388.42 L151.40,388.71 L151.90,388.91 L152.40,389.03 L152.90,389.10 L153.40,389.14 L153.90,389.17 L154.40,389.18 L154.90,389.19 L155.40,389.20 L155.90,389.20 L156.40,389.20 L156.90,389.20 L157.40,389.20 L157.90,389.20 L158.40,389.20 L158.90,389.20 L159.40,389.20 L159.90,389.20 L160.40,389.20 L160.90,389.20 L161.40,389.20 L161.90,389.20 L162.40,389.20 L162.90,389.20 L163.40,389.20 L163.90,389.20 L164.40,389.20 L164.90,389.20 L165.40,389.20 L165.90,389.20 L166.40,389.20 L166.90,389.20 L167.40,389.20 L167.90,389.20 L168.40,389.20 L168.90,389.20 L169.40,389.20 L169.90,389.20 L170.40,389.20 L170.90,389.20 L171.40,389.20 L171.90,389.20 L172.40,389.20 L172.90,389.20 L173.40,389.20 L173.90,389.20 L174.40,389.20 L174.90,389.20 L175.40,389.20 L175.90,389.20 L176.40,389.20 L176.90,389.20" fill="none" stroke="#888" stroke-width="1.1" stroke-linejoin="round"/>
<path d="M118.90,389.19 L119.40,389.19 L119.90,389.18 L120.40,389.17 L120.90,389.16 L121.40,389.15 L121.90,389.13 L122.40,389.10 L122.90,389.07 L123.40,389.02 L123.90,388.96 L124.40,388.90 L124.90,388.83 L125.40,388.75 L125.90,388.64 L126.40,388.50 L126.90,388.39 L127.40,388.27 L127.90,388.13 L128.40,387.96 L128.90,387.81 L129.40,387.74 L129.90,387.54 L130.40,387.44 L130.90,387.28 L131.40,387.18 L131.90,386.99 L132.40,386.80 L132.90,386.55 L133.40,386.33 L133.90,385.87 L134.40,385.18 L134.90,384.59 L135.40,383.53 L135.90,381.93 L136.40,380.57 L136.90,378.60 L137.40,376.43 L137.90,373.17 L138.40,371.39 L138.90,367.61 L139.40,364.16 L139.90,362.62 L140.40,359.48 L140.90,356.22 L141.40,354.74 L141.90,352.95 L142.40,349.46 L142.90,349.05 L143.40,354.11 L143.90,356.06 L144.40,359.99 L144.90,363.11 L145.40,366.34 L145.90,369.89 L146.40,374.12 L146.90,377.32 L147.40,379.99 L147.90,382.19 L148.40,384.45 L148.90,385.67 L149.40,386.86 L149.90,387.70 L150.40,388.22 L150.90,388.61 L151.40,388.85 L151.90,388.99 L152.40,389.08 L152.90,389.13 L153.40,389.16 L153.90,389.18 L154.40,389.19 L154.90,389.20 L155.40,389.20 L155.90,389.20 L156.40,389.20 L156.90,389.20 L157.40,389.20 L157.90,389.20 L158.40,389.20 L158.90,389.20 L159.40,389.20 L159.90,389.20 L160.40,389.20 L160.90,389.20 L161.40,389.20 L161.90,389.20 L162.40,389.20 L162.90,389.20 L163.40,389.20 L163.90,389.20 L164.40,389.20 L164.90,389.20 L165.40,389.20 L165.90,389.20 L166.40,389.20 L166.90,389.20 L167.40,389.20 L167.90,389.20 L168.40,389.20 L168.90,389.20 L169.40,389.20 L169.90,389.20 L170.40,389.20 L170.90,389.20 L171.40,389.20 L171.90,389.20 L172.40,389.20 L172.90,389.20 L173.40,389.20 L173.90,389.20 L174.40,389.20 L174.90,389.20 L175.40,389.20 L175.90,389.20 L176.40,389.20 L176.90,389.20" fill="none" stroke="#000" stroke-width="1.2" stroke-linejoin="round"/>
<rect x="118.30" y="344.60" width="59.20" height="45.30" fill="none" stroke="#555" stroke-width="0.9"/>
<path d="M118.30,344.60 V389.90 H177.50" fill="none" stroke="#2a2a2a" stroke-width="1.1"/>
<line x1="116.50" y1="389.90" x2="118.30" y2="389.90" stroke="#666" stroke-width="0.7"/>
<line x1="116.50" y1="378.57" x2="118.30" y2="378.57" stroke="#666" stroke-width="0.7"/>
<line x1="116.50" y1="367.25" x2="118.30" y2="367.25" stroke="#666" stroke-width="0.7"/>
<line x1="116.50" y1="355.93" x2="118.30" y2="355.93" stroke="#666" stroke-width="0.7"/>
<line x1="116.50" y1="344.60" x2="118.30" y2="344.60" stroke="#666" stroke-width="0.7"/>
<line x1="117.40" y1="389.90" x2="118.30" y2="389.90" stroke="#999" stroke-width="0.4"/>
<line x1="117.40" y1="387.07" x2="118.30" y2="387.07" stroke="#999" stroke-width="0.4"/>
<line x1="117.40" y1="384.24" x2="118.30" y2="384.24" stroke="#999" stroke-width="0.4"/>
<line x1="117.40" y1="381.41" x2="118.30" y2="381.41" stroke="#999" stroke-width="0.4"/>
<line x1="117.40" y1="378.57" x2="118.30" y2="378.57" stroke="#999" stroke-width="0.4"/>
<line x1="117.40" y1="375.74" x2="118.30" y2="375.74" stroke="#999" stroke-width="0.4"/>
<line x1="117.40" y1="372.91" x2="118.30" y2="372.91" stroke="#999" stroke-width="0.4"/>
<line x1="117.40" y1="370.08" x2="118.30" y2="370.08" stroke="#999" stroke-width="0.4"/>
<line x1="117.40" y1="367.25" x2="118.30" y2="367.25" stroke="#999" stroke-width="0.4"/>
<line x1="117.40" y1="364.42" x2="118.30" y2="364.42" stroke="#999" stroke-width="0.4"/>
<line x1="117.40" y1="361.59" x2="118.30" y2="361.59" stroke="#999" stroke-width="0.4"/>
<line x1="117.40" y1="358.76" x2="118.30" y2="358.76" stroke="#999" stroke-width="0.4"/>
<line x1="117.40" y1="355.93" x2="118.30" y2="355.93" stroke="#999" stroke-width="0.4"/>
<line x1="117.40" y1="353.09" x2="118.30" y2="353.09" stroke="#999" stroke-width="0.4"/>
<line x1="117.40" y1="350.26" x2="118.30" y2="350.26" stroke="#999" stroke-width="0.4"/>
<line x1="117.40" y1="347.43" x2="118.30" y2="347.43" stroke="#999" stroke-width="0.4"/>
<line x1="117.40" y1="344.60" x2="118.30" y2="344.60" stroke="#999" stroke-width="0.4"/>
<text x="115.20" y="391.25" font-size="3.8" text-anchor="end" font-weight="normal" fill="#4a4a4a">0</text>
<text x="115.20" y="379.93" font-size="3.8" text-anchor="end" font-weight="normal" fill="#4a4a4a">3</text>
<text x="115.20" y="368.60" font-size="3.8" text-anchor="end" font-weight="normal" fill="#4a4a4a">5</text>
<text x="115.20" y="357.28" font-size="3.8" text-anchor="end" font-weight="normal" fill="#4a4a4a">8</text>
<text x="115.20" y="345.95" font-size="3.8" text-anchor="end" font-weight="normal" fill="#4a4a4a">10</text>
<text x="110.40" y="367.25" font-size="4.4" text-anchor="middle" font-weight="normal" fill="#444" transform="rotate(-90 110.40 367.25)">Count</text>
<text x="120.00" y="397.20" font-size="3.5" text-anchor="middle" font-weight="normal" fill="#666" transform="rotate(-45 120.00 397.20)">10⁰</text>
<text x="131.25" y="397.20" font-size="3.5" text-anchor="middle" font-weight="normal" fill="#666" transform="rotate(-45 131.25 397.20)">10¹</text>
<line x1="141.39" y1="389.90" x2="141.39" y2="391.40" stroke="#666" stroke-width="0.6"/>
<text x="143.09" y="397.20" font-size="3.5" text-anchor="middle" font-weight="normal" fill="#666" transform="rotate(-45 143.09 397.20)">10²</text>
<line x1="153.23" y1="389.90" x2="153.23" y2="391.40" stroke="#666" stroke-width="0.6"/>
<text x="154.93" y="397.20" font-size="3.5" text-anchor="middle" font-weight="normal" fill="#666" transform="rotate(-45 154.93 397.20)">10³</text>
<line x1="164.77" y1="389.90" x2="164.77" y2="391.40" stroke="#666" stroke-width="0.6"/>
<text x="166.47" y="397.20" font-size="3.5" text-anchor="middle" font-weight="normal" fill="#666" transform="rotate(-45 166.47 397.20)">10⁴</text>
<line x1="176.02" y1="389.90" x2="176.02" y2="391.40" stroke="#666" stroke-width="0.6"/>
<text x="177.72" y="397.20" font-size="3.5" text-anchor="middle" font-weight="normal" fill="#666" transform="rotate(-45 177.72 397.20)">10⁵</text>
<text x="147.90" y="402.71" font-size="4.4" text-anchor="middle" font-weight="normal" fill="#444">APC-Cy7-A</text>
<path d="M37.40,458.00 L37.90,457.99 L38.40,457.97 L38.90,457.93 L39.40,457.85 L39.90,457.69 L40.40,457.39 L40.90,456.93 L41.40,455.98 L41.90,454.18 L42.40,451.95 L42.90,448.76 L43.40,446.27 L43.90,442.34 L44.40,438.65 L44.90,432.19 L45.40,429.54 L45.90,426.80 L46.40,426.09 L46.90,426.43 L47.40,429.85 L47.90,430.49 L48.40,436.79 L48.90,437.12 L49.40,441.50 L49.90,445.47 L50.40,447.04 L50.90,448.97 L51.40,451.57 L51.90,453.62 L52.40,455.53 L52.90,456.70 L53.40,457.30 L53.90,457.71 L54.40,457.86 L54.90,457.94 L55.40,457.97 L55.90,457.99 L56.40,458.00 L56.90,458.00 L57.40,458.00 L57.90,458.00 L58.40,458.00 L58.90,458.00 L59.40,458.00 L59.90,458.00 L60.40,458.00 L60.90,458.00 L61.40,458.00 L61.90,458.00 L62.40,458.00 L62.90,458.00 L63.40,458.00 L63.90,458.00 L64.40,458.00 L64.90,458.00 L65.40,458.00 L65.90,458.00 L66.40,458.00 L66.90,458.00 L67.40,458.00 L67.90,458.00 L68.40,458.00 L68.90,458.00 L69.40,458.00 L69.90,458.00 L70.40,458.00 L70.90,458.00 L71.40,458.00 L71.90,458.00 L72.40,458.00 L72.90,458.00 L73.40,458.00 L73.90,458.00 L74.40,458.00 L74.90,458.00 L75.40,458.00 L75.90,458.00 L76.40,458.00 L76.90,458.00 L77.40,458.00 L77.90,458.00 L78.40,458.00 L78.90,458.00 L79.40,458.00 L79.90,458.00 L80.40,458.00 L80.90,458.00 L81.40,458.00 L81.90,458.00 L82.40,458.00 L82.90,458.00 L83.40,458.00 L83.90,458.00 L84.40,458.00 L84.90,458.00 L85.40,458.00 L85.90,458.00 L86.40,458.00 L86.90,458.00 L87.40,458.00 L87.90,458.00 L88.40,458.00 L88.90,458.00 L89.40,458.00 L89.90,458.00 L90.40,458.00 L90.90,458.00 L91.40,458.00 L91.90,458.00 L92.40,458.00 L92.90,458.00 L93.40,458.00 L93.90,458.00 L94.40,458.00 L94.90,458.00 L95.40,458.00 L95.90,458.00 L96.40,458.00 L96.90,458.00" fill="none" stroke="#888" stroke-width="1.1" stroke-linejoin="round"/>
<path d="M37.40,458.00 L37.90,457.99 L38.40,457.98 L38.90,457.95 L39.40,457.87 L39.90,457.77 L40.40,457.42 L40.90,457.00 L41.40,456.60 L41.90,455.27 L42.40,453.36 L42.90,451.49 L43.40,446.52 L43.90,445.54 L44.40,437.42 L44.90,437.28 L45.40,436.24 L45.90,423.94 L46.40,422.06 L46.90,422.75 L47.40,425.75 L47.90,430.09 L48.40,433.60 L48.90,439.64 L49.40,437.72 L49.90,443.30 L50.40,442.08 L50.90,446.87 L51.40,445.98 L51.90,448.04 L52.40,449.16 L52.90,450.05 L53.40,453.44 L53.90,455.16 L54.40,455.77 L54.90,456.93 L55.40,457.06 L55.90,457.18 L56.40,457.31 L56.90,457.38 L57.40,457.37 L57.90,457.08 L58.40,457.29 L58.90,457.13 L59.40,457.08 L59.90,457.20 L60.40,457.05 L60.90,457.15 L61.40,456.99 L61.90,457.00 L62.40,457.05 L62.90,457.12 L63.40,457.05 L63.90,457.13 L64.40,457.17 L64.90,457.14 L65.40,456.92 L65.90,457.07 L66.40,456.95 L66.90,457.29 L67.40,456.98 L67.90,457.16 L68.40,457.09 L68.90,457.19 L69.40,457.18 L69.90,457.35 L70.40,457.23 L70.90,457.42 L71.40,457.42 L71.90,457.50 L72.40,457.44 L72.90,457.44 L73.40,457.52 L73.90,457.43 L74.40,457.61 L74.90,457.55 L75.40,457.64 L75.90,457.60 L76.40,457.61 L76.90,457.64 L77.40,457.75 L77.90,457.75 L78.40,457.73 L78.90,457.71 L79.40,457.82 L79.90,457.79 L80.40,457.80 L80.90,457.81 L81.40,457.86 L81.90,457.84 L82.40,457.88 L82.90,457.87 L83.40,457.92 L83.90,457.89 L84.40,457.92 L84.90,457.93 L85.40,457.95 L85.90,457.95 L86.40,457.94 L86.90,457.95 L87.40,457.97 L87.90,457.97 L88.40,457.97 L88.90,457.98 L89.40,457.98 L89.90,457.98 L90.40,457.98 L90.90,457.98 L91.40,457.99 L91.90,457.99 L92.40,457.99 L92.90,457.99 L93.40,457.99 L93.90,457.99 L94.40,457.99 L94.90,458.00 L95.40,458.00 L95.90,458.00 L96.40,458.00 L96.90,458.00" fill="none" stroke="#000" stroke-width="1.1" stroke-linejoin="round"/>
<rect x="36.80" y="412.70" width="61.00" height="46.00" fill="none" stroke="#555" stroke-width="0.9"/>
<path d="M36.80,412.70 V458.70 H97.80" fill="none" stroke="#2a2a2a" stroke-width="1.1"/>
<line x1="35.00" y1="458.70" x2="36.80" y2="458.70" stroke="#666" stroke-width="0.7"/>
<line x1="35.00" y1="447.20" x2="36.80" y2="447.20" stroke="#666" stroke-width="0.7"/>
<line x1="35.00" y1="435.70" x2="36.80" y2="435.70" stroke="#666" stroke-width="0.7"/>
<line x1="35.00" y1="424.20" x2="36.80" y2="424.20" stroke="#666" stroke-width="0.7"/>
<line x1="35.00" y1="412.70" x2="36.80" y2="412.70" stroke="#666" stroke-width="0.7"/>
<line x1="35.90" y1="458.70" x2="36.80" y2="458.70" stroke="#999" stroke-width="0.4"/>
<line x1="35.90" y1="455.82" x2="36.80" y2="455.82" stroke="#999" stroke-width="0.4"/>
<line x1="35.90" y1="452.95" x2="36.80" y2="452.95" stroke="#999" stroke-width="0.4"/>
<line x1="35.90" y1="450.07" x2="36.80" y2="450.07" stroke="#999" stroke-width="0.4"/>
<line x1="35.90" y1="447.20" x2="36.80" y2="447.20" stroke="#999" stroke-width="0.4"/>
<line x1="35.90" y1="444.32" x2="36.80" y2="444.32" stroke="#999" stroke-width="0.4"/>
<line x1="35.90" y1="441.45" x2="36.80" y2="441.45" stroke="#999" stroke-width="0.4"/>
<line x1="35.90" y1="438.57" x2="36.80" y2="438.57" stroke="#999" stroke-width="0.4"/>
<line x1="35.90" y1="435.70" x2="36.80" y2="435.70" stroke="#999" stroke-width="0.4"/>
<line x1="35.90" y1="432.82" x2="36.80" y2="432.82" stroke="#999" stroke-width="0.4"/>
<line x1="35.90" y1="429.95" x2="36.80" y2="429.95" stroke="#999" stroke-width="0.4"/>
<line x1="35.90" y1="427.07" x2="36.80" y2="427.07" stroke="#999" stroke-width="0.4"/>
<line x1="35.90" y1="424.20" x2="36.80" y2="424.20" stroke="#999" stroke-width="0.4"/>
<line x1="35.90" y1="421.32" x2="36.80" y2="421.32" stroke="#999" stroke-width="0.4"/>
<line x1="35.90" y1="418.45" x2="36.80" y2="418.45" stroke="#999" stroke-width="0.4"/>
<line x1="35.90" y1="415.57" x2="36.80" y2="415.57" stroke="#999" stroke-width="0.4"/>
<line x1="35.90" y1="412.70" x2="36.80" y2="412.70" stroke="#999" stroke-width="0.4"/>
<text x="33.70" y="460.05" font-size="3.8" text-anchor="end" font-weight="normal" fill="#4a4a4a">0</text>
<text x="33.70" y="448.55" font-size="3.8" text-anchor="end" font-weight="normal" fill="#4a4a4a">15</text>
<text x="33.70" y="437.05" font-size="3.8" text-anchor="end" font-weight="normal" fill="#4a4a4a">30</text>
<text x="33.70" y="425.55" font-size="3.8" text-anchor="end" font-weight="normal" fill="#4a4a4a">45</text>
<text x="33.70" y="414.05" font-size="3.8" text-anchor="end" font-weight="normal" fill="#4a4a4a">61</text>
<text x="28.90" y="435.70" font-size="4.4" text-anchor="middle" font-weight="normal" fill="#444" transform="rotate(-90 28.90 435.70)">Count</text>
<text x="40.77" y="465.90" font-size="4.0" text-anchor="middle" font-weight="normal" fill="#4a4a4a" textLength="16.5" lengthAdjust="spacingAndGlyphs">-10²10¹10²</text>
<line x1="70.35" y1="458.70" x2="70.35" y2="460.20" stroke="#666" stroke-width="0.6"/>
<text x="70.35" y="465.90" font-size="4.0" text-anchor="middle" font-weight="normal" fill="#4a4a4a">10³</text>
<line x1="85.30" y1="458.70" x2="85.30" y2="460.20" stroke="#666" stroke-width="0.6"/>
<text x="85.30" y="465.90" font-size="4.0" text-anchor="middle" font-weight="normal" fill="#4a4a4a">10⁴</text>
<line x1="95.97" y1="458.70" x2="95.97" y2="460.20" stroke="#666" stroke-width="0.6"/>
<text x="95.97" y="465.90" font-size="4.0" text-anchor="middle" font-weight="normal" fill="#4a4a4a">10⁵</text>
<text x="67.30" y="471.51" font-size="4.4" text-anchor="middle" font-weight="normal" fill="#444">Ly6G</text>
<path d="M121.10,454.44 L121.60,452.02 L122.10,448.57 L122.60,444.02 L123.10,438.53 L123.60,432.53 L124.10,426.69 L124.60,421.85 L125.10,418.79 L125.60,418.04 L126.10,419.46 L126.60,422.70 L127.10,427.30 L127.60,432.64 L128.10,438.10 L128.60,443.18 L129.10,447.51 L129.60,450.96 L130.10,453.51 L130.60,455.28 L131.10,456.43 L131.60,457.14 L132.10,457.56 L132.60,457.78 L133.10,457.90 L133.60,457.95 L134.10,457.98 L134.60,457.99 L135.10,458.00 L135.60,458.00 L136.10,458.00 L136.60,458.00 L137.10,458.00 L137.60,458.00 L138.10,458.00 L138.60,458.00 L139.10,458.00 L139.60,458.00 L140.10,458.00 L140.60,458.00 L141.10,458.00 L141.60,458.00 L142.10,458.00 L142.60,458.00 L143.10,458.00 L143.60,458.00 L144.10,458.00 L144.60,458.00 L145.10,458.00 L145.60,458.00 L146.10,458.00 L146.60,458.00 L147.10,458.00 L147.60,458.00 L148.10,458.00 L148.60,458.00 L149.10,458.00 L149.60,458.00 L150.10,458.00 L150.60,458.00 L151.10,458.00 L151.60,458.00 L152.10,458.00 L152.60,458.00 L153.10,458.00 L153.60,458.00 L154.10,458.00 L154.60,458.00 L155.10,458.00 L155.60,458.00 L156.10,458.00 L156.60,458.00 L157.10,458.00 L157.60,458.00 L158.10,458.00 L158.60,458.00 L159.10,458.00 L159.60,458.00 L160.10,458.00 L160.60,458.00 L161.10,458.00 L161.60,458.00 L162.10,458.00 L162.60,458.00 L163.10,458.00 L163.60,458.00 L164.10,458.00 L164.60,458.00 L165.10,458.00 L165.60,458.00 L166.10,458.00 L166.60,458.00 L167.10,458.00 L167.60,458.00 L168.10,458.00 L168.60,458.00 L169.10,458.00 L169.60,458.00 L170.10,458.00 L170.60,458.00 L171.10,458.00 L171.60,458.00 L172.10,458.00 L172.60,458.00 L173.10,458.00 L173.60,458.00 L174.10,458.00 L174.60,458.00 L175.10,458.00 L175.60,458.00 L176.10,458.00" fill="none" stroke="#888" stroke-width="1.1" stroke-linejoin="round"/>
<path d="M121.10,455.16 L121.60,453.11 L122.10,450.08 L122.60,445.97 L123.10,440.82 L123.60,434.95 L124.10,428.95 L124.60,423.61 L125.10,419.76 L125.60,418.05 L126.10,418.51 L126.60,420.51 L127.10,423.80 L127.60,428.03 L128.10,432.77 L128.60,437.59 L129.10,442.14 L129.60,446.15 L130.10,449.50 L130.60,452.14 L131.10,454.12 L131.60,455.53 L132.10,456.49 L132.60,457.11 L133.10,457.50 L133.60,457.73 L134.10,457.86 L134.60,457.93 L135.10,457.97 L135.60,457.98 L136.10,457.99 L136.60,458.00 L137.10,458.00 L137.60,458.00 L138.10,458.00 L138.60,458.00 L139.10,458.00 L139.60,458.00 L140.10,458.00 L140.60,458.00 L141.10,458.00 L141.60,458.00 L142.10,458.00 L142.60,458.00 L143.10,458.00 L143.60,458.00 L144.10,458.00 L144.60,458.00 L145.10,458.00 L145.60,458.00 L146.10,458.00 L146.60,458.00 L147.10,458.00 L147.60,458.00 L148.10,458.00 L148.60,458.00 L149.10,458.00 L149.60,458.00 L150.10,458.00 L150.60,458.00 L151.10,458.00 L151.60,458.00 L152.10,458.00 L152.60,458.00 L153.10,458.00 L153.60,458.00 L154.10,458.00 L154.60,458.00 L155.10,458.00 L155.60,457.99 L156.10,457.99 L156.60,457.96 L157.10,457.92 L157.60,457.84 L158.10,457.69 L158.60,457.46 L159.10,457.13 L159.60,456.68 L160.10,456.17 L160.60,455.64 L161.10,455.18 L161.60,454.88 L162.10,454.80 L162.60,454.97 L163.10,455.35 L163.60,455.84 L164.10,456.38 L164.60,456.87 L165.10,457.27 L165.60,457.57 L166.10,457.76 L166.60,457.88 L167.10,457.94 L167.60,457.97 L168.10,457.99 L168.60,458.00 L169.10,458.00 L169.60,458.00 L170.10,458.00 L170.60,458.00 L171.10,458.00 L171.60,458.00 L172.10,458.00 L172.60,458.00 L173.10,458.00 L173.60,458.00 L174.10,458.00 L174.60,458.00 L175.10,458.00 L175.60,458.00 L176.10,458.00" fill="none" stroke="#000" stroke-width="1.1" stroke-linejoin="round"/>
<rect x="120.50" y="413.10" width="56.20" height="45.60" fill="none" stroke="#555" stroke-width="0.9"/>
<path d="M120.50,413.10 V458.70 H176.70" fill="none" stroke="#2a2a2a" stroke-width="1.1"/>
<line x1="118.70" y1="458.70" x2="120.50" y2="458.70" stroke="#666" stroke-width="0.7"/>
<line x1="118.70" y1="447.30" x2="120.50" y2="447.30" stroke="#666" stroke-width="0.7"/>
<line x1="118.70" y1="435.90" x2="120.50" y2="435.90" stroke="#666" stroke-width="0.7"/>
<line x1="118.70" y1="424.50" x2="120.50" y2="424.50" stroke="#666" stroke-width="0.7"/>
<line x1="118.70" y1="413.10" x2="120.50" y2="413.10" stroke="#666" stroke-width="0.7"/>
<line x1="119.60" y1="458.70" x2="120.50" y2="458.70" stroke="#999" stroke-width="0.4"/>
<line x1="119.60" y1="455.85" x2="120.50" y2="455.85" stroke="#999" stroke-width="0.4"/>
<line x1="119.60" y1="453.00" x2="120.50" y2="453.00" stroke="#999" stroke-width="0.4"/>
<line x1="119.60" y1="450.15" x2="120.50" y2="450.15" stroke="#999" stroke-width="0.4"/>
<line x1="119.60" y1="447.30" x2="120.50" y2="447.30" stroke="#999" stroke-width="0.4"/>
<line x1="119.60" y1="444.45" x2="120.50" y2="444.45" stroke="#999" stroke-width="0.4"/>
<line x1="119.60" y1="441.60" x2="120.50" y2="441.60" stroke="#999" stroke-width="0.4"/>
<line x1="119.60" y1="438.75" x2="120.50" y2="438.75" stroke="#999" stroke-width="0.4"/>
<line x1="119.60" y1="435.90" x2="120.50" y2="435.90" stroke="#999" stroke-width="0.4"/>
<line x1="119.60" y1="433.05" x2="120.50" y2="433.05" stroke="#999" stroke-width="0.4"/>
<line x1="119.60" y1="430.20" x2="120.50" y2="430.20" stroke="#999" stroke-width="0.4"/>
<line x1="119.60" y1="427.35" x2="120.50" y2="427.35" stroke="#999" stroke-width="0.4"/>
<line x1="119.60" y1="424.50" x2="120.50" y2="424.50" stroke="#999" stroke-width="0.4"/>
<line x1="119.60" y1="421.65" x2="120.50" y2="421.65" stroke="#999" stroke-width="0.4"/>
<line x1="119.60" y1="418.80" x2="120.50" y2="418.80" stroke="#999" stroke-width="0.4"/>
<line x1="119.60" y1="415.95" x2="120.50" y2="415.95" stroke="#999" stroke-width="0.4"/>
<line x1="119.60" y1="413.10" x2="120.50" y2="413.10" stroke="#999" stroke-width="0.4"/>
<text x="117.40" y="460.05" font-size="3.8" text-anchor="end" font-weight="normal" fill="#4a4a4a">0</text>
<text x="117.40" y="448.65" font-size="3.8" text-anchor="end" font-weight="normal" fill="#4a4a4a">508</text>
<text x="117.40" y="437.25" font-size="3.8" text-anchor="end" font-weight="normal" fill="#4a4a4a">1015</text>
<text x="117.40" y="425.85" font-size="3.8" text-anchor="end" font-weight="normal" fill="#4a4a4a">1523</text>
<text x="117.40" y="414.45" font-size="3.8" text-anchor="end" font-weight="normal" fill="#4a4a4a">2030</text>
<text x="107.70" y="435.90" font-size="4.4" text-anchor="middle" font-weight="normal" fill="#444" transform="rotate(-90 107.70 435.90)">Count</text>
<text x="124.15" y="465.90" font-size="4.0" text-anchor="middle" font-weight="normal" fill="#4a4a4a" textLength="16.5" lengthAdjust="spacingAndGlyphs">-10²10¹10²</text>
<line x1="151.41" y1="458.70" x2="151.41" y2="460.20" stroke="#666" stroke-width="0.6"/>
<text x="151.41" y="465.90" font-size="4.0" text-anchor="middle" font-weight="normal" fill="#4a4a4a">10³</text>
<line x1="165.18" y1="458.70" x2="165.18" y2="460.20" stroke="#666" stroke-width="0.6"/>
<text x="165.18" y="465.90" font-size="4.0" text-anchor="middle" font-weight="normal" fill="#4a4a4a">10⁴</text>
<line x1="175.01" y1="458.70" x2="175.01" y2="460.20" stroke="#666" stroke-width="0.6"/>
<text x="175.01" y="465.90" font-size="4.0" text-anchor="middle" font-weight="normal" fill="#4a4a4a">10⁵</text>
<text x="148.60" y="471.51" font-size="4.4" text-anchor="middle" font-weight="normal" fill="#444">Ly6G</text>
<path d="M210.60,389.78 L211.10,389.76 L211.60,389.70 L212.10,389.55 L212.60,389.32 L213.10,388.84 L213.60,388.27 L214.10,386.63 L214.60,384.39 L215.10,381.29 L215.60,377.44 L216.10,371.80 L216.60,365.56 L217.10,360.06 L217.60,354.74 L218.10,345.21 L218.60,344.00 L219.10,344.00 L219.60,344.34 L220.10,344.00 L220.60,345.77 L221.10,345.42 L221.60,357.32 L222.10,355.26 L222.60,361.78 L223.10,369.56 L223.60,371.22 L224.10,377.31 L224.60,380.45 L225.10,382.47 L225.60,384.84 L226.10,386.13 L226.60,387.07 L227.10,388.09 L227.60,388.70 L228.10,389.17 L228.60,389.38 L229.10,389.55 L229.60,389.66 L230.10,389.72 L230.60,389.76 L231.10,389.78 L231.60,389.79 L232.10,389.79 L232.60,389.80 L233.10,389.80 L233.60,389.80 L234.10,389.80 L234.60,389.80 L235.10,389.80 L235.60,389.80 L236.10,389.80 L236.60,389.80 L237.10,389.80 L237.60,389.80 L238.10,389.80 L238.60,389.80 L239.10,389.80 L239.60,389.80 L240.10,389.80 L240.60,389.80 L241.10,389.80 L241.60,389.80 L242.10,389.80 L242.60,389.80 L243.10,389.80 L243.60,389.80 L244.10,389.80 L244.60,389.80 L245.10,389.80 L245.60,389.80 L246.10,389.80 L246.60,389.80 L247.10,389.80 L247.60,389.80 L248.10,389.80 L248.60,389.80 L249.10,389.80 L249.60,389.80 L250.10,389.80 L250.60,389.80 L251.10,389.80 L251.60,389.80 L252.10,389.80 L252.60,389.80 L253.10,389.80 L253.60,389.80 L254.10,389.80 L254.60,389.80 L255.10,389.80 L255.60,389.80 L256.10,389.80 L256.60,389.80 L257.10,389.80 L257.60,389.80 L258.10,389.80 L258.60,389.80 L259.10,389.80 L259.60,389.80 L260.10,389.80 L260.60,389.80 L261.10,389.80 L261.60,389.80 L262.10,389.80 L262.60,389.80 L263.10,389.80 L263.60,389.80 L264.10,389.80 L264.60,389.80 L265.10,389.80 L265.60,389.80 L266.10,389.80 L266.60,389.80 L267.10,389.80 L267.60,389.80 L268.10,389.80 L268.60,389.80 L269.10,389.80 L269.60,389.80" fill="none" stroke="#999" stroke-width="1.3" stroke-linejoin="round"/>
<path d="M210.60,389.80 L211.10,389.80 L211.60,389.77 L212.10,389.03 L212.60,387.91 L213.10,386.72 L213.60,386.01 L214.10,384.71 L214.60,382.13 L215.10,383.15 L215.60,379.40 L216.10,379.33 L216.60,371.77 L217.10,371.14 L217.60,375.56 L218.10,367.60 L218.60,366.72 L219.10,372.21 L219.60,364.13 L220.10,356.50 L220.60,359.04 L221.10,366.49 L221.60,360.38 L222.10,367.95 L222.60,365.02 L223.10,368.37 L223.60,362.95 L224.10,367.99 L224.60,367.04 L225.10,371.19 L225.60,376.22 L226.10,371.79 L226.60,375.20 L227.10,377.43 L227.60,381.72 L228.10,383.08 L228.60,381.39 L229.10,381.71 L229.60,383.77 L230.10,386.30 L230.60,387.06 L231.10,386.37 L231.60,385.92 L232.10,387.53 L232.60,386.92 L233.10,388.01 L233.60,387.98 L234.10,388.34 L234.60,388.06 L235.10,388.00 L235.60,387.41 L236.10,387.52 L236.60,388.43 L237.10,388.40 L237.60,387.93 L238.10,388.67 L238.60,388.64 L239.10,388.60 L239.60,388.88 L240.10,388.77 L240.60,388.68 L241.10,388.69 L241.60,388.29 L242.10,388.80 L242.60,388.86 L243.10,388.41 L243.60,388.74 L244.10,388.52 L244.60,388.69 L245.10,388.64 L245.60,388.95 L246.10,389.07 L246.60,388.78 L247.10,388.97 L247.60,388.97 L248.10,388.96 L248.60,388.96 L249.10,389.20 L249.60,389.20 L250.10,389.02 L250.60,389.19 L251.10,389.30 L251.60,389.21 L252.10,389.35 L252.60,389.20 L253.10,389.43 L253.60,389.20 L254.10,389.28 L254.60,389.35 L255.10,389.18 L255.60,389.38 L256.10,389.40 L256.60,389.46 L257.10,389.34 L257.60,389.31 L258.10,389.35 L258.60,389.43 L259.10,389.37 L259.60,389.53 L260.10,389.51 L260.60,389.47 L261.10,389.44 L261.60,389.51 L262.10,389.52 L262.60,389.53 L263.10,389.59 L263.60,389.53 L264.10,389.57 L264.60,389.62 L265.10,389.61 L265.60,389.56 L266.10,389.62 L266.60,389.64 L267.10,389.56 L267.60,389.60 L268.10,389.60 L268.60,389.58 L269.10,389.55 L269.60,389.64" fill="none" stroke="#000" stroke-width="1.1" stroke-linejoin="round"/>
<rect x="210.00" y="343.70" width="60.30" height="46.80" fill="none" stroke="#555" stroke-width="0.9"/>
<path d="M210.00,343.70 V390.50 H270.30" fill="none" stroke="#2a2a2a" stroke-width="1.1"/>
<line x1="208.20" y1="390.50" x2="210.00" y2="390.50" stroke="#666" stroke-width="0.7"/>
<line x1="208.20" y1="378.80" x2="210.00" y2="378.80" stroke="#666" stroke-width="0.7"/>
<line x1="208.20" y1="367.10" x2="210.00" y2="367.10" stroke="#666" stroke-width="0.7"/>
<line x1="208.20" y1="355.40" x2="210.00" y2="355.40" stroke="#666" stroke-width="0.7"/>
<line x1="208.20" y1="343.70" x2="210.00" y2="343.70" stroke="#666" stroke-width="0.7"/>
<line x1="209.10" y1="390.50" x2="210.00" y2="390.50" stroke="#999" stroke-width="0.4"/>
<line x1="209.10" y1="387.57" x2="210.00" y2="387.57" stroke="#999" stroke-width="0.4"/>
<line x1="209.10" y1="384.65" x2="210.00" y2="384.65" stroke="#999" stroke-width="0.4"/>
<line x1="209.10" y1="381.73" x2="210.00" y2="381.73" stroke="#999" stroke-width="0.4"/>
<line x1="209.10" y1="378.80" x2="210.00" y2="378.80" stroke="#999" stroke-width="0.4"/>
<line x1="209.10" y1="375.88" x2="210.00" y2="375.88" stroke="#999" stroke-width="0.4"/>
<line x1="209.10" y1="372.95" x2="210.00" y2="372.95" stroke="#999" stroke-width="0.4"/>
<line x1="209.10" y1="370.02" x2="210.00" y2="370.02" stroke="#999" stroke-width="0.4"/>
<line x1="209.10" y1="367.10" x2="210.00" y2="367.10" stroke="#999" stroke-width="0.4"/>
<line x1="209.10" y1="364.18" x2="210.00" y2="364.18" stroke="#999" stroke-width="0.4"/>
<line x1="209.10" y1="361.25" x2="210.00" y2="361.25" stroke="#999" stroke-width="0.4"/>
<line x1="209.10" y1="358.32" x2="210.00" y2="358.32" stroke="#999" stroke-width="0.4"/>
<line x1="209.10" y1="355.40" x2="210.00" y2="355.40" stroke="#999" stroke-width="0.4"/>
<line x1="209.10" y1="352.48" x2="210.00" y2="352.48" stroke="#999" stroke-width="0.4"/>
<line x1="209.10" y1="349.55" x2="210.00" y2="349.55" stroke="#999" stroke-width="0.4"/>
<line x1="209.10" y1="346.62" x2="210.00" y2="346.62" stroke="#999" stroke-width="0.4"/>
<line x1="209.10" y1="343.70" x2="210.00" y2="343.70" stroke="#999" stroke-width="0.4"/>
<text x="206.90" y="391.85" font-size="3.8" text-anchor="end" font-weight="normal" fill="#4a4a4a">0</text>
<text x="206.90" y="380.15" font-size="3.8" text-anchor="end" font-weight="normal" fill="#4a4a4a">10</text>
<text x="206.90" y="368.45" font-size="3.8" text-anchor="end" font-weight="normal" fill="#4a4a4a">20</text>
<text x="206.90" y="356.75" font-size="3.8" text-anchor="end" font-weight="normal" fill="#4a4a4a">30</text>
<text x="206.90" y="345.05" font-size="3.8" text-anchor="end" font-weight="normal" fill="#4a4a4a">39</text>
<text x="202.10" y="367.10" font-size="4.4" text-anchor="middle" font-weight="normal" fill="#444" transform="rotate(-90 202.10 367.10)">Count</text>
<text x="213.92" y="397.70" font-size="4.0" text-anchor="middle" font-weight="normal" fill="#4a4a4a" textLength="16.5" lengthAdjust="spacingAndGlyphs">-10²10¹10²</text>
<line x1="243.17" y1="390.50" x2="243.17" y2="392.00" stroke="#666" stroke-width="0.6"/>
<text x="243.17" y="397.70" font-size="4.0" text-anchor="middle" font-weight="normal" fill="#4a4a4a">10³</text>
<line x1="257.94" y1="390.50" x2="257.94" y2="392.00" stroke="#666" stroke-width="0.6"/>
<text x="257.94" y="397.70" font-size="4.0" text-anchor="middle" font-weight="normal" fill="#4a4a4a">10⁴</text>
<line x1="268.49" y1="390.50" x2="268.49" y2="392.00" stroke="#666" stroke-width="0.6"/>
<text x="268.49" y="397.70" font-size="4.0" text-anchor="middle" font-weight="normal" fill="#4a4a4a">10⁵</text>
<text x="240.15" y="403.31" font-size="4.4" text-anchor="middle" font-weight="normal" fill="#444">Ly6C</text>
<path d="M292.90,389.75 L293.40,389.64 L293.90,389.35 L294.40,388.68 L294.90,387.27 L295.40,384.71 L295.90,380.62 L296.40,374.94 L296.90,367.33 L297.40,354.73 L297.90,344.00 L298.40,344.00 L298.90,352.84 L299.40,361.21 L299.90,366.62 L300.40,371.88 L300.90,376.86 L301.40,381.08 L301.90,384.32 L302.40,386.58 L302.90,388.04 L303.40,388.90 L303.90,389.37 L304.40,389.61 L304.90,389.72 L305.40,389.77 L305.90,389.79 L306.40,389.80 L306.90,389.80 L307.40,389.80 L307.90,389.80 L308.40,389.80 L308.90,389.80 L309.40,389.80 L309.90,389.80 L310.40,389.80 L310.90,389.80 L311.40,389.80 L311.90,389.80 L312.40,389.80 L312.90,389.80 L313.40,389.80 L313.90,389.80 L314.40,389.80 L314.90,389.80 L315.40,389.80 L315.90,389.80 L316.40,389.80 L316.90,389.80 L317.40,389.80 L317.90,389.80 L318.40,389.80 L318.90,389.80 L319.40,389.80 L319.90,389.80 L320.40,389.80 L320.90,389.80 L321.40,389.80 L321.90,389.80 L322.40,389.80 L322.90,389.80 L323.40,389.80 L323.90,389.80 L324.40,389.80 L324.90,389.80 L325.40,389.80 L325.90,389.80 L326.40,389.80 L326.90,389.80 L327.40,389.80 L327.90,389.80 L328.40,389.80 L328.90,389.80 L329.40,389.80 L329.90,389.80 L330.40,389.80 L330.90,389.80 L331.40,389.80 L331.90,389.80 L332.40,389.80 L332.90,389.80 L333.40,389.80 L333.90,389.80 L334.40,389.80 L334.90,389.80 L335.40,389.80 L335.90,389.80 L336.40,389.80 L336.90,389.80 L337.40,389.80 L337.90,389.80 L338.40,389.80 L338.90,389.80 L339.40,389.80 L339.90,389.80 L340.40,389.80 L340.90,389.80 L341.40,389.80 L341.90,389.80 L342.40,389.80 L342.90,389.80 L343.40,389.80 L343.90,389.80 L344.40,389.80 L344.90,389.80 L345.40,389.80 L345.90,389.80 L346.40,389.80 L346.90,389.80 L347.40,389.80" fill="none" stroke="#999" stroke-width="1.1" stroke-linejoin="round"/>
<path d="M292.90,389.46 L293.40,388.85 L293.90,387.65 L294.40,384.22 L294.90,381.71 L295.40,380.05 L295.90,375.19 L296.40,372.01 L296.90,370.20 L297.40,366.63 L297.90,364.29 L298.40,364.65 L298.90,365.03 L299.40,366.29 L299.90,366.95 L300.40,369.40 L300.90,371.80 L301.40,375.12 L301.90,376.14 L302.40,378.85 L302.90,380.57 L303.40,381.00 L303.90,381.85 L304.40,383.25 L304.90,383.61 L305.40,383.78 L305.90,384.34 L306.40,385.04 L306.90,385.41 L307.40,385.35 L307.90,385.57 L308.40,386.08 L308.90,386.44 L309.40,386.63 L309.90,386.71 L310.40,386.76 L310.90,387.00 L311.40,387.38 L311.90,387.76 L312.40,387.97 L312.90,388.14 L313.40,388.07 L313.90,388.13 L314.40,388.19 L314.90,388.16 L315.40,388.24 L315.90,388.27 L316.40,388.33 L316.90,388.34 L317.40,388.37 L317.90,388.39 L318.40,388.49 L318.90,388.45 L319.40,388.52 L319.90,388.52 L320.40,388.49 L320.90,388.50 L321.40,388.48 L321.90,388.43 L322.40,388.43 L322.90,388.35 L323.40,388.37 L323.90,388.29 L324.40,388.28 L324.90,388.30 L325.40,388.33 L325.90,388.19 L326.40,388.16 L326.90,387.98 L327.40,387.85 L327.90,387.78 L328.40,387.62 L328.90,387.57 L329.40,387.56 L329.90,387.50 L330.40,387.34 L330.90,387.18 L331.40,387.12 L331.90,386.94 L332.40,386.95 L332.90,387.18 L333.40,387.48 L333.90,387.91 L334.40,388.12 L334.90,388.33 L335.40,388.39 L335.90,388.72 L336.40,389.10 L336.90,389.41 L337.40,389.50 L337.90,389.54 L338.40,389.61 L338.90,389.70 L339.40,389.77 L339.90,389.80 L340.40,389.80 L340.90,389.80 L341.40,389.80 L341.90,389.80 L342.40,389.80 L342.90,389.80 L343.40,389.80 L343.90,389.80 L344.40,389.80 L344.90,389.80 L345.40,389.80 L345.90,389.80 L346.40,389.80 L346.90,389.80 L347.40,389.80" fill="none" stroke="#000" stroke-width="1.2" stroke-linejoin="round"/>
<rect x="292.30" y="343.70" width="56.20" height="46.80" fill="none" stroke="#555" stroke-width="0.9"/>
<path d="M292.30,343.70 V390.50 H348.50" fill="none" stroke="#2a2a2a" stroke-width="1.1"/>
<line x1="290.50" y1="390.50" x2="292.30" y2="390.50" stroke="#666" stroke-width="0.7"/>
<line x1="290.50" y1="378.80" x2="292.30" y2="378.80" stroke="#666" stroke-width="0.7"/>
<line x1="290.50" y1="367.10" x2="292.30" y2="367.10" stroke="#666" stroke-width="0.7"/>
<line x1="290.50" y1="355.40" x2="292.30" y2="355.40" stroke="#666" stroke-width="0.7"/>
<line x1="290.50" y1="343.70" x2="292.30" y2="343.70" stroke="#666" stroke-width="0.7"/>
<line x1="291.40" y1="390.50" x2="292.30" y2="390.50" stroke="#999" stroke-width="0.4"/>
<line x1="291.40" y1="387.57" x2="292.30" y2="387.57" stroke="#999" stroke-width="0.4"/>
<line x1="291.40" y1="384.65" x2="292.30" y2="384.65" stroke="#999" stroke-width="0.4"/>
<line x1="291.40" y1="381.73" x2="292.30" y2="381.73" stroke="#999" stroke-width="0.4"/>
<line x1="291.40" y1="378.80" x2="292.30" y2="378.80" stroke="#999" stroke-width="0.4"/>
<line x1="291.40" y1="375.88" x2="292.30" y2="375.88" stroke="#999" stroke-width="0.4"/>
<line x1="291.40" y1="372.95" x2="292.30" y2="372.95" stroke="#999" stroke-width="0.4"/>
<line x1="291.40" y1="370.02" x2="292.30" y2="370.02" stroke="#999" stroke-width="0.4"/>
<line x1="291.40" y1="367.10" x2="292.30" y2="367.10" stroke="#999" stroke-width="0.4"/>
<line x1="291.40" y1="364.18" x2="292.30" y2="364.18" stroke="#999" stroke-width="0.4"/>
<line x1="291.40" y1="361.25" x2="292.30" y2="361.25" stroke="#999" stroke-width="0.4"/>
<line x1="291.40" y1="358.32" x2="292.30" y2="358.32" stroke="#999" stroke-width="0.4"/>
<line x1="291.40" y1="355.40" x2="292.30" y2="355.40" stroke="#999" stroke-width="0.4"/>
<line x1="291.40" y1="352.48" x2="292.30" y2="352.48" stroke="#999" stroke-width="0.4"/>
<line x1="291.40" y1="349.55" x2="292.30" y2="349.55" stroke="#999" stroke-width="0.4"/>
<line x1="291.40" y1="346.62" x2="292.30" y2="346.62" stroke="#999" stroke-width="0.4"/>
<line x1="291.40" y1="343.70" x2="292.30" y2="343.70" stroke="#999" stroke-width="0.4"/>
<text x="289.20" y="391.85" font-size="3.8" text-anchor="end" font-weight="normal" fill="#4a4a4a">0</text>
<text x="289.20" y="380.15" font-size="3.8" text-anchor="end" font-weight="normal" fill="#4a4a4a">529</text>
<text x="289.20" y="368.45" font-size="3.8" text-anchor="end" font-weight="normal" fill="#4a4a4a">1059</text>
<text x="289.20" y="356.75" font-size="3.8" text-anchor="end" font-weight="normal" fill="#4a4a4a">1588</text>
<text x="289.20" y="345.05" font-size="3.8" text-anchor="end" font-weight="normal" fill="#4a4a4a">2117</text>
<text x="279.50" y="367.10" font-size="4.4" text-anchor="middle" font-weight="normal" fill="#444" transform="rotate(-90 279.50 367.10)">Count</text>
<text x="295.95" y="397.70" font-size="4.0" text-anchor="middle" font-weight="normal" fill="#4a4a4a" textLength="16.5" lengthAdjust="spacingAndGlyphs">-10²10¹10²</text>
<line x1="323.21" y1="390.50" x2="323.21" y2="392.00" stroke="#666" stroke-width="0.6"/>
<text x="323.21" y="397.70" font-size="4.0" text-anchor="middle" font-weight="normal" fill="#4a4a4a">10³</text>
<line x1="336.98" y1="390.50" x2="336.98" y2="392.00" stroke="#666" stroke-width="0.6"/>
<text x="336.98" y="397.70" font-size="4.0" text-anchor="middle" font-weight="normal" fill="#4a4a4a">10⁴</text>
<line x1="346.81" y1="390.50" x2="346.81" y2="392.00" stroke="#666" stroke-width="0.6"/>
<text x="346.81" y="397.70" font-size="4.0" text-anchor="middle" font-weight="normal" fill="#4a4a4a">10⁵</text>
<text x="320.40" y="403.31" font-size="4.4" text-anchor="middle" font-weight="normal" fill="#444">Ly6C</text>
<path d="M211.00,458.20 L211.50,458.20 L212.00,458.20 L212.50,458.19 L213.00,458.18 L213.50,458.16 L214.00,458.12 L214.50,458.06 L215.00,457.95 L215.50,457.78 L216.00,457.40 L216.50,456.78 L217.00,456.27 L217.50,455.43 L218.00,453.93 L218.50,451.75 L219.00,447.97 L219.50,444.63 L220.00,441.80 L220.50,439.15 L221.00,434.73 L221.50,429.89 L222.00,420.18 L222.50,418.62 L223.00,411.40 L223.50,411.40 L224.00,411.40 L224.50,413.19 L225.00,411.71 L225.50,421.90 L226.00,425.90 L226.50,426.85 L227.00,432.24 L227.50,438.61 L228.00,442.61 L228.50,447.01 L229.00,447.94 L229.50,451.18 L230.00,453.07 L230.50,454.73 L231.00,456.21 L231.50,456.86 L232.00,457.45 L232.50,457.71 L233.00,457.92 L233.50,458.07 L234.00,458.13 L234.50,458.16 L235.00,458.18 L235.50,458.19 L236.00,458.20 L236.50,458.20 L237.00,458.20 L237.50,458.20 L238.00,458.20 L238.50,458.20 L239.00,458.20 L239.50,458.20 L240.00,458.20 L240.50,458.20 L241.00,458.20 L241.50,458.20 L242.00,458.20 L242.50,458.20 L243.00,458.20 L243.50,458.20 L244.00,458.20 L244.50,458.20 L245.00,458.20 L245.50,458.20 L246.00,458.20 L246.50,458.20 L247.00,458.20 L247.50,458.20 L248.00,458.20 L248.50,458.20 L249.00,458.20 L249.50,458.20 L250.00,458.20 L250.50,458.20 L251.00,458.20 L251.50,458.20 L252.00,458.20 L252.50,458.20 L253.00,458.20 L253.50,458.20 L254.00,458.20 L254.50,458.20 L255.00,458.20 L255.50,458.20 L256.00,458.20 L256.50,458.20 L257.00,458.20 L257.50,458.20 L258.00,458.20 L258.50,458.20 L259.00,458.20 L259.50,458.20 L260.00,458.20 L260.50,458.20 L261.00,458.20 L261.50,458.20 L262.00,458.20 L262.50,458.20 L263.00,458.20 L263.50,458.20 L264.00,458.20 L264.50,458.20 L265.00,458.20 L265.50,458.20 L266.00,458.20 L266.50,458.20 L267.00,458.20 L267.50,458.20 L268.00,458.20 L268.50,458.20" fill="none" stroke="#bbb" stroke-width="1.6" stroke-linejoin="round"/>
<path d="M211.00,458.20 L211.50,458.20 L212.00,458.20 L212.50,458.20 L213.00,458.20 L213.50,458.20 L214.00,458.20 L214.50,458.20 L215.00,458.20 L215.50,458.20 L216.00,458.20 L216.50,458.20 L217.00,458.19 L217.50,458.18 L218.00,458.16 L218.50,458.14 L219.00,458.07 L219.50,457.97 L220.00,457.77 L220.50,457.67 L221.00,457.35 L221.50,456.49 L222.00,455.89 L222.50,454.64 L223.00,454.08 L223.50,450.29 L224.00,450.80 L224.50,444.67 L225.00,441.85 L225.50,441.65 L226.00,442.31 L226.50,436.05 L227.00,439.17 L227.50,436.70 L228.00,439.97 L228.50,432.30 L229.00,437.23 L229.50,439.93 L230.00,443.01 L230.50,438.89 L231.00,438.97 L231.50,439.88 L232.00,445.75 L232.50,444.85 L233.00,446.28 L233.50,445.07 L234.00,449.39 L234.50,448.73 L235.00,448.90 L235.50,451.05 L236.00,454.11 L236.50,454.78 L237.00,455.40 L237.50,455.23 L238.00,455.84 L238.50,456.24 L239.00,456.50 L239.50,456.65 L240.00,456.57 L240.50,456.57 L241.00,456.40 L241.50,456.53 L242.00,456.49 L242.50,456.42 L243.00,456.49 L243.50,456.58 L244.00,457.05 L244.50,456.66 L245.00,456.59 L245.50,456.88 L246.00,456.66 L246.50,457.10 L247.00,456.73 L247.50,457.05 L248.00,456.96 L248.50,457.24 L249.00,457.27 L249.50,457.30 L250.00,457.36 L250.50,457.50 L251.00,457.42 L251.50,457.30 L252.00,457.47 L252.50,457.45 L253.00,457.55 L253.50,457.59 L254.00,457.61 L254.50,457.71 L255.00,457.84 L255.50,457.88 L256.00,457.89 L256.50,457.97 L257.00,457.97 L257.50,457.93 L258.00,457.96 L258.50,458.03 L259.00,458.02 L259.50,458.05 L260.00,458.06 L260.50,458.08 L261.00,458.11 L261.50,458.14 L262.00,458.12 L262.50,458.15 L263.00,458.15 L263.50,458.16 L264.00,458.17 L264.50,458.17 L265.00,458.18 L265.50,458.18 L266.00,458.18 L266.50,458.19 L267.00,458.19 L267.50,458.19 L268.00,458.19 L268.50,458.19" fill="none" stroke="#000" stroke-width="1.1" stroke-linejoin="round"/>
<rect x="210.40" y="411.10" width="58.70" height="47.80" fill="none" stroke="#555" stroke-width="0.9"/>
<path d="M210.40,411.10 V458.90 H269.10" fill="none" stroke="#2a2a2a" stroke-width="1.1"/>
<line x1="208.60" y1="458.90" x2="210.40" y2="458.90" stroke="#666" stroke-width="0.7"/>
<line x1="208.60" y1="446.95" x2="210.40" y2="446.95" stroke="#666" stroke-width="0.7"/>
<line x1="208.60" y1="435.00" x2="210.40" y2="435.00" stroke="#666" stroke-width="0.7"/>
<line x1="208.60" y1="423.05" x2="210.40" y2="423.05" stroke="#666" stroke-width="0.7"/>
<line x1="208.60" y1="411.10" x2="210.40" y2="411.10" stroke="#666" stroke-width="0.7"/>
<line x1="209.50" y1="458.90" x2="210.40" y2="458.90" stroke="#999" stroke-width="0.4"/>
<line x1="209.50" y1="455.91" x2="210.40" y2="455.91" stroke="#999" stroke-width="0.4"/>
<line x1="209.50" y1="452.92" x2="210.40" y2="452.92" stroke="#999" stroke-width="0.4"/>
<line x1="209.50" y1="449.94" x2="210.40" y2="449.94" stroke="#999" stroke-width="0.4"/>
<line x1="209.50" y1="446.95" x2="210.40" y2="446.95" stroke="#999" stroke-width="0.4"/>
<line x1="209.50" y1="443.96" x2="210.40" y2="443.96" stroke="#999" stroke-width="0.4"/>
<line x1="209.50" y1="440.98" x2="210.40" y2="440.98" stroke="#999" stroke-width="0.4"/>
<line x1="209.50" y1="437.99" x2="210.40" y2="437.99" stroke="#999" stroke-width="0.4"/>
<line x1="209.50" y1="435.00" x2="210.40" y2="435.00" stroke="#999" stroke-width="0.4"/>
<line x1="209.50" y1="432.01" x2="210.40" y2="432.01" stroke="#999" stroke-width="0.4"/>
<line x1="209.50" y1="429.02" x2="210.40" y2="429.02" stroke="#999" stroke-width="0.4"/>
<line x1="209.50" y1="426.04" x2="210.40" y2="426.04" stroke="#999" stroke-width="0.4"/>
<line x1="209.50" y1="423.05" x2="210.40" y2="423.05" stroke="#999" stroke-width="0.4"/>
<line x1="209.50" y1="420.06" x2="210.40" y2="420.06" stroke="#999" stroke-width="0.4"/>
<line x1="209.50" y1="417.08" x2="210.40" y2="417.08" stroke="#999" stroke-width="0.4"/>
<line x1="209.50" y1="414.09" x2="210.40" y2="414.09" stroke="#999" stroke-width="0.4"/>
<line x1="209.50" y1="411.10" x2="210.40" y2="411.10" stroke="#999" stroke-width="0.4"/>
<text x="207.30" y="460.25" font-size="3.8" text-anchor="end" font-weight="normal" fill="#4a4a4a">0</text>
<text x="207.30" y="448.30" font-size="3.8" text-anchor="end" font-weight="normal" fill="#4a4a4a">43</text>
<text x="207.30" y="436.35" font-size="3.8" text-anchor="end" font-weight="normal" fill="#4a4a4a">85</text>
<text x="207.30" y="424.40" font-size="3.8" text-anchor="end" font-weight="normal" fill="#4a4a4a">128</text>
<text x="207.30" y="412.45" font-size="3.8" text-anchor="end" font-weight="normal" fill="#4a4a4a">170</text>
<text x="200.05" y="435.00" font-size="4.4" text-anchor="middle" font-weight="normal" fill="#444" transform="rotate(-90 200.05 435.00)">Count</text>
<text x="214.22" y="466.10" font-size="4.0" text-anchor="middle" font-weight="normal" fill="#4a4a4a" textLength="16.5" lengthAdjust="spacingAndGlyphs">-10²10¹10²</text>
<line x1="242.69" y1="458.90" x2="242.69" y2="460.40" stroke="#666" stroke-width="0.6"/>
<text x="242.69" y="466.10" font-size="4.0" text-anchor="middle" font-weight="normal" fill="#4a4a4a">10³</text>
<line x1="257.07" y1="458.90" x2="257.07" y2="460.40" stroke="#666" stroke-width="0.6"/>
<text x="257.07" y="466.10" font-size="4.0" text-anchor="middle" font-weight="normal" fill="#4a4a4a">10⁴</text>
<line x1="267.34" y1="458.90" x2="267.34" y2="460.40" stroke="#666" stroke-width="0.6"/>
<text x="267.34" y="466.10" font-size="4.0" text-anchor="middle" font-weight="normal" fill="#4a4a4a">10⁵</text>
<text x="239.75" y="471.71" font-size="4.4" text-anchor="middle" font-weight="normal" fill="#444">CD11c</text>
<path d="M287.90,458.20 L288.40,458.19 L288.90,458.16 L289.40,458.10 L289.90,457.95 L290.40,457.61 L290.90,456.91 L291.40,455.61 L291.90,453.35 L292.40,449.82 L292.90,444.78 L293.40,438.31 L293.90,430.91 L294.40,423.53 L294.90,417.43 L295.40,413.82 L295.90,413.39 L296.40,415.42 L296.90,419.42 L297.40,424.81 L297.90,430.91 L298.40,437.01 L298.90,442.58 L299.40,447.26 L299.90,450.93 L300.40,453.61 L300.90,455.45 L301.40,456.63 L301.90,457.35 L302.40,457.76 L302.90,457.99 L303.40,458.10 L303.90,458.16 L304.40,458.18 L304.90,458.19 L305.40,458.20 L305.90,458.20 L306.40,458.20 L306.90,458.20 L307.40,458.20 L307.90,458.20 L308.40,458.20 L308.90,458.20 L309.40,458.20 L309.90,458.20 L310.40,458.20 L310.90,458.20 L311.40,458.20 L311.90,458.20 L312.40,458.20 L312.90,458.20 L313.40,458.20 L313.90,458.20 L314.40,458.20 L314.90,458.20 L315.40,458.20 L315.90,458.20 L316.40,458.20 L316.90,458.20 L317.40,458.20 L317.90,458.20 L318.40,458.20 L318.90,458.20 L319.40,458.20 L319.90,458.20 L320.40,458.20 L320.90,458.20 L321.40,458.20 L321.90,458.20 L322.40,458.20 L322.90,458.20 L323.40,458.20 L323.90,458.20 L324.40,458.20 L324.90,458.20 L325.40,458.20 L325.90,458.20 L326.40,458.20 L326.90,458.20 L327.40,458.20 L327.90,458.20 L328.40,458.20 L328.90,458.20 L329.40,458.20 L329.90,458.20 L330.40,458.20 L330.90,458.20 L331.40,458.20 L331.90,458.20 L332.40,458.20 L332.90,458.20 L333.40,458.20 L333.90,458.20 L334.40,458.20 L334.90,458.20 L335.40,458.20 L335.90,458.20 L336.40,458.20 L336.90,458.20 L337.40,458.20 L337.90,458.20 L338.40,458.20 L338.90,458.20 L339.40,458.20 L339.90,458.20 L340.40,458.20 L340.90,458.20 L341.40,458.20 L341.90,458.20 L342.40,458.20 L342.90,458.20 L343.40,458.20 L343.90,458.20 L344.40,458.20 L344.90,458.20 L345.40,458.20" fill="none" stroke="#bbb" stroke-width="1.2" stroke-linejoin="round"/>
<path d="M287.90,458.20 L288.40,458.20 L288.90,458.20 L289.40,458.19 L289.90,458.19 L290.40,458.18 L290.90,458.16 L291.40,458.12 L291.90,458.07 L292.40,457.99 L292.90,457.88 L293.40,457.71 L293.90,457.51 L294.40,457.25 L294.90,456.97 L295.40,456.71 L295.90,456.41 L296.40,456.19 L296.90,455.90 L297.40,455.86 L297.90,455.84 L298.40,455.81 L298.90,455.99 L299.40,456.19 L299.90,456.42 L300.40,456.67 L300.90,456.88 L301.40,457.07 L301.90,457.22 L302.40,457.31 L302.90,457.38 L303.40,457.43 L303.90,457.51 L304.40,457.55 L304.90,457.48 L305.40,457.32 L305.90,457.14 L306.40,456.93 L306.90,456.63 L307.40,456.45 L307.90,456.27 L308.40,456.10 L308.90,456.02 L309.40,455.91 L309.90,455.60 L310.40,454.99 L310.90,454.52 L311.40,453.82 L311.90,453.75 L312.40,453.40 L312.90,452.87 L313.40,451.47 L313.90,450.61 L314.40,449.53 L314.90,449.33 L315.40,448.96 L315.90,448.28 L316.40,447.38 L316.90,446.37 L317.40,445.41 L317.90,445.61 L318.40,444.01 L318.90,442.68 L319.40,441.87 L319.90,441.77 L320.40,440.23 L320.90,439.21 L321.40,437.96 L321.90,438.13 L322.40,437.31 L322.90,437.47 L323.40,439.29 L323.90,440.63 L324.40,441.37 L324.90,442.73 L325.40,445.52 L325.90,445.63 L326.40,448.13 L326.90,450.02 L327.40,451.46 L327.90,453.62 L328.40,454.35 L328.90,455.67 L329.40,456.66 L329.90,456.93 L330.40,457.50 L330.90,457.88 L331.40,457.93 L331.90,458.03 L332.40,458.14 L332.90,458.20 L333.40,458.20 L333.90,458.20 L334.40,458.20 L334.90,458.20 L335.40,458.20 L335.90,458.20 L336.40,458.20 L336.90,458.20 L337.40,458.20 L337.90,458.20 L338.40,458.20 L338.90,458.20 L339.40,458.20 L339.90,458.20 L340.40,458.20 L340.90,458.20 L341.40,458.20 L341.90,458.20 L342.40,458.20 L342.90,458.20 L343.40,458.20 L343.90,458.20 L344.40,458.20 L344.90,458.20 L345.40,458.20" fill="none" stroke="#000" stroke-width="1.4" stroke-linejoin="round"/>
<rect x="287.30" y="411.10" width="59.10" height="47.80" fill="none" stroke="#555" stroke-width="0.9"/>
<path d="M287.30,411.10 V458.90 H346.40" fill="none" stroke="#2a2a2a" stroke-width="1.1"/>
<line x1="285.50" y1="458.90" x2="287.30" y2="458.90" stroke="#666" stroke-width="0.7"/>
<line x1="285.50" y1="446.95" x2="287.30" y2="446.95" stroke="#666" stroke-width="0.7"/>
<line x1="285.50" y1="435.00" x2="287.30" y2="435.00" stroke="#666" stroke-width="0.7"/>
<line x1="285.50" y1="423.05" x2="287.30" y2="423.05" stroke="#666" stroke-width="0.7"/>
<line x1="285.50" y1="411.10" x2="287.30" y2="411.10" stroke="#666" stroke-width="0.7"/>
<line x1="286.40" y1="458.90" x2="287.30" y2="458.90" stroke="#999" stroke-width="0.4"/>
<line x1="286.40" y1="455.91" x2="287.30" y2="455.91" stroke="#999" stroke-width="0.4"/>
<line x1="286.40" y1="452.92" x2="287.30" y2="452.92" stroke="#999" stroke-width="0.4"/>
<line x1="286.40" y1="449.94" x2="287.30" y2="449.94" stroke="#999" stroke-width="0.4"/>
<line x1="286.40" y1="446.95" x2="287.30" y2="446.95" stroke="#999" stroke-width="0.4"/>
<line x1="286.40" y1="443.96" x2="287.30" y2="443.96" stroke="#999" stroke-width="0.4"/>
<line x1="286.40" y1="440.98" x2="287.30" y2="440.98" stroke="#999" stroke-width="0.4"/>
<line x1="286.40" y1="437.99" x2="287.30" y2="437.99" stroke="#999" stroke-width="0.4"/>
<line x1="286.40" y1="435.00" x2="287.30" y2="435.00" stroke="#999" stroke-width="0.4"/>
<line x1="286.40" y1="432.01" x2="287.30" y2="432.01" stroke="#999" stroke-width="0.4"/>
<line x1="286.40" y1="429.02" x2="287.30" y2="429.02" stroke="#999" stroke-width="0.4"/>
<line x1="286.40" y1="426.04" x2="287.30" y2="426.04" stroke="#999" stroke-width="0.4"/>
<line x1="286.40" y1="423.05" x2="287.30" y2="423.05" stroke="#999" stroke-width="0.4"/>
<line x1="286.40" y1="420.06" x2="287.30" y2="420.06" stroke="#999" stroke-width="0.4"/>
<line x1="286.40" y1="417.08" x2="287.30" y2="417.08" stroke="#999" stroke-width="0.4"/>
<line x1="286.40" y1="414.09" x2="287.30" y2="414.09" stroke="#999" stroke-width="0.4"/>
<line x1="286.40" y1="411.10" x2="287.30" y2="411.10" stroke="#999" stroke-width="0.4"/>
<text x="284.20" y="460.25" font-size="3.8" text-anchor="end" font-weight="normal" fill="#4a4a4a">0</text>
<text x="284.20" y="448.30" font-size="3.8" text-anchor="end" font-weight="normal" fill="#4a4a4a">171</text>
<text x="284.20" y="436.35" font-size="3.8" text-anchor="end" font-weight="normal" fill="#4a4a4a">341</text>
<text x="284.20" y="424.40" font-size="3.8" text-anchor="end" font-weight="normal" fill="#4a4a4a">512</text>
<text x="284.20" y="412.45" font-size="3.8" text-anchor="end" font-weight="normal" fill="#4a4a4a">682</text>
<text x="276.95" y="435.00" font-size="4.4" text-anchor="middle" font-weight="normal" fill="#444" transform="rotate(-90 276.95 435.00)">Count</text>
<text x="291.14" y="466.10" font-size="4.0" text-anchor="middle" font-weight="normal" fill="#4a4a4a" textLength="16.5" lengthAdjust="spacingAndGlyphs">-10²10¹10²</text>
<line x1="319.81" y1="458.90" x2="319.81" y2="460.40" stroke="#666" stroke-width="0.6"/>
<text x="319.81" y="466.10" font-size="4.0" text-anchor="middle" font-weight="normal" fill="#4a4a4a">10³</text>
<line x1="334.28" y1="458.90" x2="334.28" y2="460.40" stroke="#666" stroke-width="0.6"/>
<text x="334.28" y="466.10" font-size="4.0" text-anchor="middle" font-weight="normal" fill="#4a4a4a">10⁴</text>
<line x1="344.63" y1="458.90" x2="344.63" y2="460.40" stroke="#666" stroke-width="0.6"/>
<text x="344.63" y="466.10" font-size="4.0" text-anchor="middle" font-weight="normal" fill="#4a4a4a">10⁵</text>
<text x="316.85" y="471.71" font-size="4.4" text-anchor="middle" font-weight="normal" fill="#444">CD11c</text>
<path d="M381.00,389.50 L381.50,389.50 L382.00,389.50 L382.50,389.50 L383.00,389.50 L383.50,389.49 L384.00,389.48 L384.50,389.45 L385.00,389.39 L385.50,389.27 L386.00,389.11 L386.50,388.64 L387.00,388.06 L387.50,387.16 L388.00,385.72 L388.50,382.70 L389.00,380.57 L389.50,377.12 L390.00,372.00 L390.50,363.66 L391.00,360.27 L391.50,353.13 L392.00,353.70 L392.50,347.88 L393.00,348.02 L393.50,349.65 L394.00,347.93 L394.50,353.41 L395.00,358.62 L395.50,356.95 L396.00,363.23 L396.50,367.27 L397.00,369.84 L397.50,368.68 L398.00,370.89 L398.50,374.53 L399.00,375.09 L399.50,376.42 L400.00,378.94 L400.50,381.40 L401.00,382.75 L401.50,384.25 L402.00,385.62 L402.50,387.04 L403.00,387.60 L403.50,388.24 L404.00,388.74 L404.50,389.04 L405.00,389.26 L405.50,389.36 L406.00,389.43 L406.50,389.47 L407.00,389.48 L407.50,389.49 L408.00,389.50 L408.50,389.50 L409.00,389.50 L409.50,389.50 L410.00,389.50 L410.50,389.50 L411.00,389.50 L411.50,389.50 L412.00,389.50 L412.50,389.50 L413.00,389.50 L413.50,389.50 L414.00,389.50 L414.50,389.50 L415.00,389.50 L415.50,389.50 L416.00,389.50 L416.50,389.50 L417.00,389.50 L417.50,389.50 L418.00,389.50 L418.50,389.50 L419.00,389.50 L419.50,389.50 L420.00,389.50 L420.50,389.50 L421.00,389.50 L421.50,389.50 L422.00,389.50 L422.50,389.50 L423.00,389.50 L423.50,389.50 L424.00,389.50 L424.50,389.50 L425.00,389.50 L425.50,389.50 L426.00,389.50 L426.50,389.50 L427.00,389.50 L427.50,389.50 L428.00,389.50 L428.50,389.50 L429.00,389.50 L429.50,389.50 L430.00,389.50 L430.50,389.50 L431.00,389.50 L431.50,389.50 L432.00,389.50 L432.50,389.50 L433.00,389.50 L433.50,389.50 L434.00,389.50 L434.50,389.50 L435.00,389.50 L435.50,389.50 L436.00,389.50 L436.50,389.50 L437.00,389.50 L437.50,389.50 L438.00,389.50 L438.50,389.50" fill="none" stroke="#888" stroke-width="1.1" stroke-linejoin="round"/>
<path d="M381.00,389.50 L381.50,389.50 L382.00,389.50 L382.50,389.50 L383.00,389.48 L383.50,389.42 L384.00,389.24 L384.50,388.70 L385.00,388.05 L385.50,387.69 L386.00,387.26 L386.50,387.00 L387.00,387.24 L387.50,387.29 L388.00,386.77 L388.50,386.06 L389.00,383.94 L389.50,379.77 L390.00,376.14 L390.50,370.02 L391.00,363.60 L391.50,357.07 L392.00,361.44 L392.50,359.87 L393.00,345.48 L393.50,349.79 L394.00,356.61 L394.50,351.28 L395.00,360.18 L395.50,363.30 L396.00,364.52 L396.50,365.12 L397.00,365.34 L397.50,371.83 L398.00,367.69 L398.50,370.63 L399.00,373.73 L399.50,374.65 L400.00,376.28 L400.50,381.66 L401.00,381.75 L401.50,382.94 L402.00,384.37 L402.50,385.58 L403.00,386.84 L403.50,386.28 L404.00,386.54 L404.50,387.03 L405.00,386.65 L405.50,385.88 L406.00,386.78 L406.50,386.66 L407.00,386.34 L407.50,386.86 L408.00,387.87 L408.50,388.00 L409.00,388.58 L409.50,388.81 L410.00,389.05 L410.50,389.30 L411.00,389.38 L411.50,389.44 L412.00,389.47 L412.50,389.49 L413.00,389.49 L413.50,389.50 L414.00,389.50 L414.50,389.50 L415.00,389.50 L415.50,389.50 L416.00,389.50 L416.50,389.50 L417.00,389.50 L417.50,389.50 L418.00,389.50 L418.50,389.50 L419.00,389.50 L419.50,389.50 L420.00,389.50 L420.50,389.50 L421.00,389.50 L421.50,389.50 L422.00,389.50 L422.50,389.50 L423.00,389.50 L423.50,389.50 L424.00,389.50 L424.50,389.50 L425.00,389.50 L425.50,389.50 L426.00,389.50 L426.50,389.50 L427.00,389.50 L427.50,389.50 L428.00,389.50 L428.50,389.50 L429.00,389.50 L429.50,389.50 L430.00,389.50 L430.50,389.50 L431.00,389.50 L431.50,389.50 L432.00,389.50 L432.50,389.50 L433.00,389.50 L433.50,389.50 L434.00,389.50 L434.50,389.50 L435.00,389.50 L435.50,389.50 L436.00,389.50 L436.50,389.50 L437.00,389.50 L437.50,389.50 L438.00,389.50 L438.50,389.50" fill="none" stroke="#000" stroke-width="1.1" stroke-linejoin="round"/>
<rect x="380.40" y="344.60" width="59.10" height="45.60" fill="none" stroke="#555" stroke-width="0.9"/>
<path d="M380.40,344.60 V390.20 H439.50" fill="none" stroke="#2a2a2a" stroke-width="1.1"/>
<line x1="378.60" y1="390.20" x2="380.40" y2="390.20" stroke="#666" stroke-width="0.7"/>
<line x1="378.60" y1="378.80" x2="380.40" y2="378.80" stroke="#666" stroke-width="0.7"/>
<line x1="378.60" y1="367.40" x2="380.40" y2="367.40" stroke="#666" stroke-width="0.7"/>
<line x1="378.60" y1="356.00" x2="380.40" y2="356.00" stroke="#666" stroke-width="0.7"/>
<line x1="378.60" y1="344.60" x2="380.40" y2="344.60" stroke="#666" stroke-width="0.7"/>
<line x1="379.50" y1="390.20" x2="380.40" y2="390.20" stroke="#999" stroke-width="0.4"/>
<line x1="379.50" y1="387.35" x2="380.40" y2="387.35" stroke="#999" stroke-width="0.4"/>
<line x1="379.50" y1="384.50" x2="380.40" y2="384.50" stroke="#999" stroke-width="0.4"/>
<line x1="379.50" y1="381.65" x2="380.40" y2="381.65" stroke="#999" stroke-width="0.4"/>
<line x1="379.50" y1="378.80" x2="380.40" y2="378.80" stroke="#999" stroke-width="0.4"/>
<line x1="379.50" y1="375.95" x2="380.40" y2="375.95" stroke="#999" stroke-width="0.4"/>
<line x1="379.50" y1="373.10" x2="380.40" y2="373.10" stroke="#999" stroke-width="0.4"/>
<line x1="379.50" y1="370.25" x2="380.40" y2="370.25" stroke="#999" stroke-width="0.4"/>
<line x1="379.50" y1="367.40" x2="380.40" y2="367.40" stroke="#999" stroke-width="0.4"/>
<line x1="379.50" y1="364.55" x2="380.40" y2="364.55" stroke="#999" stroke-width="0.4"/>
<line x1="379.50" y1="361.70" x2="380.40" y2="361.70" stroke="#999" stroke-width="0.4"/>
<line x1="379.50" y1="358.85" x2="380.40" y2="358.85" stroke="#999" stroke-width="0.4"/>
<line x1="379.50" y1="356.00" x2="380.40" y2="356.00" stroke="#999" stroke-width="0.4"/>
<line x1="379.50" y1="353.15" x2="380.40" y2="353.15" stroke="#999" stroke-width="0.4"/>
<line x1="379.50" y1="350.30" x2="380.40" y2="350.30" stroke="#999" stroke-width="0.4"/>
<line x1="379.50" y1="347.45" x2="380.40" y2="347.45" stroke="#999" stroke-width="0.4"/>
<line x1="379.50" y1="344.60" x2="380.40" y2="344.60" stroke="#999" stroke-width="0.4"/>
<text x="377.30" y="391.55" font-size="3.8" text-anchor="end" font-weight="normal" fill="#4a4a4a">0</text>
<text x="377.30" y="380.15" font-size="3.8" text-anchor="end" font-weight="normal" fill="#4a4a4a">8</text>
<text x="377.30" y="368.75" font-size="3.8" text-anchor="end" font-weight="normal" fill="#4a4a4a">16</text>
<text x="377.30" y="357.35" font-size="3.8" text-anchor="end" font-weight="normal" fill="#4a4a4a">24</text>
<text x="377.30" y="345.95" font-size="3.8" text-anchor="end" font-weight="normal" fill="#4a4a4a">32</text>
<text x="372.50" y="367.40" font-size="4.4" text-anchor="middle" font-weight="normal" fill="#444" transform="rotate(-90 372.50 367.40)">Count</text>
<text x="384.24" y="397.40" font-size="4.0" text-anchor="middle" font-weight="normal" fill="#4a4a4a" textLength="16.5" lengthAdjust="spacingAndGlyphs">-10²10¹10²</text>
<line x1="412.90" y1="390.20" x2="412.90" y2="391.70" stroke="#666" stroke-width="0.6"/>
<text x="412.90" y="397.40" font-size="4.0" text-anchor="middle" font-weight="normal" fill="#4a4a4a">10³</text>
<line x1="427.38" y1="390.20" x2="427.38" y2="391.70" stroke="#666" stroke-width="0.6"/>
<text x="427.38" y="397.40" font-size="4.0" text-anchor="middle" font-weight="normal" fill="#4a4a4a">10⁴</text>
<line x1="437.73" y1="390.20" x2="437.73" y2="391.70" stroke="#666" stroke-width="0.6"/>
<text x="437.73" y="397.40" font-size="4.0" text-anchor="middle" font-weight="normal" fill="#4a4a4a">10⁵</text>
<text x="409.95" y="403.01" font-size="4.4" text-anchor="middle" font-weight="normal" fill="#444">PzB8</text>
<path d="M463.10,389.95 L463.60,389.86 L464.10,389.60 L464.60,389.02 L465.10,387.80 L465.60,385.50 L466.10,381.68 L466.60,376.04 L467.10,368.75 L467.60,360.68 L468.10,353.29 L468.60,348.32 L469.10,347.04 L469.60,348.57 L470.10,352.05 L470.60,356.99 L471.10,362.73 L471.60,368.61 L472.10,374.07 L472.60,378.73 L473.10,382.43 L473.60,385.17 L474.10,387.07 L474.60,388.32 L475.10,389.08 L475.60,389.52 L476.10,389.76 L476.60,389.89 L477.10,389.95 L477.60,389.98 L478.10,389.99 L478.60,390.00 L479.10,390.00 L479.60,390.00 L480.10,390.00 L480.60,390.00 L481.10,390.00 L481.60,390.00 L482.10,390.00 L482.60,390.00 L483.10,390.00 L483.60,390.00 L484.10,390.00 L484.60,390.00 L485.10,390.00 L485.60,390.00 L486.10,390.00 L486.60,390.00 L487.10,390.00 L487.60,390.00 L488.10,390.00 L488.60,390.00 L489.10,390.00 L489.60,390.00 L490.10,390.00 L490.60,390.00 L491.10,390.00 L491.60,390.00 L492.10,390.00 L492.60,390.00 L493.10,390.00 L493.60,390.00 L494.10,390.00 L494.60,390.00 L495.10,390.00 L495.60,390.00 L496.10,390.00 L496.60,390.00 L497.10,390.00 L497.60,390.00 L498.10,390.00 L498.60,390.00 L499.10,390.00 L499.60,390.00 L500.10,390.00 L500.60,390.00 L501.10,390.00 L501.60,390.00 L502.10,390.00 L502.60,390.00 L503.10,390.00 L503.60,390.00 L504.10,390.00 L504.60,390.00 L505.10,390.00 L505.60,390.00 L506.10,390.00 L506.60,390.00 L507.10,390.00 L507.60,390.00 L508.10,390.00 L508.60,390.00 L509.10,390.00 L509.60,390.00 L510.10,390.00 L510.60,390.00 L511.10,390.00 L511.60,390.00 L512.10,390.00 L512.60,390.00 L513.10,390.00 L513.60,390.00 L514.10,390.00 L514.60,390.00 L515.10,390.00 L515.60,390.00 L516.10,390.00 L516.60,390.00" fill="none" stroke="#aaa" stroke-width="1.1" stroke-linejoin="round"/>
<path d="M463.10,389.96 L463.60,389.92 L464.10,389.84 L464.60,389.68 L465.10,389.40 L465.60,388.93 L466.10,388.18 L466.60,387.06 L467.10,385.48 L467.60,383.42 L468.10,380.89 L468.60,378.02 L469.10,375.02 L469.60,372.22 L470.10,369.94 L470.60,368.49 L471.10,368.05 L471.60,368.16 L472.10,368.55 L472.60,369.20 L473.10,370.08 L473.60,371.16 L474.10,372.38 L474.60,373.72 L475.10,375.11 L475.60,376.53 L476.10,377.93 L476.60,379.28 L477.10,380.56 L477.60,381.76 L478.10,382.85 L478.60,383.82 L479.10,384.67 L479.60,385.40 L480.10,386.01 L480.60,386.53 L481.10,386.95 L481.60,387.30 L482.10,387.59 L482.60,387.83 L483.10,388.03 L483.60,388.20 L484.10,388.34 L484.60,388.46 L485.10,388.57 L485.60,388.68 L486.10,388.77 L486.60,388.86 L487.10,388.94 L487.60,389.02 L488.10,389.09 L488.60,389.17 L489.10,389.23 L489.60,389.30 L490.10,389.36 L490.60,389.42 L491.10,389.48 L491.60,389.53 L492.10,389.58 L492.60,389.62 L493.10,389.66 L493.60,389.70 L494.10,389.74 L494.60,389.77 L495.10,389.80 L495.60,389.82 L496.10,389.85 L496.60,389.87 L497.10,389.88 L497.60,389.90 L498.10,389.91 L498.60,389.93 L499.10,389.94 L499.60,389.95 L500.10,389.96 L500.60,389.96 L501.10,389.97 L501.60,389.97 L502.10,389.98 L502.60,389.98 L503.10,389.99 L503.60,389.99 L504.10,389.99 L504.60,389.99 L505.10,389.99 L505.60,389.99 L506.10,390.00 L506.60,390.00 L507.10,390.00 L507.60,390.00 L508.10,390.00 L508.60,390.00 L509.10,390.00 L509.60,390.00 L510.10,390.00 L510.60,390.00 L511.10,390.00 L511.60,390.00 L512.10,390.00 L512.60,390.00 L513.10,390.00 L513.60,390.00 L514.10,390.00 L514.60,390.00 L515.10,390.00 L515.60,390.00 L516.10,390.00 L516.60,390.00" fill="none" stroke="#222" stroke-width="1.0" stroke-linejoin="round"/>
<rect x="462.50" y="345.40" width="55.00" height="45.30" fill="none" stroke="#555" stroke-width="0.9"/>
<path d="M462.50,345.40 V390.70 H517.50" fill="none" stroke="#2a2a2a" stroke-width="1.1"/>
<line x1="460.70" y1="390.70" x2="462.50" y2="390.70" stroke="#666" stroke-width="0.7"/>
<line x1="460.70" y1="379.38" x2="462.50" y2="379.38" stroke="#666" stroke-width="0.7"/>
<line x1="460.70" y1="368.05" x2="462.50" y2="368.05" stroke="#666" stroke-width="0.7"/>
<line x1="460.70" y1="356.72" x2="462.50" y2="356.72" stroke="#666" stroke-width="0.7"/>
<line x1="460.70" y1="345.40" x2="462.50" y2="345.40" stroke="#666" stroke-width="0.7"/>
<line x1="461.60" y1="390.70" x2="462.50" y2="390.70" stroke="#999" stroke-width="0.4"/>
<line x1="461.60" y1="387.87" x2="462.50" y2="387.87" stroke="#999" stroke-width="0.4"/>
<line x1="461.60" y1="385.04" x2="462.50" y2="385.04" stroke="#999" stroke-width="0.4"/>
<line x1="461.60" y1="382.21" x2="462.50" y2="382.21" stroke="#999" stroke-width="0.4"/>
<line x1="461.60" y1="379.38" x2="462.50" y2="379.38" stroke="#999" stroke-width="0.4"/>
<line x1="461.60" y1="376.54" x2="462.50" y2="376.54" stroke="#999" stroke-width="0.4"/>
<line x1="461.60" y1="373.71" x2="462.50" y2="373.71" stroke="#999" stroke-width="0.4"/>
<line x1="461.60" y1="370.88" x2="462.50" y2="370.88" stroke="#999" stroke-width="0.4"/>
<line x1="461.60" y1="368.05" x2="462.50" y2="368.05" stroke="#999" stroke-width="0.4"/>
<line x1="461.60" y1="365.22" x2="462.50" y2="365.22" stroke="#999" stroke-width="0.4"/>
<line x1="461.60" y1="362.39" x2="462.50" y2="362.39" stroke="#999" stroke-width="0.4"/>
<line x1="461.60" y1="359.56" x2="462.50" y2="359.56" stroke="#999" stroke-width="0.4"/>
<line x1="461.60" y1="356.72" x2="462.50" y2="356.72" stroke="#999" stroke-width="0.4"/>
<line x1="461.60" y1="353.89" x2="462.50" y2="353.89" stroke="#999" stroke-width="0.4"/>
<line x1="461.60" y1="351.06" x2="462.50" y2="351.06" stroke="#999" stroke-width="0.4"/>
<line x1="461.60" y1="348.23" x2="462.50" y2="348.23" stroke="#999" stroke-width="0.4"/>
<line x1="461.60" y1="345.40" x2="462.50" y2="345.40" stroke="#999" stroke-width="0.4"/>
<text x="459.40" y="392.05" font-size="3.8" text-anchor="end" font-weight="normal" fill="#4a4a4a">0</text>
<text x="459.40" y="380.73" font-size="3.8" text-anchor="end" font-weight="normal" fill="#4a4a4a">380</text>
<text x="459.40" y="369.40" font-size="3.8" text-anchor="end" font-weight="normal" fill="#4a4a4a">761</text>
<text x="459.40" y="358.07" font-size="3.8" text-anchor="end" font-weight="normal" fill="#4a4a4a">1141</text>
<text x="459.40" y="346.75" font-size="3.8" text-anchor="end" font-weight="normal" fill="#4a4a4a">1521</text>
<text x="449.70" y="368.05" font-size="4.4" text-anchor="middle" font-weight="normal" fill="#444" transform="rotate(-90 449.70 368.05)">Count</text>
<text x="466.07" y="397.90" font-size="4.0" text-anchor="middle" font-weight="normal" fill="#4a4a4a" textLength="16.5" lengthAdjust="spacingAndGlyphs">-10²10¹10²</text>
<line x1="492.75" y1="390.70" x2="492.75" y2="392.20" stroke="#666" stroke-width="0.6"/>
<text x="492.75" y="397.90" font-size="4.0" text-anchor="middle" font-weight="normal" fill="#4a4a4a">10³</text>
<line x1="506.23" y1="390.70" x2="506.23" y2="392.20" stroke="#666" stroke-width="0.6"/>
<text x="506.23" y="397.90" font-size="4.0" text-anchor="middle" font-weight="normal" fill="#4a4a4a">10⁴</text>
<line x1="515.85" y1="390.70" x2="515.85" y2="392.20" stroke="#666" stroke-width="0.6"/>
<text x="515.85" y="397.90" font-size="4.0" text-anchor="middle" font-weight="normal" fill="#4a4a4a">10⁵</text>
<text x="490.00" y="403.51" font-size="4.4" text-anchor="middle" font-weight="normal" fill="#444">PzB8</text>
<path d="M381.00,457.20 L381.50,457.20 L382.00,457.20 L382.50,457.19 L383.00,457.18 L383.50,457.17 L384.00,457.15 L384.50,457.10 L385.00,457.03 L385.50,456.87 L386.00,456.64 L386.50,456.37 L387.00,455.75 L387.50,455.00 L388.00,454.17 L388.50,452.69 L389.00,451.23 L389.50,447.75 L390.00,445.47 L390.50,443.54 L391.00,439.61 L391.50,433.16 L392.00,430.26 L392.50,423.86 L393.00,423.14 L393.50,415.39 L394.00,412.60 L394.50,417.13 L395.00,412.47 L395.50,417.00 L396.00,415.30 L396.50,418.58 L397.00,423.60 L397.50,431.95 L398.00,437.34 L398.50,439.78 L399.00,444.34 L399.50,448.67 L400.00,451.17 L400.50,452.80 L401.00,454.61 L401.50,455.40 L402.00,456.20 L402.50,456.62 L403.00,456.86 L403.50,457.01 L404.00,457.10 L404.50,457.16 L405.00,457.18 L405.50,457.19 L406.00,457.20 L406.50,457.20 L407.00,457.20 L407.50,457.20 L408.00,457.20 L408.50,457.20 L409.00,457.20 L409.50,457.20 L410.00,457.20 L410.50,457.20 L411.00,457.20 L411.50,457.20 L412.00,457.20 L412.50,457.20 L413.00,457.20 L413.50,457.20 L414.00,457.20 L414.50,457.20 L415.00,457.20 L415.50,457.20 L416.00,457.20 L416.50,457.20 L417.00,457.20 L417.50,457.20 L418.00,457.20 L418.50,457.20 L419.00,457.20 L419.50,457.20 L420.00,457.20 L420.50,457.20 L421.00,457.20 L421.50,457.20 L422.00,457.20 L422.50,457.20 L423.00,457.20 L423.50,457.20 L424.00,457.20 L424.50,457.20 L425.00,457.20 L425.50,457.20 L426.00,457.20 L426.50,457.20 L427.00,457.20 L427.50,457.20 L428.00,457.20 L428.50,457.20 L429.00,457.20 L429.50,457.20 L430.00,457.20 L430.50,457.20 L431.00,457.20 L431.50,457.20 L432.00,457.20 L432.50,457.20 L433.00,457.20 L433.50,457.20 L434.00,457.20 L434.50,457.20 L435.00,457.20 L435.50,457.20 L436.00,457.20 L436.50,457.20 L437.00,457.20 L437.50,457.20 L438.00,457.20 L438.50,457.20 L439.00,457.20 L439.50,457.20" fill="none" stroke="#888" stroke-width="1.1" stroke-linejoin="round"/>
<path d="M381.00,457.20 L381.50,457.20 L382.00,457.20 L382.50,457.19 L383.00,457.18 L383.50,457.17 L384.00,457.15 L384.50,457.11 L385.00,457.04 L385.50,456.92 L386.00,456.67 L386.50,456.24 L387.00,456.02 L387.50,455.39 L388.00,453.86 L388.50,452.90 L389.00,451.35 L389.50,449.84 L390.00,446.92 L390.50,440.04 L391.00,441.28 L391.50,436.53 L392.00,427.92 L392.50,421.57 L393.00,416.89 L393.50,419.01 L394.00,410.70 L394.50,412.98 L395.00,417.50 L395.50,415.85 L396.00,414.82 L396.50,418.62 L397.00,430.31 L397.50,434.00 L398.00,432.59 L398.50,443.04 L399.00,443.40 L399.50,448.73 L400.00,451.49 L400.50,453.34 L401.00,454.49 L401.50,455.18 L402.00,456.30 L402.50,456.52 L403.00,456.89 L403.50,457.04 L404.00,457.10 L404.50,457.16 L405.00,457.18 L405.50,457.19 L406.00,457.19 L406.50,457.20 L407.00,457.20 L407.50,457.20 L408.00,457.20 L408.50,457.20 L409.00,457.20 L409.50,457.20 L410.00,457.20 L410.50,457.20 L411.00,457.20 L411.50,457.20 L412.00,457.20 L412.50,457.20 L413.00,457.20 L413.50,457.20 L414.00,457.20 L414.50,457.20 L415.00,457.20 L415.50,457.20 L416.00,457.20 L416.50,457.20 L417.00,457.20 L417.50,457.20 L418.00,457.20 L418.50,457.20 L419.00,457.20 L419.50,457.20 L420.00,457.20 L420.50,457.20 L421.00,457.20 L421.50,457.20 L422.00,457.20 L422.50,457.20 L423.00,457.20 L423.50,457.20 L424.00,457.20 L424.50,457.20 L425.00,457.20 L425.50,457.20 L426.00,457.20 L426.50,457.20 L427.00,457.20 L427.50,457.20 L428.00,457.20 L428.50,457.20 L429.00,457.20 L429.50,457.20 L430.00,457.20 L430.50,457.20 L431.00,457.20 L431.50,457.20 L432.00,457.20 L432.50,457.20 L433.00,457.20 L433.50,457.20 L434.00,457.20 L434.50,457.20 L435.00,457.20 L435.50,457.20 L436.00,457.20 L436.50,457.20 L437.00,457.20 L437.50,457.20 L438.00,457.20 L438.50,457.20 L439.00,457.20 L439.50,457.20" fill="none" stroke="#000" stroke-width="1.2" stroke-linejoin="round"/>
<rect x="380.40" y="410.40" width="59.90" height="47.50" fill="none" stroke="#555" stroke-width="0.9"/>
<path d="M380.40,410.40 V457.90 H440.30" fill="none" stroke="#2a2a2a" stroke-width="1.1"/>
<line x1="378.60" y1="457.90" x2="380.40" y2="457.90" stroke="#666" stroke-width="0.7"/>
<line x1="378.60" y1="446.02" x2="380.40" y2="446.02" stroke="#666" stroke-width="0.7"/>
<line x1="378.60" y1="434.15" x2="380.40" y2="434.15" stroke="#666" stroke-width="0.7"/>
<line x1="378.60" y1="422.27" x2="380.40" y2="422.27" stroke="#666" stroke-width="0.7"/>
<line x1="378.60" y1="410.40" x2="380.40" y2="410.40" stroke="#666" stroke-width="0.7"/>
<line x1="379.50" y1="457.90" x2="380.40" y2="457.90" stroke="#999" stroke-width="0.4"/>
<line x1="379.50" y1="454.93" x2="380.40" y2="454.93" stroke="#999" stroke-width="0.4"/>
<line x1="379.50" y1="451.96" x2="380.40" y2="451.96" stroke="#999" stroke-width="0.4"/>
<line x1="379.50" y1="448.99" x2="380.40" y2="448.99" stroke="#999" stroke-width="0.4"/>
<line x1="379.50" y1="446.02" x2="380.40" y2="446.02" stroke="#999" stroke-width="0.4"/>
<line x1="379.50" y1="443.06" x2="380.40" y2="443.06" stroke="#999" stroke-width="0.4"/>
<line x1="379.50" y1="440.09" x2="380.40" y2="440.09" stroke="#999" stroke-width="0.4"/>
<line x1="379.50" y1="437.12" x2="380.40" y2="437.12" stroke="#999" stroke-width="0.4"/>
<line x1="379.50" y1="434.15" x2="380.40" y2="434.15" stroke="#999" stroke-width="0.4"/>
<line x1="379.50" y1="431.18" x2="380.40" y2="431.18" stroke="#999" stroke-width="0.4"/>
<line x1="379.50" y1="428.21" x2="380.40" y2="428.21" stroke="#999" stroke-width="0.4"/>
<line x1="379.50" y1="425.24" x2="380.40" y2="425.24" stroke="#999" stroke-width="0.4"/>
<line x1="379.50" y1="422.27" x2="380.40" y2="422.27" stroke="#999" stroke-width="0.4"/>
<line x1="379.50" y1="419.31" x2="380.40" y2="419.31" stroke="#999" stroke-width="0.4"/>
<line x1="379.50" y1="416.34" x2="380.40" y2="416.34" stroke="#999" stroke-width="0.4"/>
<line x1="379.50" y1="413.37" x2="380.40" y2="413.37" stroke="#999" stroke-width="0.4"/>
<line x1="379.50" y1="410.40" x2="380.40" y2="410.40" stroke="#999" stroke-width="0.4"/>
<text x="377.30" y="459.25" font-size="3.8" text-anchor="end" font-weight="normal" fill="#4a4a4a">0</text>
<text x="377.30" y="447.38" font-size="3.8" text-anchor="end" font-weight="normal" fill="#4a4a4a">8</text>
<text x="377.30" y="435.50" font-size="3.8" text-anchor="end" font-weight="normal" fill="#4a4a4a">16</text>
<text x="377.30" y="423.62" font-size="3.8" text-anchor="end" font-weight="normal" fill="#4a4a4a">24</text>
<text x="377.30" y="411.75" font-size="3.8" text-anchor="end" font-weight="normal" fill="#4a4a4a">32</text>
<text x="372.50" y="434.15" font-size="4.4" text-anchor="middle" font-weight="normal" fill="#444" transform="rotate(-90 372.50 434.15)">Count</text>
<text x="384.29" y="465.10" font-size="4.0" text-anchor="middle" font-weight="normal" fill="#4a4a4a" textLength="16.5" lengthAdjust="spacingAndGlyphs">-10²10¹10²</text>
<line x1="413.35" y1="457.90" x2="413.35" y2="459.40" stroke="#666" stroke-width="0.6"/>
<text x="413.35" y="465.10" font-size="4.0" text-anchor="middle" font-weight="normal" fill="#4a4a4a">10³</text>
<line x1="428.02" y1="457.90" x2="428.02" y2="459.40" stroke="#666" stroke-width="0.6"/>
<text x="428.02" y="465.10" font-size="4.0" text-anchor="middle" font-weight="normal" fill="#4a4a4a">10⁴</text>
<line x1="438.50" y1="457.90" x2="438.50" y2="459.40" stroke="#666" stroke-width="0.6"/>
<text x="438.50" y="465.10" font-size="4.0" text-anchor="middle" font-weight="normal" fill="#4a4a4a">10⁵</text>
<text x="410.35" y="470.71" font-size="4.4" text-anchor="middle" font-weight="normal" fill="#444">CD41</text>
<path d="M459.90,457.31 L460.40,456.78 L460.90,455.88 L461.40,454.42 L461.90,452.22 L462.40,449.09 L462.90,444.92 L463.40,439.75 L463.90,433.78 L464.40,427.47 L464.90,421.44 L465.40,416.41 L465.90,413.07 L466.40,411.90 L466.90,412.81 L467.40,415.44 L467.90,419.48 L468.40,424.50 L468.90,430.00 L469.40,435.51 L469.90,440.64 L470.40,445.11 L470.90,448.80 L471.40,451.67 L471.90,453.81 L472.40,455.32 L472.90,456.33 L473.40,456.99 L473.90,457.39 L474.40,457.63 L474.90,457.76 L475.40,457.83 L475.90,457.87 L476.40,457.88 L476.90,457.89 L477.40,457.90 L477.90,457.90 L478.40,457.90 L478.90,457.90 L479.40,457.90 L479.90,457.90 L480.40,457.90 L480.90,457.90 L481.40,457.90 L481.90,457.90 L482.40,457.90 L482.90,457.90 L483.40,457.90 L483.90,457.90 L484.40,457.90 L484.90,457.90 L485.40,457.90 L485.90,457.90 L486.40,457.90 L486.90,457.90 L487.40,457.90 L487.90,457.90 L488.40,457.90 L488.90,457.90 L489.40,457.90 L489.90,457.90 L490.40,457.90 L490.90,457.90 L491.40,457.90 L491.90,457.90 L492.40,457.90 L492.90,457.90 L493.40,457.90 L493.90,457.90 L494.40,457.90 L494.90,457.90 L495.40,457.90 L495.90,457.90 L496.40,457.90 L496.90,457.90 L497.40,457.90 L497.90,457.90 L498.40,457.90 L498.90,457.90 L499.40,457.90 L499.90,457.90 L500.40,457.90 L500.90,457.90 L501.40,457.90 L501.90,457.90 L502.40,457.90 L502.90,457.90 L503.40,457.90 L503.90,457.90 L504.40,457.90 L504.90,457.90 L505.40,457.90 L505.90,457.90 L506.40,457.90 L506.90,457.90 L507.40,457.90 L507.90,457.90 L508.40,457.90 L508.90,457.90 L509.40,457.90 L509.90,457.90 L510.40,457.90 L510.90,457.90 L511.40,457.90 L511.90,457.90 L512.40,457.90 L512.90,457.90 L513.40,457.90 L513.90,457.90 L514.40,457.90 L514.90,457.90 L515.40,457.90 L515.90,457.90" fill="none" stroke="#333" stroke-width="0.9" stroke-linejoin="round"/>
<rect x="459.30" y="411.10" width="57.70" height="47.50" fill="none" stroke="#555" stroke-width="0.9"/>
<path d="M459.30,411.10 V458.60 H517.00" fill="none" stroke="#2a2a2a" stroke-width="1.1"/>
<line x1="457.50" y1="458.60" x2="459.30" y2="458.60" stroke="#666" stroke-width="0.7"/>
<line x1="457.50" y1="446.73" x2="459.30" y2="446.73" stroke="#666" stroke-width="0.7"/>
<line x1="457.50" y1="434.85" x2="459.30" y2="434.85" stroke="#666" stroke-width="0.7"/>
<line x1="457.50" y1="422.98" x2="459.30" y2="422.98" stroke="#666" stroke-width="0.7"/>
<line x1="457.50" y1="411.10" x2="459.30" y2="411.10" stroke="#666" stroke-width="0.7"/>
<line x1="458.40" y1="458.60" x2="459.30" y2="458.60" stroke="#999" stroke-width="0.4"/>
<line x1="458.40" y1="455.63" x2="459.30" y2="455.63" stroke="#999" stroke-width="0.4"/>
<line x1="458.40" y1="452.66" x2="459.30" y2="452.66" stroke="#999" stroke-width="0.4"/>
<line x1="458.40" y1="449.69" x2="459.30" y2="449.69" stroke="#999" stroke-width="0.4"/>
<line x1="458.40" y1="446.73" x2="459.30" y2="446.73" stroke="#999" stroke-width="0.4"/>
<line x1="458.40" y1="443.76" x2="459.30" y2="443.76" stroke="#999" stroke-width="0.4"/>
<line x1="458.40" y1="440.79" x2="459.30" y2="440.79" stroke="#999" stroke-width="0.4"/>
<line x1="458.40" y1="437.82" x2="459.30" y2="437.82" stroke="#999" stroke-width="0.4"/>
<line x1="458.40" y1="434.85" x2="459.30" y2="434.85" stroke="#999" stroke-width="0.4"/>
<line x1="458.40" y1="431.88" x2="459.30" y2="431.88" stroke="#999" stroke-width="0.4"/>
<line x1="458.40" y1="428.91" x2="459.30" y2="428.91" stroke="#999" stroke-width="0.4"/>
<line x1="458.40" y1="425.94" x2="459.30" y2="425.94" stroke="#999" stroke-width="0.4"/>
<line x1="458.40" y1="422.98" x2="459.30" y2="422.98" stroke="#999" stroke-width="0.4"/>
<line x1="458.40" y1="420.01" x2="459.30" y2="420.01" stroke="#999" stroke-width="0.4"/>
<line x1="458.40" y1="417.04" x2="459.30" y2="417.04" stroke="#999" stroke-width="0.4"/>
<line x1="458.40" y1="414.07" x2="459.30" y2="414.07" stroke="#999" stroke-width="0.4"/>
<line x1="458.40" y1="411.10" x2="459.30" y2="411.10" stroke="#999" stroke-width="0.4"/>
<text x="456.20" y="459.95" font-size="3.8" text-anchor="end" font-weight="normal" fill="#4a4a4a">0</text>
<text x="456.20" y="448.08" font-size="3.8" text-anchor="end" font-weight="normal" fill="#4a4a4a">384</text>
<text x="456.20" y="436.20" font-size="3.8" text-anchor="end" font-weight="normal" fill="#4a4a4a">768</text>
<text x="456.20" y="424.33" font-size="3.8" text-anchor="end" font-weight="normal" fill="#4a4a4a">1153</text>
<text x="456.20" y="412.45" font-size="3.8" text-anchor="end" font-weight="normal" fill="#4a4a4a">1537</text>
<text x="446.50" y="434.85" font-size="4.4" text-anchor="middle" font-weight="normal" fill="#444" transform="rotate(-90 446.50 434.85)">Count</text>
<text x="463.05" y="465.80" font-size="4.0" text-anchor="middle" font-weight="normal" fill="#4a4a4a" textLength="16.5" lengthAdjust="spacingAndGlyphs">-10²10¹10²</text>
<line x1="491.04" y1="458.60" x2="491.04" y2="460.10" stroke="#666" stroke-width="0.6"/>
<text x="491.04" y="465.80" font-size="4.0" text-anchor="middle" font-weight="normal" fill="#4a4a4a">10³</text>
<line x1="505.17" y1="458.60" x2="505.17" y2="460.10" stroke="#666" stroke-width="0.6"/>
<text x="505.17" y="465.80" font-size="4.0" text-anchor="middle" font-weight="normal" fill="#4a4a4a">10⁴</text>
<line x1="515.27" y1="458.60" x2="515.27" y2="460.10" stroke="#666" stroke-width="0.6"/>
<text x="515.27" y="465.80" font-size="4.0" text-anchor="middle" font-weight="normal" fill="#4a4a4a">10⁵</text>
<text x="488.15" y="471.41" font-size="4.4" text-anchor="middle" font-weight="normal" fill="#444">CD41</text>
<line x1="392.9" y1="411" x2="392.9" y2="457" stroke="#ccc" stroke-width="0.6"/>
<line x1="472.4" y1="408.1" x2="487.9" y2="408.1" stroke="#999" stroke-width="0.6"/>
</svg>
</body></html>
